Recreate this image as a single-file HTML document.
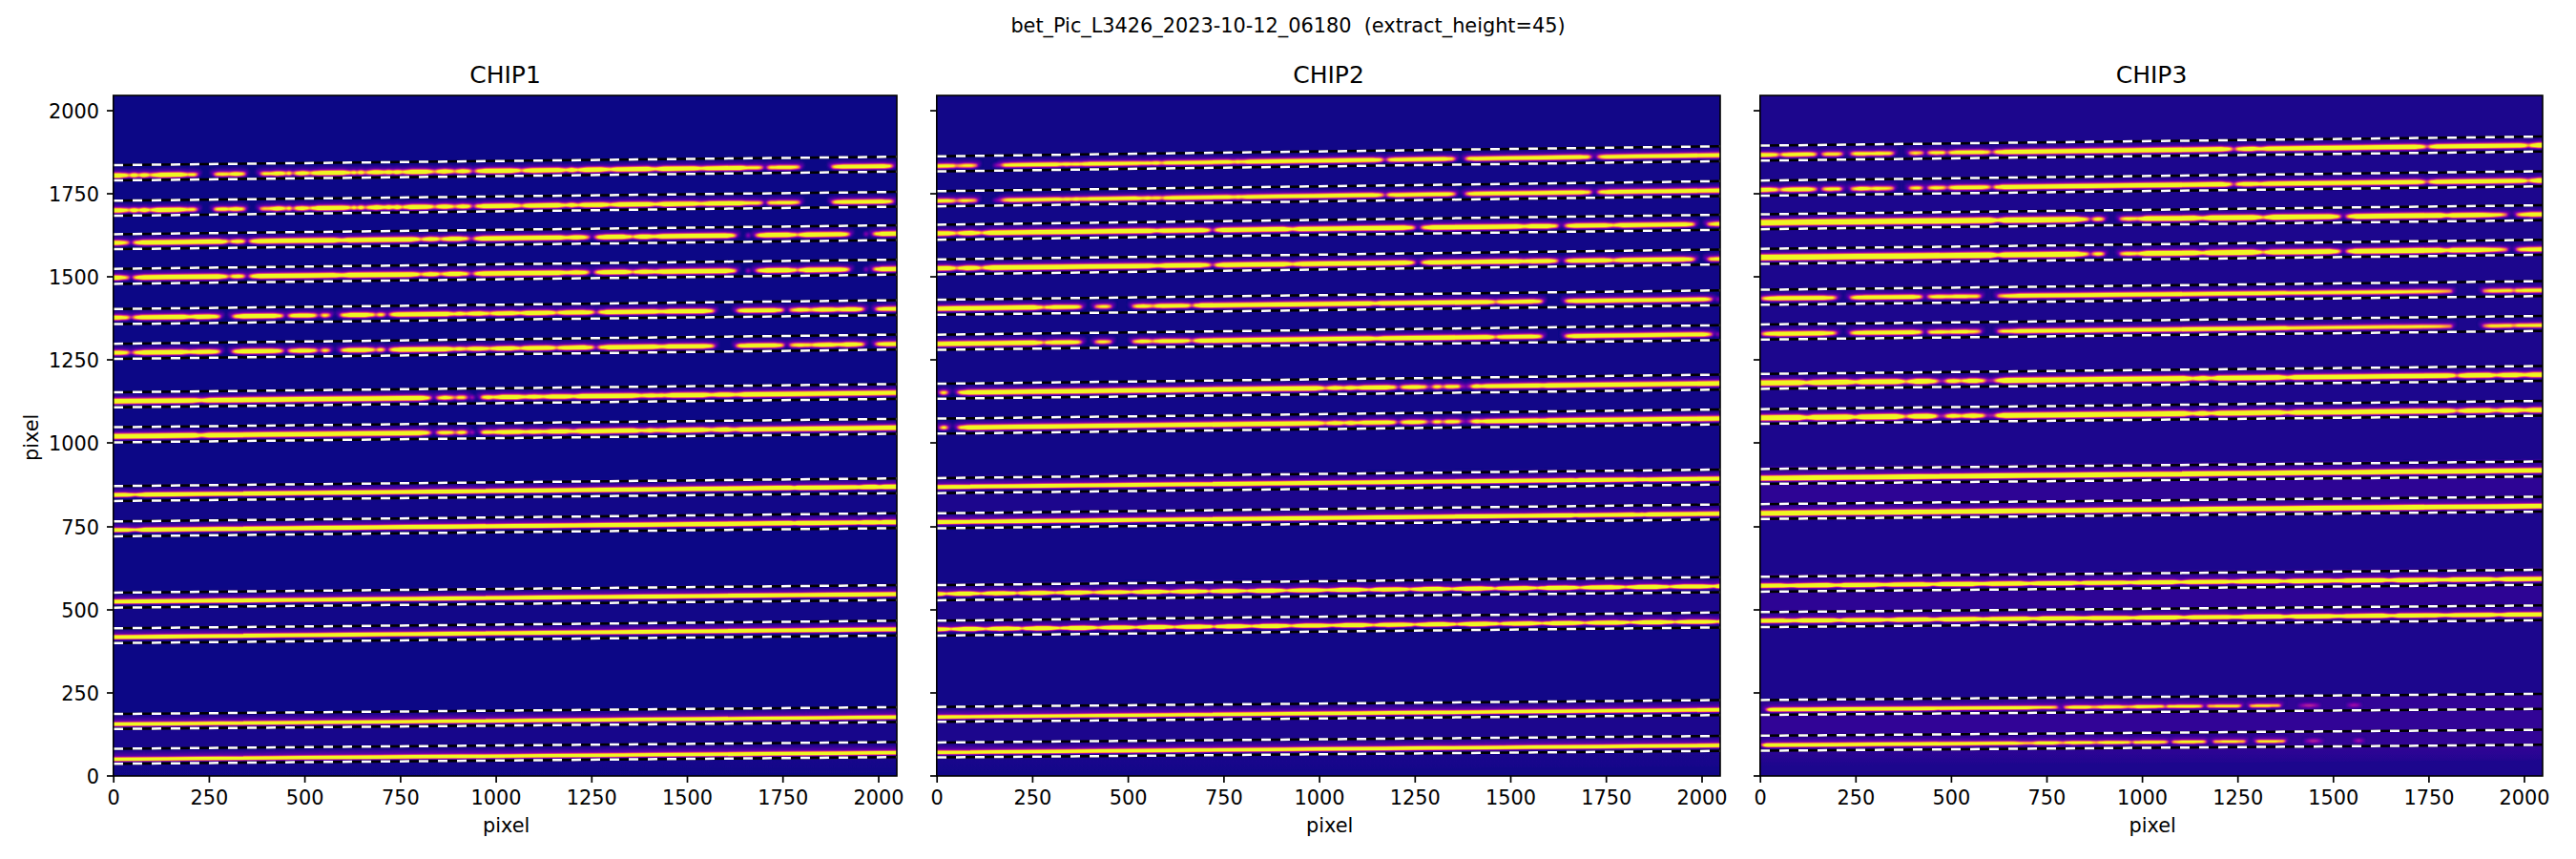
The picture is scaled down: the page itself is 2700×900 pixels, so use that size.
<!DOCTYPE html><html><head><meta charset="utf-8"><title>trace plot</title><style>html,body{margin:0;padding:0;background:#fff}svg{display:block}</style></head><body><svg width="2700" height="900" viewBox="0 0 2700 900" font-family="'DejaVu Sans','Liberation Sans',sans-serif" fill="#000">
<defs>
<filter id="pl" filterUnits="userSpaceOnUse" x="0" y="60" width="2700" height="800" color-interpolation-filters="sRGB"><feComponentTransfer><feFuncR type="table" tableValues="0.0504 0.1324 0.1934 0.2480 0.2999 0.3502 0.3994 0.4477 0.4949 0.5406 0.5844 0.6260 0.6651 0.7018 0.7360 0.7681 0.7982 0.8266 0.8533 0.8784 0.9018 0.9233 0.9426 0.9594 0.9734 0.9842 0.9914 0.9945 0.9930 0.9865 0.9744 0.9568 0.9400 0.9400 0.9400 0.9400 0.9400 0.9400 0.9400 0.9400 0.9400 0.9400 0.9400 0.9400 0.9400 0.9400 0.9400 0.9400 0.9400 0.9400 0.9400 0.9400 0.9400 0.9400 0.9400 0.9400 0.9400 0.9400 0.9400 0.9400 0.9400 0.9400 0.9400 0.9400 0.9400"/><feFuncG type="table" tableValues="0.0298 0.0223 0.0184 0.0144 0.0096 0.0044 0.0009 0.0021 0.0120 0.0350 0.0686 0.1033 0.1386 0.1740 0.2094 0.2448 0.2802 0.3157 0.3516 0.3879 0.4251 0.4633 0.5026 0.5434 0.5858 0.6297 0.6754 0.7227 0.7717 0.8224 0.8746 0.9282 0.9752 0.9752 0.9752 0.9752 0.9752 0.9752 0.9752 0.9752 0.9752 0.9752 0.9752 0.9752 0.9752 0.9752 0.9752 0.9752 0.9752 0.9752 0.9752 0.9752 0.9752 0.9752 0.9752 0.9752 0.9752 0.9752 0.9752 0.9752 0.9752 0.9752 0.9752 0.9752 0.9752"/><feFuncB type="table" tableValues="0.5280 0.5633 0.5903 0.6129 0.6316 0.6463 0.6561 0.6602 0.6579 0.6486 0.6328 0.6113 0.5856 0.5573 0.5279 0.4985 0.4695 0.4413 0.4137 0.3866 0.3597 0.3328 0.3058 0.2787 0.2515 0.2246 0.1985 0.1744 0.1548 0.1436 0.1441 0.1524 0.1313 0.1313 0.1313 0.1313 0.1313 0.1313 0.1313 0.1313 0.1313 0.1313 0.1313 0.1313 0.1313 0.1313 0.1313 0.1313 0.1313 0.1313 0.1313 0.1313 0.1313 0.1313 0.1313 0.1313 0.1313 0.1313 0.1313 0.1313 0.1313 0.1313 0.1313 0.1313 0.1313"/></feComponentTransfer></filter>
<clipPath id="c0"><rect x="118.8" y="100.0" width="821.2" height="713.0"/></clipPath>
<clipPath id="c1"><rect x="981.8" y="100.0" width="821.2" height="713.0"/></clipPath>
<clipPath id="c2"><rect x="1844.8" y="100.0" width="820.2" height="713.0"/></clipPath>
<filter id="blA" filterUnits="userSpaceOnUse" x="0" y="60" width="2700" height="800" color-interpolation-filters="sRGB"><feGaussianBlur stdDeviation="1.0 1.4"/></filter>
<filter id="blB" filterUnits="userSpaceOnUse" x="0" y="60" width="2700" height="800" color-interpolation-filters="sRGB"><feGaussianBlur stdDeviation="1.0 1.3"/></filter>
<filter id="blC" filterUnits="userSpaceOnUse" x="0" y="60" width="2700" height="800" color-interpolation-filters="sRGB"><feGaussianBlur stdDeviation="1.0 1.0"/></filter>
<linearGradient id="fd0" x1="0" y1="0" x2="0" y2="1"><stop offset="0" stop-color="#020202"/><stop offset="1" stop-color="#000"/></linearGradient>
<linearGradient id="fd1" x1="0" y1="0" x2="0" y2="1"><stop offset="0" stop-color="#030303"/><stop offset="1" stop-color="#010101"/></linearGradient>
<linearGradient id="fd2" x1="0" y1="0" x2="0" y2="1"><stop offset="0" stop-color="#080808"/><stop offset="1" stop-color="#030303"/></linearGradient>
</defs>
<rect width="2700" height="900" fill="#fff"/>
<g clip-path="url(#c0)"><g filter="url(#pl)">
<rect x="99.0" y="80.0" width="861.0" height="753.0" fill="#000"/>
<path d="M114.0 506.3L945.0 498.2L945.0 555.3L114.0 563.9Z" fill="#010101"/>
<path d="M114.0 618.0L945.0 610.0L945.0 667.9L114.0 675.8Z" fill="#010101"/>
<path d="M114.0 749.1L945.0 741.9L945.0 795.2L114.0 802.2Z" fill="#020202"/>
<path d="M114.0 802.2L945.0 795.2L945.0 809.2L114.0 816.2Z" fill="url(#fd0)"/>
<g filter="url(#blA)"><defs><path id="b0A" d="M107 182.5L125.3 182.3L127.3 182.4L130.3 182.6L133.3 182.7L135.3 183.1L138.3 183.7L135.3 184.3L133.3 184.7L130.3 185L127.3 185.2L125.3 185.4L107 185.6ZM133.1 183.7L136.1 183.1L137 182.7L138.4 182.5L139.7 182.3L140.6 182.2L141.5 182.3L142.8 182.5L144.2 182.6L145.1 183L148.1 183.5L145.1 184.2L144.2 184.6L142.8 184.8L141.5 185L140.6 185.1L139.7 185L138.4 184.8L137 184.7L136.1 184.3ZM142.6 183.6L145.6 183L146.7 182.6L148.4 182.4L150.1 182.2L151.2 182.1L152.3 182.2L154 182.3L155.7 182.5L156.8 182.8L159.8 183.4L156.8 184.1L155.7 184.4L154 184.6L152.3 184.8L151.2 184.9L150.1 184.9L148.4 184.7L146.7 184.5L145.6 184.2ZM154.5 183.5L157.5 182.8L159.5 182.4L162.5 182.2L165.5 181.9L167.5 181.8L187.2 181.5L189.2 181.6L192.2 181.8L195.2 182L197.2 182.3L200.2 182.9L197.2 183.6L195.2 184L192.2 184.2L189.2 184.5L187.2 184.6L167.5 184.9L165.5 184.8L162.5 184.6L159.5 184.4L157.5 184.1ZM193.2 183L196.2 182.3L197.2 182.2L198.6 182L200 181.9L201 181.9L201.9 181.9L203.3 181.9L204.8 182.1L205.7 182.2L208.7 182.8L205.7 183.5L204.8 183.7L203.3 183.9L201.9 183.9L201 183.9L200 183.9L198.6 183.9L197.2 183.8L196.2 183.6ZM222.7 182.6L225.7 182L227.2 181.7L229.4 181.5L231.6 181.4L233.1 181.4L234.5 181.4L236.7 181.4L238.9 181.5L240.4 181.8L243.4 182.4L240.4 183L238.9 183.4L236.7 183.5L234.5 183.6L233.1 183.7L231.6 183.6L229.4 183.6L227.2 183.5L225.7 183.2ZM236.9 182.5L239.9 181.8L241.4 181.4L243.7 181.3L246 181.1L247.5 181L249 181.1L251.3 181.2L253.6 181.3L255.1 181.6L258.1 182.2L255.1 182.9L253.6 183.2L251.3 183.4L249 183.6L247.5 183.7L246 183.6L243.7 183.5L241.4 183.4L239.9 183.1ZM270.8 182.1L273.8 181.4L274.9 181.2L276.5 181L278.1 181L279.1 181L280.2 181L281.8 181L283.4 181.1L284.4 181.3L287.4 181.9L284.4 182.5L283.4 182.7L281.8 182.9L280.2 182.9L279.1 183L278.1 183L276.5 183L274.9 182.8L273.8 182.6ZM279.8 182L282.8 181.3L284.5 180.9L287 180.7L289.5 180.5L291.2 180.4L292.9 180.5L295.4 180.6L297.9 180.7L299.6 181.1L302.6 181.7L299.6 182.3L297.9 182.7L295.4 182.9L292.9 183.1L291.2 183.3L289.5 183.2L287 183L284.5 182.9L282.8 182.5ZM297.4 181.7L300.4 181.1L300.9 180.8L301.6 180.7L302.3 180.6L302.8 180.5L303.2 180.6L303.9 180.6L304.6 180.7L305.1 181L308.1 181.6L305.1 182.3L304.6 182.6L303.9 182.7L303.2 182.8L302.8 182.8L302.3 182.8L301.6 182.7L300.9 182.6L300.4 182.3ZM305.9 181.6L308.9 181L310.4 180.6L312.8 180.4L315.2 180.2L316.8 180.1L318.3 180.1L320.7 180.3L323.1 180.4L324.7 180.8L327.7 181.4L324.7 182L323.1 182.4L320.7 182.6L318.3 182.8L316.8 182.9L315.2 182.9L312.8 182.7L310.4 182.6L308.9 182.2ZM322.2 181.4L325.2 180.8L327.2 180.4L330.2 180.1L333.2 179.9L335.2 179.7L358 179.4L360 179.5L363 179.7L366 179.9L368 180.3L371 180.8L368 181.5L366 181.9L363 182.1L360 182.4L358 182.6L335.2 182.8L333.2 182.7L330.2 182.5L327.2 182.4L325.2 182ZM365.3 180.9L368.3 180.3L368.9 179.9L369.7 179.8L370.4 179.7L371 179.7L371.5 179.7L372.3 179.8L373 179.9L373.6 180.2L376.6 180.8L373.6 181.4L373 181.8L372.3 181.9L371.5 182L371 182L370.4 182L369.7 181.9L368.9 181.8L368.3 181.5ZM371.9 180.8L374.9 180.2L375.6 179.8L376.6 179.7L377.6 179.6L378.3 179.5L379 179.6L380 179.7L381 179.8L381.7 180.1L384.7 180.7L381.7 181.3L381 181.7L380 181.8L379 181.9L378.3 182L377.6 181.9L376.6 181.8L375.6 181.8L374.9 181.4ZM380.8 180.7L383.8 180.1L385.8 179.7L388.8 179.4L391.8 179.1L393.8 179L394.2 179L396.2 179.1L399.2 179.3L402.2 179.5L404.2 179.8L407.2 180.4L404.2 181.1L402.2 181.5L399.2 181.7L396.2 182L394.2 182.1L393.8 182.1L391.8 182L388.8 181.8L385.8 181.7L383.8 181.3ZM399.6 180.5L402.6 179.8L403.6 179.5L405 179.3L406.5 179.1L407.5 179L408.4 179L409.9 179.2L411.4 179.4L412.4 179.7L415.4 180.3L412.4 181L411.4 181.3L409.9 181.5L408.4 181.7L407.5 181.8L406.5 181.8L405 181.6L403.6 181.4L402.6 181.1ZM408 180.4L411 179.7L412.1 179.4L413.7 179.2L415.2 179L416.3 178.9L417.3 178.9L418.9 179.1L420.4 179.3L421.5 179.6L424.5 180.2L421.5 180.9L420.4 181.2L418.9 181.4L417.3 181.6L416.3 181.7L415.2 181.7L413.7 181.5L412.1 181.3L411 181ZM418.5 180.3L421.5 179.6L423.5 179.2L426.5 179L429.5 178.7L431.5 178.5L445 178.4L447 178.5L450 178.7L453 178.9L455 179.2L458 179.8L455 180.4L453 180.8L450 181.1L447 181.4L445 181.5L431.5 181.7L429.5 181.6L426.5 181.4L423.5 181.2L421.5 180.9ZM453.4 179.8L456.4 179.2L458.3 178.8L461.3 178.6L464.3 178.3L466.3 178.1L468.3 178.2L471.3 178.4L474.2 178.6L476.2 179L479.2 179.5L476.2 180.2L474.2 180.6L471.3 180.8L468.3 181.1L466.3 181.3L464.3 181.2L461.3 180.9L458.3 180.8L456.4 180.4ZM474.1 179.6L477.1 178.9L478.7 178.6L481.1 178.4L483.6 178.1L485.2 178L486.8 178.1L489.3 178.3L491.7 178.4L493.3 178.7L496.3 179.3L493.3 180L491.7 180.4L489.3 180.6L486.8 180.8L485.2 180.9L483.6 180.8L481.1 180.7L478.7 180.5L477.1 180.2ZM495.7 179.3L498.7 178.7L500.7 178.3L503.7 178L506.7 177.8L508.7 177.6L536.3 177.3L538.3 177.4L541.3 177.6L544.3 177.7L546.3 178.1L549.3 178.7L546.3 179.3L544.3 179.7L541.3 180L538.3 180.3L536.3 180.4L508.7 180.7L506.7 180.6L503.7 180.4L500.7 180.3L498.7 179.9ZM544.1 178.7L547.1 178.1L549.1 177.7L552.1 177.5L555.1 177.2L557.1 177L583.9 176.7L585.9 176.8L588.9 177L591.9 177.2L593.9 177.5L596.9 178.1L593.9 178.8L591.9 179.2L588.9 179.4L585.9 179.7L583.9 179.8L557.1 180.2L555.1 180.1L552.1 179.9L549.1 179.7L547.1 179.3ZM589.6 178.2L592.6 177.5L593.9 177.2L595.9 177L597.9 176.7L599.3 176.6L600.6 176.7L602.6 176.9L604.6 177L605.9 177.4L608.9 178L605.9 178.6L604.6 179L602.6 179.2L600.6 179.4L599.3 179.5L597.9 179.4L595.9 179.3L593.9 179.1L592.6 178.8ZM602 178L605 177.4L607 177L610 176.7L613 176.5L615 176.3L630.3 176.1L632.3 176.2L635.3 176.4L638.3 176.6L640.3 177L643.3 177.5L640.3 178.2L638.3 178.6L635.3 178.8L632.3 179.1L630.3 179.3L615 179.5L613 179.4L610 179.2L607 179L605 178.6ZM635.9 177.6L638.9 177L640.9 176.6L643.9 176.3L646.9 176L648.9 175.9L677.8 175.5L679.8 175.6L682.8 175.9L685.8 176L687.8 176.4L690.8 177L687.8 177.6L685.8 178L682.8 178.3L679.8 178.6L677.8 178.7L648.9 179.1L646.9 179L643.9 178.7L640.9 178.6L638.9 178.2ZM683.1 177.1L686.1 176.4L688.1 176L691.1 175.8L694.1 175.5L696.1 175.3L725.7 175L727.7 175.1L730.7 175.3L733.7 175.5L735.7 175.8L738.7 176.4L735.7 177L733.7 177.4L730.7 177.7L727.7 178L725.7 178.1L696.1 178.5L694.1 178.4L691.1 178.2L688.1 178L686.1 177.6ZM730.7 176.5L733.7 175.8L735.7 175.4L738.7 175.2L741.7 175L743.7 174.9L775.9 174.5L777.9 174.6L780.9 174.7L783.9 174.9L785.9 175.2L788.9 175.8L785.9 176.4L783.9 176.8L780.9 177L777.9 177.3L775.9 177.4L743.7 177.8L741.7 177.7L738.7 177.5L735.7 177.4L733.7 177.1ZM778 175.9L781 175.3L782.7 175L785.3 174.8L787.8 174.8L789.5 174.7L791.2 174.7L793.8 174.7L796.4 174.8L798.1 175L801.1 175.6L798.1 176.3L796.4 176.6L793.8 176.7L791.2 176.8L789.5 176.8L787.8 176.8L785.3 176.8L782.7 176.7L781 176.5ZM802.4 175.6L805.4 175L807.4 174.6L810.4 174.5L813.4 174.4L815.4 174.3L827.2 174.2L829.2 174.2L832.2 174.2L835.2 174.3L837.2 174.6L840.2 175.2L837.2 175.8L835.2 176.1L832.2 176.3L829.2 176.4L827.2 176.4L815.4 176.6L813.4 176.6L810.4 176.5L807.4 176.5L805.4 176.2ZM870.1 174.8L873.1 174.1L875.1 173.8L878.1 173.6L881.1 173.4L883.1 173.3L925 172.8L927 172.8L930 173L933 173.1L935 173.4L938 174L935 174.6L933 175L930 175.2L927 175.4L925 175.5L883.1 176L881.1 175.9L878.1 175.8L875.1 175.7L873.1 175.4ZM107 219.1L125.3 218.9L127.3 219L130.3 219.2L133.3 219.3L135.3 219.7L138.3 220.3L135.3 220.9L133.3 221.3L130.3 221.6L127.3 221.8L125.3 222L107 222.2ZM133.1 220.3L136.1 219.7L137 219.3L138.4 219.1L139.7 218.9L140.6 218.8L141.5 218.9L142.8 219.1L144.2 219.2L145.1 219.6L148.1 220.2L145.1 220.8L144.2 221.2L142.8 221.4L141.5 221.6L140.6 221.7L139.7 221.6L138.4 221.4L137 221.3L136.1 220.9ZM142.6 220.2L145.6 219.6L146.7 219.2L148.4 219L150.1 218.8L151.2 218.7L152.3 218.8L154 219L155.7 219.1L156.8 219.4L159.8 220L156.8 220.7L155.7 221.1L154 221.2L152.3 221.5L151.2 221.6L150.1 221.5L148.4 221.3L146.7 221.2L145.6 220.8ZM154.5 220.1L157.5 219.4L159.5 219L162.5 218.8L165.5 218.5L167.5 218.4L187.2 218.2L189.2 218.3L192.2 218.5L195.2 218.6L197.2 219L200.2 219.6L197.2 220.2L195.2 220.6L192.2 220.8L189.2 221.1L187.2 221.3L167.5 221.5L165.5 221.4L162.5 221.2L159.5 221L157.5 220.7ZM193.2 219.6L196.2 219L197.2 218.8L198.6 218.6L200 218.6L201 218.5L201.9 218.5L203.3 218.6L204.8 218.7L205.7 218.9L208.7 219.5L205.7 220.1L204.8 220.3L203.3 220.5L201.9 220.5L201 220.6L200 220.6L198.6 220.6L197.2 220.4L196.2 220.2ZM222.7 219.3L225.7 218.6L227.2 218.3L229.4 218.2L231.6 218.1L233.1 218L234.5 218.1L236.7 218.1L238.9 218.2L240.4 218.5L243.4 219.1L240.4 219.7L238.9 220L236.7 220.2L234.5 220.3L233.1 220.3L231.6 220.3L229.4 220.3L227.2 220.2L225.7 219.9ZM236.9 219.1L239.9 218.5L241.4 218.1L243.7 218L246 217.8L247.5 217.7L249 217.7L251.3 217.9L253.6 218L255.1 218.3L258.1 218.9L255.1 219.5L253.6 219.9L251.3 220.1L249 220.2L247.5 220.3L246 220.3L243.7 220.2L241.4 220.1L239.9 219.7ZM270.8 218.7L273.8 218.1L274.9 217.9L276.5 217.7L278.1 217.7L279.1 217.7L280.2 217.7L281.8 217.7L283.4 217.8L284.4 218L287.4 218.6L284.4 219.2L283.4 219.4L281.8 219.6L280.2 219.6L279.1 219.6L278.1 219.6L276.5 219.6L274.9 219.5L273.8 219.3ZM279.8 218.6L282.8 218L284.5 217.6L287 217.4L289.5 217.2L291.2 217.1L292.9 217.1L295.4 217.3L297.9 217.4L299.6 217.8L302.6 218.4L299.6 219L297.9 219.4L295.4 219.6L292.9 219.8L291.2 219.9L289.5 219.9L287 219.7L284.5 219.6L282.8 219.2ZM297.4 218.4L300.4 217.8L300.9 217.5L301.6 217.4L302.3 217.3L302.8 217.2L303.2 217.3L303.9 217.3L304.6 217.4L305.1 217.7L308.1 218.3L305.1 219L304.6 219.3L303.9 219.4L303.2 219.5L302.8 219.5L302.3 219.5L301.6 219.4L300.9 219.3L300.4 219ZM305.9 218.3L308.9 217.7L310.4 217.3L312.8 217.1L315.2 216.9L316.8 216.8L318.3 216.9L320.7 217L323.1 217.2L324.7 217.5L327.7 218.1L324.7 218.7L323.1 219.1L320.7 219.3L318.3 219.5L316.8 219.7L315.2 219.6L312.8 219.4L310.4 219.3L308.9 218.9ZM322.2 218.1L325.2 217.5L327.2 217.1L330.2 216.9L333.2 216.6L335.2 216.4L358 216.2L360 216.3L363 216.5L366 216.6L368 217L371 217.6L368 218.2L366 218.6L363 218.9L360 219.2L358 219.3L335.2 219.6L333.2 219.5L330.2 219.3L327.2 219.1L325.2 218.7ZM365.3 217.6L368.3 217L368.9 216.7L369.7 216.6L370.4 216.5L371 216.4L371.5 216.5L372.3 216.5L373 216.6L373.6 216.9L376.6 217.5L373.6 218.2L373 218.5L372.3 218.6L371.5 218.7L371 218.7L370.4 218.7L369.7 218.6L368.9 218.5L368.3 218.2ZM371.9 217.6L374.9 216.9L375.6 216.6L376.6 216.5L377.6 216.3L378.3 216.3L379 216.3L380 216.4L381 216.5L381.7 216.8L384.7 217.4L381.7 218.1L381 218.4L380 218.5L379 218.7L378.3 218.7L377.6 218.7L376.6 218.6L375.6 218.5L374.9 218.2ZM380.8 217.5L383.8 216.8L385.8 216.4L388.8 216.2L391.8 215.9L393.8 215.8L394.2 215.8L396.2 215.8L399.2 216.1L402.2 216.2L404.2 216.6L407.2 217.2L404.2 217.8L402.2 218.2L399.2 218.5L396.2 218.7L394.2 218.9L393.8 218.9L391.8 218.8L388.8 218.6L385.8 218.4L383.8 218.1ZM399.6 217.3L402.6 216.6L403.6 216.2L405 216L406.5 215.8L407.5 215.7L408.4 215.8L409.9 216L411.4 216.1L412.4 216.5L415.4 217.1L412.4 217.7L411.4 218.1L409.9 218.3L408.4 218.5L407.5 218.6L406.5 218.5L405 218.3L403.6 218.2L402.6 217.8ZM408 217.2L411 216.5L412.1 216.1L413.7 215.9L415.2 215.7L416.3 215.6L417.3 215.7L418.9 215.9L420.4 216L421.5 216.4L424.5 217L421.5 217.6L420.4 218L418.9 218.2L417.3 218.4L416.3 218.5L415.2 218.4L413.7 218.2L412.1 218.1L411 217.7ZM418.5 217L421.5 216.4L423.5 216L426.5 215.7L429.5 215.5L431.5 215.3L445 215.2L447 215.3L450 215.5L453 215.6L455 216L458 216.6L455 217.2L453 217.6L450 217.9L447 218.2L445 218.3L431.5 218.5L429.5 218.4L426.5 218.1L423.5 218L421.5 217.6ZM453.4 216.6L456.4 216L458.3 215.6L461.3 215.3L464.3 215.1L466.3 214.9L468.3 215L471.3 215.2L474.2 215.4L476.2 215.7L479.2 216.3L476.2 217L474.2 217.4L471.3 217.6L468.3 217.9L466.3 218.1L464.3 218L461.3 217.7L458.3 217.6L456.4 217.2ZM474.1 216.4L477.1 215.7L478.7 215.4L481.1 215.2L483.6 214.9L485.2 214.8L486.8 214.9L489.3 215.1L491.7 215.2L493.3 215.5L496.3 216.1L493.3 216.8L491.7 217.2L489.3 217.4L486.8 217.6L485.2 217.7L483.6 217.6L481.1 217.5L478.7 217.3L477.1 217ZM495.7 216.1L498.7 215.5L500.7 215.1L503.7 214.9L506.7 214.6L508.7 214.4L536.3 214.1L538.3 214.2L541.3 214.4L544.3 214.6L546.3 214.9L549.3 215.5L546.3 216.2L544.3 216.6L541.3 216.8L538.3 217.1L536.3 217.2L508.7 217.6L506.7 217.5L503.7 217.2L500.7 217.1L498.7 216.7ZM544.1 215.6L547.1 214.9L549.1 214.5L552.1 214.3L555.1 214L557.1 213.9L583.9 213.5L585.9 213.6L588.9 213.9L591.9 214L593.9 214.4L596.9 215L593.9 215.6L591.9 216L588.9 216.3L585.9 216.5L583.9 216.7L557.1 217L555.1 216.9L552.1 216.7L549.1 216.5L547.1 216.2ZM589.6 215.1L592.6 214.4L593.9 214L595.9 213.8L597.9 213.6L599.3 213.5L600.6 213.6L602.6 213.8L604.6 213.9L605.9 214.2L608.9 214.8L605.9 215.5L604.6 215.9L602.6 216.1L600.6 216.3L599.3 216.4L597.9 216.3L595.9 216.1L593.9 216L592.6 215.6ZM602 214.9L605 214.3L607 213.9L610 213.6L613 213.3L615 213.2L630.3 213L632.3 213.1L635.3 213.3L638.3 213.5L640.3 213.8L643.3 214.4L640.3 215.1L638.3 215.5L635.3 215.7L632.3 216L630.3 216.2L615 216.3L613 216.2L610 216L607 215.8L605 215.5ZM635.9 214.5L638.9 213.9L640.9 213.5L643.9 213.2L646.9 212.9L648.9 212.8L677.8 212.5L679.8 212.6L682.8 212.8L685.8 212.9L687.8 213.3L690.8 213.9L687.8 214.5L685.8 214.9L682.8 215.2L679.8 215.5L677.8 215.6L648.9 215.9L646.9 215.8L643.9 215.6L640.9 215.5L638.9 215.1ZM683.1 214L686.1 213.3L688.1 212.9L691.1 212.7L694.1 212.4L696.1 212.2L725.7 211.9L727.7 212L730.7 212.2L733.7 212.4L735.7 212.7L738.7 213.3L735.7 214L733.7 214.4L730.7 214.6L727.7 214.9L725.7 215.1L696.1 215.4L694.1 215.3L691.1 215.1L688.1 214.9L686.1 214.6ZM730.7 213.4L733.7 212.8L735.7 212.4L738.7 212.2L741.7 211.9L743.7 211.8L775.9 211.4L777.9 211.5L780.9 211.7L783.9 211.8L785.9 212.2L788.9 212.7L785.9 213.4L783.9 213.8L780.9 214L777.9 214.2L775.9 214.4L743.7 214.7L741.7 214.7L738.7 214.5L735.7 214.4L733.7 214ZM778 212.9L781 212.2L782.7 212L785.3 211.8L787.8 211.7L789.5 211.7L791.2 211.7L793.8 211.7L796.4 211.8L798.1 212L801.1 212.6L798.1 213.3L796.4 213.5L793.8 213.7L791.2 213.8L789.5 213.8L787.8 213.8L785.3 213.8L782.7 213.7L781 213.5ZM802.4 212.6L805.4 211.9L807.4 211.6L810.4 211.5L813.4 211.4L815.4 211.3L827.2 211.2L829.2 211.2L832.2 211.2L835.2 211.3L837.2 211.6L840.2 212.2L837.2 212.8L835.2 213.1L832.2 213.3L829.2 213.4L827.2 213.4L815.4 213.6L813.4 213.6L810.4 213.5L807.4 213.4L805.4 213.2ZM870.1 211.8L873.1 211.2L875.1 210.8L878.1 210.6L881.1 210.4L883.1 210.3L925 209.8L927 209.9L930 210L933 210.1L935 210.4L938 211L935 211.7L933 212.1L930 212.2L927 212.4L925 212.5L883.1 213L881.1 213L878.1 212.8L875.1 212.7L873.1 212.4ZM107 253.1L124 252.9L126 253L129 253.2L132 253.4L134 253.7L137 254.3L134 254.9L132 255.3L129 255.6L126 255.8L124 255.9L107 256.1ZM138 254.3L141 253.6L143 253.2L146 253L149 252.6L151 252.5L228.8 251.6L230.8 251.7L233.8 251.9L236.8 252.1L238.8 252.5L241.8 253L238.8 253.7L236.8 254.1L233.8 254.4L230.8 254.7L228.8 254.8L151 255.8L149 255.6L146 255.4L143 255.2L141 254.9ZM239 253.1L242 252.4L243.4 252.1L245.5 251.9L247.6 251.8L249 251.7L250.4 251.7L252.4 251.8L254.5 251.9L255.9 252.3L258.9 252.8L255.9 253.5L254.5 253.9L252.4 254L250.4 254.2L249 254.2L247.6 254.2L245.5 254.1L243.4 254L242 253.7ZM259.4 252.8L262.4 252.2L264.4 251.8L267.4 251.5L270.4 251.2L272.4 251.1L350.2 250.1L352.2 250.2L355.2 250.5L358.2 250.7L360.2 251L363.2 251.6L360.2 252.3L358.2 252.7L355.2 252.9L352.2 253.2L350.2 253.4L272.4 254.3L270.4 254.2L267.4 254L264.4 253.8L262.4 253.4ZM353.1 251.7L356.1 251.1L358.1 250.7L361.1 250.4L364.1 250.1L366.1 249.9L430.9 249.2L432.9 249.3L435.9 249.5L438.9 249.7L440.9 250.1L443.9 250.7L440.9 251.3L438.9 251.7L435.9 252L432.9 252.3L430.9 252.5L366.1 253.2L364.1 253.1L361.1 252.9L358.1 252.7L356.1 252.3ZM438.7 250.7L441.7 250.1L443.6 249.7L446.6 249.5L449.5 249.2L451.5 249.1L453.4 249.2L456.4 249.3L459.3 249.5L461.2 249.8L464.2 250.4L461.2 251.1L459.3 251.5L456.4 251.7L453.4 251.9L451.5 252.1L449.5 252L446.6 251.8L443.6 251.7L441.7 251.3ZM459.1 250.5L462.1 249.8L464.1 249.4L467.1 249.2L470.1 249L472.1 248.8L480.6 248.7L482.6 248.8L485.6 249L488.6 249.1L490.6 249.5L493.6 250.1L490.6 250.7L488.6 251.1L485.6 251.3L482.6 251.6L480.6 251.7L472.1 251.8L470.1 251.7L467.1 251.6L464.1 251.4L462.1 251.1ZM494.1 250.1L497.1 249.4L499.1 249L502.1 248.7L505.1 248.4L507.1 248.3L585.2 247.4L587.2 247.5L590.2 247.7L593.2 247.9L595.2 248.3L598.2 248.8L595.2 249.5L593.2 249.9L590.2 250.2L587.2 250.5L585.2 250.6L507.1 251.6L505.1 251.4L502.1 251.2L499.1 251L497.1 250.7ZM588.9 248.9L591.9 248.3L593.9 247.9L596.9 247.7L599.9 247.4L601.9 247.3L606.4 247.2L608.4 247.3L611.4 247.5L614.4 247.7L616.4 248L619.4 248.6L616.4 249.2L614.4 249.6L611.4 249.9L608.4 250.1L606.4 250.2L601.9 250.3L599.9 250.2L596.9 250L593.9 249.9L591.9 249.5ZM621.5 248.6L624.5 247.9L626.5 247.5L629.5 247.3L632.5 247L634.5 246.8L652.8 246.6L654.8 246.7L657.8 246.9L660.8 247.1L662.8 247.5L665.8 248L662.8 248.7L660.8 249.1L657.8 249.3L654.8 249.6L652.8 249.8L634.5 250L632.5 249.9L629.5 249.7L626.5 249.5L624.5 249.1ZM660.6 248.1L663.6 247.4L665.6 247.1L668.6 246.8L671.6 246.6L673.6 246.4L678.1 246.4L680.1 246.5L683.1 246.7L686.1 246.8L688.1 247.2L691.1 247.7L688.1 248.4L686.1 248.8L683.1 249L680.1 249.3L678.1 249.4L673.6 249.4L671.6 249.4L668.6 249.2L665.6 249L663.6 248.7ZM681.8 247.9L684.8 247.2L686.8 246.8L689.8 246.5L692.8 246.2L694.8 246.1L760.4 245.3L762.4 245.4L765.4 245.6L768.4 245.8L770.4 246.2L773.4 246.8L770.4 247.4L768.4 247.8L765.4 248.1L762.4 248.4L760.4 248.6L694.8 249.3L692.8 249.2L689.8 249L686.8 248.8L684.8 248.4ZM790.2 246.6L793.2 245.9L795.2 245.5L798.2 245.3L801.2 245L803.2 244.8L825.6 244.6L827.6 244.7L830.6 244.9L833.6 245.1L835.6 245.4L838.6 246L835.6 246.7L833.6 247.1L830.6 247.3L827.6 247.6L825.6 247.7L803.2 248L801.2 247.9L798.2 247.7L795.2 247.5L793.2 247.2ZM833.4 246.1L836.4 245.4L838.4 245L841.4 244.8L844.4 244.5L846.4 244.3L879.4 243.9L881.4 244L884.4 244.3L887.4 244.4L889.4 244.8L892.4 245.4L889.4 246L887.4 246.4L884.4 246.7L881.4 246.9L879.4 247.1L846.4 247.5L844.4 247.4L841.4 247.2L838.4 247L836.4 246.6ZM913.2 245.1L916.2 244.5L918.2 244.1L921.2 243.9L924.2 243.6L926.2 243.5L952 243.2L952 246.2L926.2 246.5L924.2 246.4L921.2 246.2L918.2 246L916.2 245.7ZM107 289.6L124 289.4L126 289.5L129 289.7L132 289.9L134 290.2L137 290.8L134 291.5L132 291.8L129 292.1L126 292.3L124 292.4L107 292.6ZM138 290.8L141 290.1L143 289.7L146 289.5L149 289.2L151 289L228.8 288.1L230.8 288.3L233.8 288.5L236.8 288.7L238.8 289L241.8 289.6L238.8 290.3L236.8 290.7L233.8 290.9L230.8 291.3L228.8 291.4L151 292.3L149 292.2L146 291.9L143 291.7L141 291.4ZM239 289.7L242 289L243.4 288.6L245.5 288.5L247.6 288.4L249 288.3L250.4 288.3L252.4 288.4L254.5 288.5L255.9 288.9L258.9 289.4L255.9 290.1L254.5 290.5L252.4 290.6L250.4 290.7L249 290.8L247.6 290.8L245.5 290.7L243.4 290.6L242 290.2ZM259.4 289.4L262.4 288.8L264.4 288.4L267.4 288.1L270.4 287.8L272.4 287.7L350.2 286.8L352.2 286.9L355.2 287.1L358.2 287.3L360.2 287.7L363.2 288.3L360.2 288.9L358.2 289.3L355.2 289.6L352.2 289.9L350.2 290.1L272.4 290.9L270.4 290.8L267.4 290.6L264.4 290.4L262.4 290ZM353.1 288.4L356.1 287.7L358.1 287.3L361.1 287.1L364.1 286.8L366.1 286.6L430.9 285.9L432.9 286L435.9 286.2L438.9 286.4L440.9 286.8L443.9 287.4L440.9 288L438.9 288.4L435.9 288.7L432.9 289L430.9 289.2L366.1 289.9L364.1 289.8L361.1 289.5L358.1 289.3L356.1 289ZM438.7 287.4L441.7 286.8L443.6 286.4L446.6 286.2L449.5 285.9L451.5 285.8L453.4 285.9L456.4 286.1L459.3 286.2L461.2 286.6L464.2 287.2L461.2 287.8L459.3 288.2L456.4 288.4L453.4 288.7L451.5 288.8L449.5 288.7L446.6 288.5L443.6 288.4L441.7 288ZM459.1 287.2L462.1 286.6L464.1 286.2L467.1 286L470.1 285.7L472.1 285.6L480.6 285.5L482.6 285.6L485.6 285.7L488.6 285.9L490.6 286.2L493.6 286.8L490.6 287.5L488.6 287.9L485.6 288.1L482.6 288.3L480.6 288.5L472.1 288.6L470.1 288.5L467.1 288.3L464.1 288.1L462.1 287.8ZM494.1 286.8L497.1 286.2L499.1 285.8L502.1 285.5L505.1 285.2L507.1 285L585.2 284.2L587.2 284.3L590.2 284.5L593.2 284.7L595.2 285.1L598.2 285.7L595.2 286.3L593.2 286.7L590.2 287L587.2 287.3L585.2 287.4L507.1 288.3L505.1 288.2L502.1 288L499.1 287.8L497.1 287.4ZM588.9 285.8L591.9 285.1L593.9 284.7L596.9 284.5L599.9 284.2L601.9 284.1L606.4 284.1L608.4 284.2L611.4 284.3L614.4 284.5L616.4 284.8L619.4 285.4L616.4 286.1L614.4 286.5L611.4 286.7L608.4 286.9L606.4 287.1L601.9 287.1L599.9 287L596.9 286.8L593.9 286.7L591.9 286.3ZM621.5 285.4L624.5 284.7L626.5 284.3L629.5 284.1L632.5 283.8L634.5 283.7L652.8 283.5L654.8 283.6L657.8 283.8L660.8 284L662.8 284.3L665.8 284.9L662.8 285.6L660.8 286L657.8 286.2L654.8 286.5L652.8 286.6L634.5 286.8L632.5 286.7L629.5 286.5L626.5 286.3L624.5 286ZM660.6 285L663.6 284.3L665.6 283.9L668.6 283.7L671.6 283.4L673.6 283.3L678.1 283.3L680.1 283.4L683.1 283.5L686.1 283.7L688.1 284L691.1 284.6L688.1 285.3L686.1 285.7L683.1 285.9L680.1 286.1L678.1 286.3L673.6 286.3L671.6 286.2L668.6 286L665.6 285.9L663.6 285.6ZM681.8 284.7L684.8 284.1L686.8 283.7L689.8 283.4L692.8 283.1L694.8 282.9L760.4 282.2L762.4 282.3L765.4 282.6L768.4 282.8L770.4 283.1L773.4 283.7L770.4 284.4L768.4 284.8L765.4 285L762.4 285.3L760.4 285.5L694.8 286.2L692.8 286.1L689.8 285.9L686.8 285.7L684.8 285.3ZM790.2 283.5L793.2 282.9L795.2 282.5L798.2 282.2L801.2 282L803.2 281.8L825.6 281.6L827.6 281.7L830.6 281.9L833.6 282L835.6 282.4L838.6 283L835.6 283.6L833.6 284L830.6 284.3L827.6 284.5L825.6 284.7L803.2 284.9L801.2 284.8L798.2 284.6L795.2 284.5L793.2 284.1ZM833.4 283L836.4 282.4L838.4 282L841.4 281.8L844.4 281.5L846.4 281.3L879.4 281L881.4 281.1L884.4 281.3L887.4 281.4L889.4 281.8L892.4 282.4L889.4 283L887.4 283.4L884.4 283.7L881.4 283.9L879.4 284.1L846.4 284.5L844.4 284.4L841.4 284.1L838.4 284L836.4 283.6ZM913.2 282.1L916.2 281.5L918.2 281.1L921.2 280.9L924.2 280.6L926.2 280.5L952 280.2L952 283.2L926.2 283.5L924.2 283.4L921.2 283.2L918.2 283.1L916.2 282.7ZM107 331.7L125 331.5L127 331.5L130 331.7L133 331.8L135 332.1L138 332.7L135 333.3L133 333.7L130 333.9L127 334.1L125 334.2L107 334.4ZM137.2 332.7L140.2 332L142.2 331.6L145.2 331.4L148.2 331.1L150.2 331L190.5 330.5L192.5 330.6L195.5 330.8L198.5 331L200.5 331.4L203.5 331.9L200.5 332.6L198.5 333L195.5 333.2L192.5 333.5L190.5 333.7L150.2 334.1L148.2 334L145.2 333.8L142.2 333.6L140.2 333.3ZM194.2 332L197.2 331.4L199.2 331L202.2 330.8L205.2 330.6L207.2 330.4L219.8 330.3L221.8 330.4L224.8 330.5L227.8 330.7L229.8 331L232.8 331.6L229.8 332.3L227.8 332.7L224.8 332.9L221.8 333.1L219.8 333.2L207.2 333.4L205.2 333.3L202.2 333.1L199.2 333L197.2 332.6ZM241.5 331.5L244.5 330.9L246.5 330.5L249.5 330.2L252.5 330L254.5 329.8L285.8 329.5L287.8 329.6L290.8 329.8L293.8 329.9L295.8 330.3L298.8 330.9L295.8 331.5L293.8 331.9L290.8 332.1L287.8 332.4L285.8 332.5L254.5 332.9L252.5 332.8L249.5 332.6L246.5 332.4L244.5 332.1ZM300.2 330.8L303.2 330.2L305.2 329.8L308.2 329.6L311.2 329.4L313.2 329.3L321.7 329.2L323.7 329.3L326.7 329.4L329.7 329.5L331.7 329.9L334.7 330.5L331.7 331.1L329.7 331.5L326.7 331.7L323.7 331.9L321.7 332L313.2 332.1L311.2 332L308.2 331.9L305.2 331.8L303.2 331.4ZM334.4 330.5L337.4 329.8L338.1 329.6L339.2 329.4L340.3 329.4L341.1 329.4L341.8 329.4L342.9 329.4L344 329.6L344.7 329.7L347.7 330.3L344.7 331L344 331.1L342.9 331.3L341.8 331.4L341.1 331.4L340.3 331.4L339.2 331.4L338.1 331.2L337.4 331ZM354.8 330.2L357.8 329.6L359.8 329.2L362.8 329L365.8 328.7L367.8 328.6L382.8 328.4L384.8 328.5L387.8 328.7L390.8 328.8L392.8 329.2L395.8 329.8L392.8 330.4L390.8 330.8L387.8 331L384.8 331.3L382.8 331.4L367.8 331.5L365.8 331.5L362.8 331.3L359.8 331.2L357.8 330.8ZM392.2 329.8L395.2 329.2L396 329L397.1 328.8L398.2 328.7L398.9 328.7L399.6 328.7L400.7 328.7L401.8 328.9L402.6 329.1L405.6 329.7L402.6 330.3L401.8 330.5L400.7 330.7L399.6 330.7L398.9 330.7L398.2 330.7L397.1 330.7L396 330.6L395.2 330.4ZM406.1 329.6L409.1 329L411.1 328.6L414.1 328.3L417.1 328.1L419.1 327.9L466.7 327.4L468.7 327.5L471.7 327.7L474.7 327.9L476.7 328.2L479.7 328.8L476.7 329.5L474.7 329.9L471.7 330.1L468.7 330.4L466.7 330.6L419.1 331.1L417.1 331L414.1 330.8L411.1 330.6L409.1 330.2ZM472.1 328.9L475.1 328.2L476.5 327.9L478.6 327.8L480.6 327.6L482 327.5L483.4 327.6L485.5 327.7L487.6 327.8L488.9 328.1L491.9 328.7L488.9 329.3L487.6 329.7L485.5 329.8L483.4 330L482 330L480.6 330L478.6 329.9L476.5 329.8L475.1 329.5ZM485.1 328.8L488.1 328.1L490.1 327.7L493.1 327.5L496.1 327.3L498.1 327.2L503.4 327.1L505.4 327.2L508.4 327.4L511.4 327.5L513.4 327.8L516.4 328.4L513.4 329.1L511.4 329.4L508.4 329.6L505.4 329.8L503.4 330L498.1 330L496.1 329.9L493.1 329.8L490.1 329.7L488.1 329.3ZM510.4 328.5L513.4 327.8L515.4 327.4L518.4 327.2L521.4 327L523.4 326.9L535.5 326.8L537.5 326.8L540.5 327L543.5 327.1L545.5 327.4L548.5 328L545.5 328.7L543.5 329.1L540.5 329.3L537.5 329.5L535.5 329.6L523.4 329.7L521.4 329.7L518.4 329.5L515.4 329.4L513.4 329.1ZM541.7 328.1L544.7 327.5L546.7 327.1L549.7 326.8L552.7 326.6L554.7 326.4L573 326.2L575 326.3L578 326.5L581 326.7L583 327L586 327.6L583 328.3L581 328.7L578 328.9L575 329.1L573 329.3L554.7 329.5L552.7 329.4L549.7 329.2L546.7 329L544.7 328.7ZM580.8 327.7L583.8 327L585.8 326.6L588.8 326.4L591.8 326.2L593.8 326.1L612.1 325.8L614.1 325.9L617.1 326.1L620.1 326.2L622.1 326.6L625.1 327.2L622.1 327.8L620.1 328.2L617.1 328.4L614.1 328.7L612.1 328.8L593.8 329L591.8 328.9L588.8 328.7L585.8 328.6L583.8 328.3ZM624.8 327.2L627.8 326.5L629.8 326.1L632.8 325.9L635.8 325.6L637.8 325.4L684.6 324.9L686.6 325L689.6 325.2L692.6 325.4L694.6 325.8L697.6 326.3L694.6 327L692.6 327.4L689.6 327.6L686.6 327.9L684.6 328.1L637.8 328.6L635.8 328.5L632.8 328.3L629.8 328.1L627.8 327.8ZM688.3 326.5L691.3 325.8L693.3 325.4L696.3 325.2L699.3 324.9L701.3 324.8L737.6 324.4L739.6 324.5L742.6 324.7L745.6 324.8L747.6 325.2L750.6 325.7L747.6 326.4L745.6 326.8L742.6 327L739.6 327.3L737.6 327.4L701.3 327.8L699.3 327.7L696.3 327.5L693.3 327.4L691.3 327ZM769.8 325.5L772.8 324.9L774.8 324.5L777.8 324.3L780.8 324.1L782.8 324L810.1 323.7L812.1 323.7L815.1 323.9L818.1 324L820.1 324.3L823.1 324.9L820.1 325.6L818.1 326L815.1 326.1L812.1 326.4L810.1 326.5L782.8 326.8L780.8 326.7L777.8 326.6L774.8 326.5L772.8 326.1ZM826.1 324.9L829.1 324.2L831.1 323.9L834.1 323.8L837.1 323.6L839.1 323.6L840.7 323.6L842.7 323.6L845.7 323.6L848.7 323.7L850.7 324L853.7 324.6L850.7 325.2L848.7 325.6L845.7 325.7L842.7 325.8L840.7 325.9L839.1 325.9L837.1 325.9L834.1 325.8L831.1 325.8L829.1 325.5ZM847.4 324.6L850.4 324L852.4 323.6L855.4 323.4L858.4 323.2L860.4 323.1L870.4 323L872.4 323.1L875.4 323.2L878.4 323.3L880.4 323.7L883.4 324.2L880.4 324.9L878.4 325.3L875.4 325.5L872.4 325.7L870.4 325.8L860.4 325.9L858.4 325.8L855.4 325.7L852.4 325.6L850.4 325.2ZM874.1 324.3L877.1 323.7L879.1 323.3L882.1 323.1L885.1 323L887.1 322.8L894.8 322.8L896.8 322.8L899.8 322.9L902.8 323L904.8 323.4L907.8 324L904.8 324.6L902.8 325L899.8 325.2L896.8 325.4L894.8 325.5L887.1 325.6L885.1 325.5L882.1 325.4L879.1 325.3L877.1 324.9ZM915.7 323.9L918.7 323.2L920.7 322.8L923.7 322.7L926.7 322.5L928.7 322.4L952 322.1L952 324.8L928.7 325.1L926.7 325L923.7 324.9L920.7 324.8L918.7 324.5ZM107 368.5L125 368.3L127 368.3L130 368.5L133 368.6L135 368.9L138 369.5L135 370.1L133 370.5L130 370.7L127 370.9L125 371L107 371.2ZM137.2 369.5L140.2 368.8L142.2 368.4L145.2 368.2L148.2 367.9L150.2 367.8L190.5 367.3L192.5 367.4L195.5 367.6L198.5 367.8L200.5 368.2L203.5 368.7L200.5 369.4L198.5 369.8L195.5 370L192.5 370.3L190.5 370.5L150.2 370.9L148.2 370.8L145.2 370.6L142.2 370.4L140.2 370.1ZM194.2 368.8L197.2 368.2L199.2 367.8L202.2 367.6L205.2 367.4L207.2 367.2L219.8 367.1L221.8 367.2L224.8 367.3L227.8 367.5L229.8 367.8L232.8 368.4L229.8 369.1L227.8 369.5L224.8 369.7L221.8 369.9L219.8 370L207.2 370.2L205.2 370.1L202.2 369.9L199.2 369.8L197.2 369.4ZM241.5 368.3L244.5 367.7L246.5 367.3L249.5 367L252.5 366.8L254.5 366.6L285.8 366.3L287.8 366.4L290.8 366.6L293.8 366.7L295.8 367.1L298.8 367.7L295.8 368.3L293.8 368.7L290.8 368.9L287.8 369.2L285.8 369.3L254.5 369.7L252.5 369.6L249.5 369.4L246.5 369.2L244.5 368.9ZM300.2 367.6L303.2 367L305.2 366.6L308.2 366.4L311.2 366.2L313.2 366.1L321.7 366L323.7 366.1L326.7 366.2L329.7 366.3L331.7 366.7L334.7 367.3L331.7 367.9L329.7 368.3L326.7 368.5L323.7 368.7L321.7 368.8L313.2 368.9L311.2 368.8L308.2 368.7L305.2 368.6L303.2 368.2ZM334.4 367.3L337.4 366.6L338.1 366.4L339.2 366.2L340.3 366.2L341.1 366.2L341.8 366.2L342.9 366.2L344 366.4L344.7 366.5L347.7 367.1L344.7 367.8L344 367.9L342.9 368.1L341.8 368.2L341.1 368.2L340.3 368.2L339.2 368.2L338.1 368L337.4 367.8ZM354.8 367L357.8 366.4L359.8 366L362.8 365.8L365.8 365.5L367.8 365.4L382.8 365.2L384.8 365.3L387.8 365.5L390.8 365.6L392.8 366L395.8 366.6L392.8 367.2L390.8 367.6L387.8 367.8L384.8 368.1L382.8 368.2L367.8 368.3L365.8 368.3L362.8 368.1L359.8 368L357.8 367.6ZM392.2 366.6L395.2 366L396 365.8L397.1 365.6L398.2 365.5L398.9 365.5L399.6 365.5L400.7 365.5L401.8 365.7L402.6 365.9L405.6 366.5L402.6 367.1L401.8 367.3L400.7 367.5L399.6 367.5L398.9 367.5L398.2 367.5L397.1 367.5L396 367.4L395.2 367.2ZM406.1 366.4L409.1 365.8L411.1 365.4L414.1 365.1L417.1 364.9L419.1 364.7L466.7 364.2L468.7 364.3L471.7 364.5L474.7 364.7L476.7 365L479.7 365.6L476.7 366.3L474.7 366.7L471.7 366.9L468.7 367.2L466.7 367.4L419.1 367.9L417.1 367.8L414.1 367.6L411.1 367.4L409.1 367ZM472.1 365.7L475.1 365L476.5 364.7L478.6 364.6L480.6 364.4L482 364.3L483.4 364.4L485.5 364.5L487.6 364.6L488.9 364.9L491.9 365.5L488.9 366.1L487.6 366.5L485.5 366.6L483.4 366.8L482 366.8L480.6 366.8L478.6 366.7L476.5 366.6L475.1 366.3ZM485.1 365.6L488.1 364.9L490.1 364.5L493.1 364.3L496.1 364.1L498.1 364L503.4 363.9L505.4 364L508.4 364.2L511.4 364.3L513.4 364.6L516.4 365.2L513.4 365.9L511.4 366.2L508.4 366.4L505.4 366.6L503.4 366.8L498.1 366.8L496.1 366.7L493.1 366.6L490.1 366.5L488.1 366.1ZM510.4 365.3L513.4 364.6L515.4 364.2L518.4 364L521.4 363.8L523.4 363.7L535.5 363.6L537.5 363.6L540.5 363.8L543.5 363.9L545.5 364.2L548.5 364.8L545.5 365.5L543.5 365.9L540.5 366.1L537.5 366.3L535.5 366.4L523.4 366.5L521.4 366.5L518.4 366.3L515.4 366.2L513.4 365.9ZM541.7 364.9L544.7 364.3L546.7 363.9L549.7 363.6L552.7 363.4L554.7 363.2L573 363L575 363.1L578 363.3L581 363.5L583 363.8L586 364.4L583 365.1L581 365.5L578 365.7L575 365.9L573 366.1L554.7 366.3L552.7 366.2L549.7 366L546.7 365.8L544.7 365.5ZM580.8 364.5L583.8 363.8L585.8 363.4L588.8 363.2L591.8 363L593.8 362.9L612.1 362.6L614.1 362.7L617.1 362.9L620.1 363L622.1 363.4L625.1 364L622.1 364.6L620.1 365L617.1 365.2L614.1 365.5L612.1 365.6L593.8 365.8L591.8 365.7L588.8 365.5L585.8 365.4L583.8 365.1ZM624.8 364L627.8 363.3L629.8 362.9L632.8 362.7L635.8 362.4L637.8 362.2L684.6 361.7L686.6 361.8L689.6 362L692.6 362.2L694.6 362.6L697.6 363.1L694.6 363.8L692.6 364.2L689.6 364.4L686.6 364.7L684.6 364.9L637.8 365.4L635.8 365.3L632.8 365.1L629.8 364.9L627.8 364.6ZM688.3 363.3L691.3 362.6L693.3 362.2L696.3 362L699.3 361.7L701.3 361.6L737.6 361.2L739.6 361.3L742.6 361.5L745.6 361.6L747.6 362L750.6 362.5L747.6 363.2L745.6 363.6L742.6 363.8L739.6 364.1L737.6 364.2L701.3 364.6L699.3 364.5L696.3 364.3L693.3 364.2L691.3 363.8ZM769.8 362.3L772.8 361.7L774.8 361.3L777.8 361.1L780.8 360.9L782.8 360.8L810.1 360.5L812.1 360.5L815.1 360.7L818.1 360.8L820.1 361.1L823.1 361.7L820.1 362.4L818.1 362.8L815.1 362.9L812.1 363.2L810.1 363.3L782.8 363.6L780.8 363.5L777.8 363.4L774.8 363.3L772.8 362.9ZM826.1 361.7L829.1 361L831.1 360.7L834.1 360.6L837.1 360.4L839.1 360.4L840.7 360.4L842.7 360.4L845.7 360.4L848.7 360.5L850.7 360.8L853.7 361.4L850.7 362L848.7 362.4L845.7 362.5L842.7 362.6L840.7 362.7L839.1 362.7L837.1 362.7L834.1 362.6L831.1 362.6L829.1 362.3ZM847.4 361.4L850.4 360.8L852.4 360.4L855.4 360.2L858.4 360L860.4 359.9L870.4 359.8L872.4 359.9L875.4 360L878.4 360.1L880.4 360.5L883.4 361L880.4 361.7L878.4 362.1L875.4 362.3L872.4 362.5L870.4 362.6L860.4 362.7L858.4 362.6L855.4 362.5L852.4 362.4L850.4 362ZM874.1 361.1L877.1 360.5L879.1 360.1L882.1 359.9L885.1 359.8L887.1 359.6L894.8 359.6L896.8 359.6L899.8 359.7L902.8 359.8L904.8 360.2L907.8 360.8L904.8 361.4L902.8 361.8L899.8 362L896.8 362.2L894.8 362.3L887.1 362.4L885.1 362.3L882.1 362.2L879.1 362.1L877.1 361.7ZM915.7 360.7L918.7 360L920.7 359.6L923.7 359.5L926.7 359.3L928.7 359.2L952 358.9L952 361.6L928.7 361.9L926.7 361.8L923.7 361.7L920.7 361.6L918.7 361.3ZM107 418.9L202.7 417.9L204.7 418L207.7 418.3L210.7 418.5L212.7 418.9L215.7 419.5L212.7 420.1L210.7 420.5L207.7 420.8L204.7 421.1L202.7 421.3L107 422.4ZM206.4 419.6L209.4 418.9L211.4 418.5L214.4 418.2L217.4 417.9L219.4 417.7L440.6 415.4L442.6 415.5L445.6 415.7L448.6 415.9L450.6 416.3L453.6 416.9L450.6 417.5L448.6 417.9L445.6 418.2L442.6 418.5L440.6 418.7L219.4 421.1L217.4 421L214.4 420.7L211.4 420.5L209.4 420.1ZM455.8 416.8L458.8 416.2L460.4 415.9L462.9 415.7L465.3 415.6L466.9 415.6L468.6 415.6L471 415.7L473.5 415.7L475.1 416L478.1 416.6L475.1 417.3L473.5 417.6L471 417.7L468.6 417.8L466.9 417.9L465.3 417.9L462.9 417.8L460.4 417.7L458.8 417.4ZM475.4 416.6L478.4 416L479.4 415.8L480.9 415.6L482.5 415.5L483.5 415.5L484.5 415.5L486.1 415.5L487.6 415.7L488.6 415.9L491.6 416.5L488.6 417.1L487.6 417.3L486.1 417.5L484.5 417.6L483.5 417.6L482.5 417.6L480.9 417.6L479.4 417.4L478.4 417.2ZM502.2 416.3L505.2 415.7L506.5 415.3L508.5 415.2L510.5 415.1L511.8 415.1L513.1 415.1L515 415.2L517 415.2L518.3 415.6L521.3 416.1L518.3 416.8L517 417.1L515 417.2L513.1 417.4L511.8 417.4L510.5 417.4L508.5 417.3L506.5 417.3L505.2 416.9ZM513.7 416.2L516.7 415.6L518.7 415.2L521.7 415L524.7 414.7L526.7 414.6L542 414.4L544 414.5L547 414.7L550 414.8L552 415.2L555 415.8L552 416.4L550 416.8L547 417L544 417.3L542 417.4L526.7 417.6L524.7 417.5L521.7 417.3L518.7 417.2L516.7 416.8ZM546.6 415.9L549.6 415.2L551.6 414.8L554.6 414.6L557.6 414.4L559.6 414.3L560.7 414.3L562.7 414.4L565.7 414.5L568.7 414.6L570.7 415L573.7 415.6L570.7 416.2L568.7 416.6L565.7 416.8L562.7 417L560.7 417.1L559.6 417.2L557.6 417.1L554.6 416.9L551.6 416.8L549.6 416.5ZM565.3 415.7L568.3 415L570.3 414.6L573.3 414.4L576.3 414.2L578.3 414L592.5 413.9L594.5 414L597.5 414.1L600.5 414.3L602.5 414.6L605.5 415.2L602.5 415.9L600.5 416.3L597.5 416.5L594.5 416.7L592.5 416.9L578.3 417L576.3 416.9L573.3 416.7L570.3 416.6L568.3 416.2ZM597.1 415.3L600.1 414.7L602.1 414.3L605.1 414L608.1 413.7L610.1 413.6L663.4 413L665.4 413.1L668.4 413.3L671.4 413.5L673.4 413.9L676.4 414.5L673.4 415.1L671.4 415.5L668.4 415.8L665.4 416.1L663.4 416.2L610.1 416.8L608.1 416.7L605.1 416.4L602.1 416.3L600.1 415.9ZM668 414.5L671 413.9L673 413.5L676 413.3L679 413.2L681 413L682.2 413L684.2 413.1L687.2 413.2L690.2 413.3L692.2 413.7L695.2 414.3L692.2 414.9L690.2 415.3L687.2 415.5L684.2 415.7L682.2 415.8L681 415.8L679 415.7L676 415.6L673 415.5L671 415.1ZM685.9 414.4L688.9 413.7L689.8 413.3L691.1 413.2L692.5 413.1L693.4 413L694.3 413.1L695.6 413.2L697 413.3L697.9 413.6L700.9 414.2L697.9 414.8L697 415.2L695.6 415.3L694.3 415.5L693.4 415.5L692.5 415.5L691.1 415.4L689.8 415.3L688.9 414.9ZM691.6 414.3L694.6 413.6L696.6 413.2L699.6 413L702.6 412.7L704.6 412.6L736.8 412.2L738.8 412.3L741.8 412.5L744.8 412.7L746.8 413.1L749.8 413.7L746.8 414.3L744.8 414.7L741.8 415L738.8 415.2L736.8 415.4L704.6 415.8L702.6 415.6L699.6 415.4L696.6 415.2L694.6 414.9ZM741.3 413.8L744.3 413.1L746.3 412.7L749.3 412.5L752.3 412.2L754.3 412.1L762 412L764 412.1L767 412.3L770 412.5L772 412.8L775 413.4L772 414L770 414.4L767 414.7L764 414.9L762 415.1L754.3 415.1L752.3 415L749.3 414.8L746.3 414.7L744.3 414.3ZM766.6 413.5L769.6 412.8L771.6 412.4L774.6 412.2L777.6 411.9L779.6 411.8L952 409.9L952 413L779.6 414.9L777.6 414.8L774.6 414.6L771.6 414.4L769.6 414.1ZM107 455.5L202.7 454.5L204.7 454.6L207.7 454.9L210.7 455.1L212.7 455.5L215.7 456.1L212.7 456.7L210.7 457.1L207.7 457.4L204.7 457.7L202.7 457.9L107 459ZM206.4 456.2L209.4 455.5L211.4 455.1L214.4 454.8L217.4 454.5L219.4 454.3L440.6 452L442.6 452.1L445.6 452.3L448.6 452.5L450.6 452.9L453.6 453.5L450.6 454.1L448.6 454.5L445.6 454.8L442.6 455.1L440.6 455.3L219.4 457.7L217.4 457.6L214.4 457.3L211.4 457.1L209.4 456.7ZM455.8 453.4L458.8 452.8L460.4 452.5L462.9 452.3L465.3 452.2L466.9 452.2L468.6 452.2L471 452.3L473.5 452.3L475.1 452.6L478.1 453.2L475.1 453.9L473.5 454.2L471 454.3L468.6 454.4L466.9 454.5L465.3 454.5L462.9 454.4L460.4 454.3L458.8 454ZM475.4 453.2L478.4 452.6L479.4 452.4L480.9 452.2L482.5 452.1L483.5 452.1L484.5 452.1L486.1 452.1L487.6 452.3L488.6 452.5L491.6 453.1L488.6 453.7L487.6 453.9L486.1 454.1L484.5 454.2L483.5 454.2L482.5 454.2L480.9 454.2L479.4 454L478.4 453.8ZM502.2 452.9L505.2 452.3L506.5 451.9L508.5 451.8L510.5 451.7L511.8 451.7L513.1 451.7L515 451.8L517 451.8L518.3 452.2L521.3 452.7L518.3 453.4L517 453.7L515 453.8L513.1 454L511.8 454L510.5 454L508.5 453.9L506.5 453.9L505.2 453.5ZM513.7 452.8L516.7 452.2L518.7 451.8L521.7 451.6L524.7 451.3L526.7 451.2L542 451L544 451.1L547 451.3L550 451.4L552 451.8L555 452.4L552 453L550 453.4L547 453.6L544 453.9L542 454L526.7 454.2L524.7 454.1L521.7 453.9L518.7 453.8L516.7 453.4ZM546.6 452.5L549.6 451.8L551.6 451.4L554.6 451.2L557.6 451L559.6 450.9L560.7 450.9L562.7 451L565.7 451.1L568.7 451.2L570.7 451.6L573.7 452.2L570.7 452.8L568.7 453.2L565.7 453.4L562.7 453.6L560.7 453.7L559.6 453.8L557.6 453.7L554.6 453.5L551.6 453.4L549.6 453.1ZM565.3 452.3L568.3 451.6L570.3 451.2L573.3 451L576.3 450.8L578.3 450.6L592.5 450.5L594.5 450.6L597.5 450.7L600.5 450.9L602.5 451.2L605.5 451.8L602.5 452.5L600.5 452.9L597.5 453.1L594.5 453.3L592.5 453.5L578.3 453.6L576.3 453.5L573.3 453.3L570.3 453.2L568.3 452.8ZM597.1 451.9L600.1 451.3L602.1 450.9L605.1 450.6L608.1 450.3L610.1 450.2L663.4 449.6L665.4 449.7L668.4 449.9L671.4 450.1L673.4 450.5L676.4 451.1L673.4 451.7L671.4 452.1L668.4 452.4L665.4 452.7L663.4 452.8L610.1 453.4L608.1 453.3L605.1 453L602.1 452.9L600.1 452.5ZM668 451.1L671 450.5L673 450.1L676 449.9L679 449.8L681 449.6L682.2 449.6L684.2 449.7L687.2 449.8L690.2 449.9L692.2 450.3L695.2 450.9L692.2 451.5L690.2 451.9L687.2 452.1L684.2 452.3L682.2 452.4L681 452.4L679 452.3L676 452.2L673 452.1L671 451.7ZM685.9 451L688.9 450.3L689.8 449.9L691.1 449.8L692.5 449.7L693.4 449.6L694.3 449.7L695.6 449.8L697 449.9L697.9 450.2L700.9 450.8L697.9 451.4L697 451.8L695.6 451.9L694.3 452.1L693.4 452.1L692.5 452.1L691.1 452L689.8 451.9L688.9 451.5ZM691.6 450.9L694.6 450.2L696.6 449.8L699.6 449.6L702.6 449.3L704.6 449.2L736.8 448.8L738.8 448.9L741.8 449.1L744.8 449.3L746.8 449.7L749.8 450.3L746.8 450.9L744.8 451.3L741.8 451.6L738.8 451.8L736.8 452L704.6 452.4L702.6 452.2L699.6 452L696.6 451.8L694.6 451.5ZM741.3 450.4L744.3 449.7L746.3 449.3L749.3 449.1L752.3 448.8L754.3 448.7L762 448.6L764 448.7L767 448.9L770 449.1L772 449.4L775 450L772 450.6L770 451L767 451.3L764 451.5L762 451.7L754.3 451.7L752.3 451.6L749.3 451.4L746.3 451.3L744.3 450.9ZM766.6 450.1L769.6 449.4L771.6 449L774.6 448.8L777.6 448.5L779.6 448.4L952 446.5L952 449.6L779.6 451.5L777.6 451.4L774.6 451.2L771.6 451L769.6 450.7Z"/></defs>
<use href="#b0A" fill="none" stroke="#090909" stroke-width="6.2" stroke-linejoin="round" transform="translate(0,-2.1)"/>
<use href="#b0A" fill="none" stroke="#131313" stroke-width="4.4" stroke-linejoin="round" transform="translate(0,-1.2)"/>
<path d="M253.6 182.3L254.1 181.9L254.8 181.5L255.6 181.2L256.1 181.1L256.5 181.2L257.3 181.5L258 181.9L258.5 182.2L258 182.6L257.3 183L256.5 183.2L256.1 183.4L255.6 183.3L254.8 183L254.1 182.6ZM253.6 218.9L254.1 218.6L254.8 218.2L255.6 217.9L256.1 217.8L256.5 217.9L257.3 218.2L258 218.6L258.5 218.9L258 219.2L257.3 219.6L256.5 219.9L256.1 220L255.6 219.9L254.8 219.7L254.1 219.3ZM492.2 250.1L492.5 249.8L492.9 249.4L493.3 249.1L493.5 249L493.8 249.1L494.2 249.3L494.6 249.7L494.8 250.1L494.6 250.4L494.2 250.8L493.8 251.1L493.5 251.2L493.3 251.1L492.9 250.8L492.5 250.4ZM782.3 246.7L782.7 246.4L783.3 246.1L783.8 245.8L784.2 245.7L784.6 245.8L785.2 246L785.8 246.4L786.2 246.6L785.8 246.9L785.2 247.2L784.6 247.4L784.2 247.5L783.8 247.5L783.3 247.2L782.7 246.9ZM906.1 245.2L906.5 244.9L907 244.6L907.4 244.4L907.8 244.3L908.1 244.4L908.6 244.6L909.1 244.9L909.4 245.2L909.1 245.4L908.6 245.8L908.1 246L907.8 246.1L907.4 246L907 245.8L906.5 245.5ZM492.2 286.8L492.5 286.5L492.9 286.1L493.3 285.8L493.5 285.7L493.8 285.8L494.2 286.1L494.6 286.5L494.8 286.8L494.6 287.2L494.2 287.6L493.8 287.8L493.5 288L493.3 287.8L492.9 287.6L492.5 287.2ZM782.3 283.6L782.7 283.3L783.3 283L783.8 282.8L784.2 282.7L784.6 282.8L785.2 283L785.8 283.3L786.2 283.6L785.8 283.8L785.2 284.2L784.6 284.4L784.2 284.5L783.8 284.4L783.3 284.2L782.7 283.9ZM906.1 282.2L906.5 282L907 281.6L907.4 281.4L907.8 281.3L908.1 281.4L908.6 281.6L909.1 281.9L909.4 282.2L909.1 282.5L908.6 282.8L908.1 283L907.8 283.1L907.4 283L907 282.8L906.5 282.5ZM492.2 416.5L492.7 416.1L493.5 415.7L494.3 415.4L494.8 415.3L495.3 415.4L496.1 415.7L496.9 416.1L497.4 416.4L496.9 416.7L496.1 417.1L495.3 417.4L494.8 417.6L494.3 417.4L493.5 417.2L492.7 416.8ZM492.2 453.1L492.7 452.7L493.5 452.3L494.3 452L494.8 451.9L495.3 452L496.1 452.3L496.9 452.7L497.4 453L496.9 453.3L496.1 453.7L495.3 454L494.8 454.2L494.3 454L493.5 453.8L492.7 453.4Z" fill="#4a4a4a" stroke="#161616" stroke-width="2.4" stroke-linejoin="round" paint-order="stroke"/>
<use href="#b0A" fill="#fff"/></g>
<g filter="url(#blB)"><defs><path id="b0B" d="M107 517.4L131.5 517.1L133.5 517.2L136.5 517.4L139.5 517.5L141.5 517.7L144.5 518.3L141.5 519L139.5 519.3L136.5 519.5L133.5 519.7L131.5 519.8L107 520.1ZM138.8 518.4L141.8 517.7L143.8 517.4L146.8 517.2L149.8 516.9L151.8 516.8L828 509.6L830 509.7L833 509.9L836 510.2L838 510.4L841 511L838 511.7L836 512L833 512.3L830 512.6L828 512.8L151.8 519.7L149.8 519.6L146.8 519.4L143.8 519.3L141.8 519ZM825 511.2L828 510.6L830 510.2L833 509.9L836 509.6L838 509.5L895 508.9L897 509L900 509.2L903 509.5L905 509.7L908 510.3L905 511L903 511.3L900 511.6L897 511.9L895 512.1L838 512.7L836 512.6L833 512.3L830 512.1L828 511.8ZM892 510.5L895 509.9L897 509.5L900 509.2L903 508.9L905 508.8L917 508.6L919 508.7L922 509L925 509.2L927 509.5L930 510.1L927 510.8L925 511.1L922 511.4L919 511.7L917 511.9L905 512L903 511.9L900 511.6L897 511.4L895 511.1ZM914 510.3L917 509.6L919 509.3L922 509L925 508.7L927 508.5L952 508.3L952 511.5L927 511.8L925 511.6L922 511.4L919 511.2L917 510.9ZM107 554.2L131.5 553.9L133.5 554L136.5 554.2L139.5 554.3L141.5 554.6L144.5 555.1L141.5 555.8L139.5 556.1L136.5 556.3L133.5 556.5L131.5 556.6L107 556.9ZM138.8 555.2L141.8 554.5L143.8 554.2L146.8 554L149.8 553.7L151.8 553.6L828 546.6L830 546.7L833 547L836 547.2L838 547.5L841 548.1L838 548.7L836 549L833 549.3L830 549.6L828 549.8L151.8 556.5L149.8 556.4L146.8 556.2L143.8 556.1L141.8 555.8ZM825 548.2L828 547.6L830 547.2L833 547L836 546.6L838 546.5L895 545.9L897 546L900 546.3L903 546.5L905 546.8L908 547.4L905 548L903 548.4L900 548.6L897 549L895 549.1L838 549.7L836 549.6L833 549.3L830 549.1L828 548.8ZM892 547.5L895 546.9L897 546.6L900 546.3L903 546L905 545.8L917 545.7L919 545.8L922 546.1L925 546.3L927 546.6L930 547.2L927 547.8L925 548.1L922 548.4L919 548.7L917 548.9L905 549L903 548.9L900 548.6L897 548.4L895 548.1ZM914 547.3L917 546.7L919 546.3L922 546.1L925 545.7L927 545.6L952 545.3L952 548.6L927 548.8L925 548.7L922 548.4L919 548.2L917 547.9ZM107 629L952 621L952 623.9L107 631.8ZM107 666.3L952 657.8L952 660.7L107 669Z"/></defs>
<use href="#b0B" fill="none" stroke="#0a0a0a" stroke-width="6.6" stroke-linejoin="round" transform="translate(0,-2.2)"/>
<use href="#b0B" fill="none" stroke="#151515" stroke-width="4.4" stroke-linejoin="round" transform="translate(0,-1.2)"/>
<use href="#b0B" fill="#fff"/></g>
<g filter="url(#blC)"><defs><path id="b0C" d="M107 757.9L952 750.1L952 752.5L107 760.1ZM107 794.5L952 787.4L952 789.8L107 796.7Z"/></defs>
<use href="#b0C" fill="none" stroke="#070707" stroke-width="8.4" stroke-linejoin="round" transform="translate(0,-3.2)"/>
<use href="#b0C" fill="none" stroke="#101010" stroke-width="5.4" stroke-linejoin="round" transform="translate(0,-1.9)"/>
<use href="#b0C" fill="none" stroke="#1a1a1a" stroke-width="3.0" stroke-linejoin="round" transform="translate(0,-1.0)"/>
<use href="#b0C" fill="#fff"/></g>
</g></g>
<path d="M119 173.05L940 164.20" stroke="#000" stroke-width="2.5" fill="none"/>
<path d="M119 173.05L940 164.20" stroke="#fff" stroke-width="2.5" stroke-dasharray="10 10" fill="none"/>
<path d="M119 189.10L940 179.80" stroke="#000" stroke-width="2.5" fill="none"/>
<path d="M119 189.10L940 179.80" stroke="#fff" stroke-width="2.5" stroke-dasharray="10 10" fill="none"/>
<path d="M119 210.35L940 201.05" stroke="#000" stroke-width="2.5" fill="none"/>
<path d="M119 210.35L940 201.05" stroke="#fff" stroke-width="2.5" stroke-dasharray="10 10" fill="none"/>
<path d="M119 226.10L940 216.55" stroke="#000" stroke-width="2.5" fill="none"/>
<path d="M119 226.10L940 216.55" stroke="#fff" stroke-width="2.5" stroke-dasharray="10 10" fill="none"/>
<path d="M119 245.40L940 236.00" stroke="#000" stroke-width="2.5" fill="none"/>
<path d="M119 245.40L940 236.00" stroke="#fff" stroke-width="2.5" stroke-dasharray="10 10" fill="none"/>
<path d="M119 261.10L940 251.50" stroke="#000" stroke-width="2.5" fill="none"/>
<path d="M119 261.10L940 251.50" stroke="#fff" stroke-width="2.5" stroke-dasharray="10 10" fill="none"/>
<path d="M119 281.65L940 272.07" stroke="#000" stroke-width="2.5" fill="none"/>
<path d="M119 281.65L940 272.07" stroke="#fff" stroke-width="2.5" stroke-dasharray="10 10" fill="none"/>
<path d="M119 297.40L940 287.70" stroke="#000" stroke-width="2.5" fill="none"/>
<path d="M119 297.40L940 287.70" stroke="#fff" stroke-width="2.5" stroke-dasharray="10 10" fill="none"/>
<path d="M119 323.80L940 314.50" stroke="#000" stroke-width="2.5" fill="none"/>
<path d="M119 323.80L940 314.50" stroke="#fff" stroke-width="2.5" stroke-dasharray="10 10" fill="none"/>
<path d="M119 339.60L940 330.05" stroke="#000" stroke-width="2.5" fill="none"/>
<path d="M119 339.60L940 330.05" stroke="#fff" stroke-width="2.5" stroke-dasharray="10 10" fill="none"/>
<path d="M119 360.20L940 350.60" stroke="#000" stroke-width="2.5" fill="none"/>
<path d="M119 360.20L940 350.60" stroke="#fff" stroke-width="2.5" stroke-dasharray="10 10" fill="none"/>
<path d="M119 376.00L940 366.20" stroke="#000" stroke-width="2.5" fill="none"/>
<path d="M119 376.00L940 366.20" stroke="#fff" stroke-width="2.5" stroke-dasharray="10 10" fill="none"/>
<path d="M119 411.00L940 402.40" stroke="#000" stroke-width="2.5" fill="none"/>
<path d="M119 411.00L940 402.40" stroke="#fff" stroke-width="2.5" stroke-dasharray="10 10" fill="none"/>
<path d="M119 426.80L940 417.90" stroke="#000" stroke-width="2.5" fill="none"/>
<path d="M119 426.80L940 417.90" stroke="#fff" stroke-width="2.5" stroke-dasharray="10 10" fill="none"/>
<path d="M119 447.60L940 438.90" stroke="#000" stroke-width="2.5" fill="none"/>
<path d="M119 447.60L940 438.90" stroke="#fff" stroke-width="2.5" stroke-dasharray="10 10" fill="none"/>
<path d="M119 463.50L940 454.50" stroke="#000" stroke-width="2.5" fill="none"/>
<path d="M119 463.50L940 454.50" stroke="#fff" stroke-width="2.5" stroke-dasharray="10 10" fill="none"/>
<path d="M119 509.30L940 501.20" stroke="#000" stroke-width="2.5" fill="none"/>
<path d="M119 509.30L940 501.20" stroke="#fff" stroke-width="2.5" stroke-dasharray="10 10" fill="none"/>
<path d="M119 524.90L940 516.70" stroke="#000" stroke-width="2.5" fill="none"/>
<path d="M119 524.90L940 516.70" stroke="#fff" stroke-width="2.5" stroke-dasharray="10 10" fill="none"/>
<path d="M119 546.30L940 537.70" stroke="#000" stroke-width="2.5" fill="none"/>
<path d="M119 546.30L940 537.70" stroke="#fff" stroke-width="2.5" stroke-dasharray="10 10" fill="none"/>
<path d="M119 561.90L940 553.30" stroke="#000" stroke-width="2.5" fill="none"/>
<path d="M119 561.90L940 553.30" stroke="#fff" stroke-width="2.5" stroke-dasharray="10 10" fill="none"/>
<path d="M119 620.95L940 613.05" stroke="#000" stroke-width="2.5" fill="none"/>
<path d="M119 620.95L940 613.05" stroke="#fff" stroke-width="2.5" stroke-dasharray="10 10" fill="none"/>
<path d="M119 636.70L940 628.70" stroke="#000" stroke-width="2.5" fill="none"/>
<path d="M119 636.70L940 628.70" stroke="#fff" stroke-width="2.5" stroke-dasharray="10 10" fill="none"/>
<path d="M119 658.30L940 650.35" stroke="#000" stroke-width="2.5" fill="none"/>
<path d="M119 658.30L940 650.35" stroke="#fff" stroke-width="2.5" stroke-dasharray="10 10" fill="none"/>
<path d="M119 673.80L940 665.85" stroke="#000" stroke-width="2.5" fill="none"/>
<path d="M119 673.80L940 665.85" stroke="#fff" stroke-width="2.5" stroke-dasharray="10 10" fill="none"/>
<path d="M119 748.10L940 740.90" stroke="#000" stroke-width="2.5" fill="none"/>
<path d="M119 748.10L940 740.90" stroke="#fff" stroke-width="2.5" stroke-dasharray="10 10" fill="none"/>
<path d="M119 763.80L940 756.60" stroke="#000" stroke-width="2.5" fill="none"/>
<path d="M119 763.80L940 756.60" stroke="#fff" stroke-width="2.5" stroke-dasharray="10 10" fill="none"/>
<path d="M119 784.50L940 777.50" stroke="#000" stroke-width="2.5" fill="none"/>
<path d="M119 784.50L940 777.50" stroke="#fff" stroke-width="2.5" stroke-dasharray="10 10" fill="none"/>
<path d="M119 800.25L940 793.20" stroke="#000" stroke-width="2.5" fill="none"/>
<path d="M119 800.25L940 793.20" stroke="#fff" stroke-width="2.5" stroke-dasharray="10 10" fill="none"/>
<rect x="118.8" y="100.0" width="821.2" height="713.0" fill="none" stroke="#000" stroke-width="1.6"/>
<path d="M119.2 813.0v7" stroke="#000" stroke-width="1.7"/>
<text x="119.2" y="843" font-size="20.83" text-anchor="middle">0</text>
<path d="M219.4 813.0v7" stroke="#000" stroke-width="1.7"/>
<text x="219.4" y="843" font-size="20.83" text-anchor="middle">250</text>
<path d="M319.6 813.0v7" stroke="#000" stroke-width="1.7"/>
<text x="319.6" y="843" font-size="20.83" text-anchor="middle">500</text>
<path d="M419.9 813.0v7" stroke="#000" stroke-width="1.7"/>
<text x="419.9" y="843" font-size="20.83" text-anchor="middle">750</text>
<path d="M520.1 813.0v7" stroke="#000" stroke-width="1.7"/>
<text x="520.1" y="843" font-size="20.83" text-anchor="middle">1000</text>
<path d="M620.3 813.0v7" stroke="#000" stroke-width="1.7"/>
<text x="620.3" y="843" font-size="20.83" text-anchor="middle">1250</text>
<path d="M720.5 813.0v7" stroke="#000" stroke-width="1.7"/>
<text x="720.5" y="843" font-size="20.83" text-anchor="middle">1500</text>
<path d="M820.7 813.0v7" stroke="#000" stroke-width="1.7"/>
<text x="820.7" y="843" font-size="20.83" text-anchor="middle">1750</text>
<path d="M921.0 813.0v7" stroke="#000" stroke-width="1.7"/>
<text x="921.0" y="843" font-size="20.83" text-anchor="middle">2000</text>
<path d="M118.8 813h-6.8" stroke="#000" stroke-width="1.7"/>
<text x="104.1" y="820.9" font-size="20.83" text-anchor="end">0</text>
<path d="M118.8 726h-6.8" stroke="#000" stroke-width="1.7"/>
<text x="104.1" y="733.9" font-size="20.83" text-anchor="end">250</text>
<path d="M118.8 639h-6.8" stroke="#000" stroke-width="1.7"/>
<text x="104.1" y="646.9" font-size="20.83" text-anchor="end">500</text>
<path d="M118.8 552h-6.8" stroke="#000" stroke-width="1.7"/>
<text x="104.1" y="559.9" font-size="20.83" text-anchor="end">750</text>
<path d="M118.8 464h-6.8" stroke="#000" stroke-width="1.7"/>
<text x="104.1" y="471.9" font-size="20.83" text-anchor="end">1000</text>
<path d="M118.8 377h-6.8" stroke="#000" stroke-width="1.7"/>
<text x="104.1" y="384.9" font-size="20.83" text-anchor="end">1250</text>
<path d="M118.8 290h-6.8" stroke="#000" stroke-width="1.7"/>
<text x="104.1" y="297.9" font-size="20.83" text-anchor="end">1500</text>
<path d="M118.8 203h-6.8" stroke="#000" stroke-width="1.7"/>
<text x="104.1" y="210.9" font-size="20.83" text-anchor="end">1750</text>
<path d="M118.8 116h-6.8" stroke="#000" stroke-width="1.7"/>
<text x="104.1" y="123.9" font-size="20.83" text-anchor="end">2000</text>
<text x="529.5" y="87" font-size="25" text-anchor="middle">CHIP1</text>
<text x="530.6" y="871.8" font-size="20.83" text-anchor="middle">pixel</text>
<g clip-path="url(#c1)"><g filter="url(#pl)">
<rect x="962.0" y="80.0" width="861.0" height="753.0" fill="#010101"/>
<path d="M977.0 497.9L1808.0 489.0L1808.0 546.2L977.0 555.5Z" fill="#030303"/>
<path d="M977.0 610.1L1808.0 601.7L1808.0 659.4L977.0 667.9Z" fill="#030303"/>
<path d="M977.0 741.6L1808.0 734.5L1808.0 788.8L977.0 795.6Z" fill="#030303"/>
<path d="M977.0 795.6L1808.0 788.8L1808.0 802.8L977.0 809.6Z" fill="url(#fd1)"/>
<g filter="url(#blA)"><defs><path id="b1A" d="M970 173L991.6 172.7L993.6 172.7L996.6 172.8L999.6 172.8L1001.6 173.1L1004.6 173.7L1001.6 174.3L999.6 174.7L996.6 174.8L993.6 175L991.6 175L970 175.3ZM1001 173.7L1004 173.1L1005.9 172.9L1008.7 172.7L1011.5 172.6L1013.4 172.6L1015.2 172.6L1018.1 172.6L1020.9 172.7L1022.7 172.8L1025.7 173.4L1022.7 174.1L1020.9 174.2L1018.1 174.4L1015.2 174.5L1013.4 174.5L1011.5 174.6L1008.7 174.6L1005.9 174.4L1004 174.3ZM1048.3 173.1L1051.3 172.4L1053.3 172.1L1056.3 171.9L1059.3 171.8L1061.3 171.7L1105.6 171.1L1107.6 171.1L1110.6 171.2L1113.6 171.2L1115.6 171.5L1118.6 172.1L1115.6 172.8L1113.6 173.1L1110.6 173.3L1107.6 173.4L1105.6 173.5L1061.3 174.1L1059.3 174.1L1056.3 174L1053.3 174L1051.3 173.7ZM1110.2 172.2L1113.2 171.6L1114.3 171.3L1115.8 171.1L1117.4 171.1L1118.5 171L1119.5 171L1121.1 171.1L1122.7 171.2L1123.8 171.4L1126.8 172L1123.8 172.7L1122.7 172.9L1121.1 173.1L1119.5 173.1L1118.5 173.2L1117.4 173.2L1115.8 173.1L1114.3 173L1113.2 172.8ZM1119.5 172.1L1122.5 171.4L1123.6 171.2L1125.3 171L1126.9 170.9L1128 170.9L1129.1 170.9L1130.8 170.9L1132.5 171L1133.6 171.3L1136.6 171.9L1133.6 172.5L1132.5 172.8L1130.8 172.9L1129.1 173L1128 173.1L1126.9 173L1125.3 173L1123.6 172.9L1122.5 172.7ZM1128.9 172L1131.9 171.3L1133.9 171L1136.9 170.8L1139.9 170.7L1141.9 170.6L1190.4 169.9L1192.4 170L1195.4 170L1198.4 170.1L1200.4 170.3L1203.4 170.9L1200.4 171.6L1198.4 171.9L1195.4 172.1L1192.4 172.2L1190.4 172.3L1141.9 172.9L1139.9 172.9L1136.9 172.9L1133.9 172.8L1131.9 172.5ZM1194.9 171L1197.9 170.4L1198.9 170.1L1200.4 170L1201.9 169.9L1202.8 169.8L1203.8 169.9L1205.3 169.9L1206.7 170L1207.7 170.2L1210.7 170.8L1207.7 171.5L1206.7 171.8L1205.3 171.9L1203.8 172L1202.8 172L1201.9 172L1200.4 172L1198.9 171.9L1197.9 171.6ZM1203.6 170.9L1206.6 170.3L1207.7 170L1209.3 169.8L1210.9 169.8L1212 169.7L1213.1 169.7L1214.8 169.8L1216.4 169.9L1217.5 170.1L1220.5 170.7L1217.5 171.4L1216.4 171.6L1214.8 171.8L1213.1 171.9L1212 171.9L1210.9 171.9L1209.3 171.9L1207.7 171.8L1206.6 171.5ZM1215.3 170.8L1218.3 170.1L1220.3 169.7L1223.3 169.6L1226.3 169.5L1228.3 169.4L1285.7 168.6L1287.7 168.6L1290.7 168.7L1293.7 168.7L1295.7 169L1298.7 169.6L1295.7 170.3L1293.7 170.6L1290.7 170.8L1287.7 170.9L1285.7 171L1228.3 171.8L1226.3 171.8L1223.3 171.7L1220.3 171.7L1218.3 171.3ZM1291.1 169.7L1294.1 169L1294.8 168.8L1295.8 168.6L1296.9 168.6L1297.6 168.5L1298.3 168.5L1299.3 168.6L1300.4 168.7L1301.1 168.9L1304.1 169.5L1301.1 170.2L1300.4 170.5L1299.3 170.6L1298.3 170.7L1297.6 170.7L1296.9 170.7L1295.8 170.6L1294.8 170.5L1294.1 170.3ZM1296.8 169.6L1299.8 169L1301.8 168.6L1304.8 168.4L1307.8 168.2L1309.8 168.1L1439.2 166.3L1441.2 166.4L1444.2 166.5L1447.2 166.6L1449.2 166.9L1452.2 167.5L1449.2 168.1L1447.2 168.5L1444.2 168.7L1441.2 168.9L1439.2 169L1309.8 170.7L1307.8 170.7L1304.8 170.6L1301.8 170.5L1299.8 170.2ZM1451.9 167.5L1454.9 166.8L1456.9 166.4L1459.9 166.3L1462.9 166.1L1464.9 166L1514.2 165.3L1516.2 165.4L1519.2 165.5L1522.2 165.5L1524.2 165.9L1527.2 166.4L1524.2 167.1L1522.2 167.5L1519.2 167.6L1516.2 167.8L1514.2 167.9L1464.9 168.6L1462.9 168.5L1459.9 168.4L1456.9 168.4L1454.9 168.1ZM1534.2 166.3L1537.2 165.7L1539.2 165.3L1542.2 165.1L1545.2 165L1547.2 164.9L1656.8 163.3L1658.8 163.4L1661.8 163.5L1664.8 163.5L1666.8 163.9L1669.8 164.4L1666.8 165.1L1664.8 165.5L1661.8 165.7L1658.8 165.8L1656.8 166L1547.2 167.4L1545.2 167.4L1542.2 167.3L1539.2 167.2L1537.2 166.9ZM1672.8 164.4L1675.8 163.7L1677.8 163.4L1680.8 163.2L1683.8 163L1685.8 162.9L1815 161.1L1815 163.8L1685.8 165.6L1683.8 165.5L1680.8 165.4L1677.8 165.3L1675.8 165ZM970 209.6L991.6 209.3L993.6 209.3L996.6 209.4L999.6 209.4L1001.6 209.7L1004.6 210.3L1001.6 211L999.6 211.3L996.6 211.4L993.6 211.6L991.6 211.6L970 211.9ZM1001 210.3L1004 209.7L1005.9 209.5L1008.7 209.3L1011.5 209.2L1013.4 209.2L1015.2 209.2L1018.1 209.2L1020.9 209.3L1022.7 209.4L1025.7 210L1022.7 210.7L1020.9 210.8L1018.1 211L1015.2 211.1L1013.4 211.2L1011.5 211.2L1008.7 211.2L1005.9 211L1004 210.9ZM1048.3 209.7L1051.3 209.1L1053.3 208.7L1056.3 208.6L1059.3 208.4L1061.3 208.4L1105.6 207.8L1107.6 207.8L1110.6 207.8L1113.6 207.9L1115.6 208.2L1118.6 208.8L1115.6 209.4L1113.6 209.8L1110.6 209.9L1107.6 210L1105.6 210.1L1061.3 210.7L1059.3 210.7L1056.3 210.6L1053.3 210.6L1051.3 210.3ZM1110.2 208.9L1113.2 208.2L1114.3 208L1115.8 207.8L1117.4 207.7L1118.5 207.7L1119.5 207.7L1121.1 207.7L1122.7 207.8L1123.8 208.1L1126.8 208.7L1123.8 209.3L1122.7 209.6L1121.1 209.7L1119.5 209.8L1118.5 209.9L1117.4 209.8L1115.8 209.8L1114.3 209.7L1113.2 209.5ZM1119.5 208.8L1122.5 208.1L1123.6 207.8L1125.3 207.7L1126.9 207.6L1128 207.6L1129.1 207.6L1130.8 207.6L1132.5 207.7L1133.6 207.9L1136.6 208.5L1133.6 209.2L1132.5 209.5L1130.8 209.6L1129.1 209.7L1128 209.7L1126.9 209.7L1125.3 209.7L1123.6 209.6L1122.5 209.3ZM1128.9 208.6L1131.9 208L1133.9 207.6L1136.9 207.5L1139.9 207.4L1141.9 207.3L1190.4 206.6L1192.4 206.7L1195.4 206.7L1198.4 206.8L1200.4 207.1L1203.4 207.6L1200.4 208.3L1198.4 208.6L1195.4 208.8L1192.4 208.9L1190.4 209L1141.9 209.6L1139.9 209.6L1136.9 209.6L1133.9 209.5L1131.9 209.2ZM1194.9 207.7L1197.9 207.1L1198.9 206.8L1200.4 206.7L1201.9 206.6L1202.8 206.5L1203.8 206.6L1205.3 206.6L1206.7 206.7L1207.7 207L1210.7 207.5L1207.7 208.2L1206.7 208.5L1205.3 208.6L1203.8 208.7L1202.8 208.7L1201.9 208.7L1200.4 208.7L1198.9 208.6L1197.9 208.3ZM1203.6 207.6L1206.6 207L1207.7 206.7L1209.3 206.5L1210.9 206.5L1212 206.4L1213.1 206.4L1214.8 206.5L1216.4 206.6L1217.5 206.8L1220.5 207.4L1217.5 208.1L1216.4 208.3L1214.8 208.5L1213.1 208.6L1212 208.6L1210.9 208.6L1209.3 208.6L1207.7 208.5L1206.6 208.2ZM1215.3 207.5L1218.3 206.8L1220.3 206.4L1223.3 206.3L1226.3 206.2L1228.3 206.1L1285.7 205.3L1287.7 205.3L1290.7 205.4L1293.7 205.5L1295.7 205.8L1298.7 206.4L1295.7 207L1293.7 207.4L1290.7 207.5L1287.7 207.7L1285.7 207.8L1228.3 208.5L1226.3 208.5L1223.3 208.4L1220.3 208.4L1218.3 208.1ZM1291.1 206.5L1294.1 205.8L1294.8 205.5L1295.8 205.4L1296.9 205.3L1297.6 205.3L1298.3 205.3L1299.3 205.3L1300.4 205.5L1301.1 205.7L1304.1 206.3L1301.1 206.9L1300.4 207.2L1299.3 207.4L1298.3 207.4L1297.6 207.5L1296.9 207.4L1295.8 207.4L1294.8 207.3L1294.1 207ZM1296.8 206.4L1299.8 205.7L1301.8 205.3L1304.8 205.2L1307.8 205L1309.8 204.9L1439.2 203.1L1441.2 203.2L1444.2 203.3L1447.2 203.4L1449.2 203.7L1452.2 204.3L1449.2 205L1447.2 205.3L1444.2 205.5L1441.2 205.7L1439.2 205.8L1309.8 207.5L1307.8 207.5L1304.8 207.4L1301.8 207.3L1299.8 207ZM1451.9 204.3L1454.9 203.6L1456.9 203.3L1459.9 203.1L1462.9 203L1464.9 202.9L1514.2 202.2L1516.2 202.2L1519.2 202.3L1522.2 202.4L1524.2 202.7L1527.2 203.3L1524.2 204L1522.2 204.3L1519.2 204.5L1516.2 204.7L1514.2 204.8L1464.9 205.4L1462.9 205.4L1459.9 205.3L1456.9 205.2L1454.9 204.9ZM1534.2 203.2L1537.2 202.5L1539.2 202.2L1542.2 202L1545.2 201.8L1547.2 201.7L1656.8 200.2L1658.8 200.3L1661.8 200.4L1664.8 200.5L1666.8 200.8L1669.8 201.4L1666.8 202L1664.8 202.4L1661.8 202.6L1658.8 202.8L1656.8 202.9L1547.2 204.3L1545.2 204.3L1542.2 204.2L1539.2 204.1L1537.2 203.8ZM1672.8 201.3L1675.8 200.7L1677.8 200.3L1680.8 200.1L1683.8 199.9L1685.8 199.8L1815 198.1L1815 200.8L1685.8 202.5L1683.8 202.5L1680.8 202.3L1677.8 202.3L1675.8 201.9ZM970 243.2L992.4 242.9L994.4 243L997.4 243.2L1000.4 243.4L1002.4 243.7L1005.4 244.3L1002.4 245L1000.4 245.4L997.4 245.6L994.4 245.9L992.4 246L970 246.3ZM1000.2 244.4L1003.2 243.7L1005.2 243.3L1008.2 243.1L1011.2 242.8L1013.2 242.7L1018.4 242.6L1020.4 242.7L1023.4 242.9L1026.4 243.1L1028.4 243.4L1031.4 244L1028.4 244.7L1026.4 245.1L1023.4 245.3L1020.4 245.6L1018.4 245.7L1013.2 245.8L1011.2 245.7L1008.2 245.5L1005.2 245.3L1003.2 245ZM1026.3 244.1L1029.3 243.4L1031.3 243L1034.3 242.7L1037.3 242.4L1039.3 242.2L1204.2 240.2L1206.2 240.4L1209.2 240.6L1212.2 240.8L1214.2 241.2L1217.2 241.8L1214.2 242.4L1212.2 242.8L1209.2 243.1L1206.2 243.4L1204.2 243.6L1039.3 245.6L1037.3 245.5L1034.3 245.2L1031.3 245L1029.3 244.7ZM1208 241.9L1211 241.2L1213 240.8L1216 240.6L1219 240.3L1221 240.2L1258 239.7L1260 239.8L1263 240L1266 240.2L1268 240.5L1271 241.1L1268 241.8L1266 242.2L1263 242.4L1260 242.7L1258 242.8L1221 243.3L1219 243.2L1216 243L1213 242.8L1211 242.5ZM1270.7 241.1L1273.7 240.5L1275.7 240.1L1278.7 239.8L1281.7 239.5L1283.7 239.4L1345.2 238.6L1347.2 238.7L1350.2 238.9L1353.2 239.1L1355.2 239.5L1358.2 240.1L1355.2 240.7L1353.2 241.1L1350.2 241.4L1347.2 241.7L1345.2 241.8L1283.7 242.6L1281.7 242.5L1278.7 242.2L1275.7 242.1L1273.7 241.7ZM1351.4 240.1L1354.4 239.5L1356.4 239.1L1359.4 238.8L1362.4 238.5L1364.4 238.4L1471.8 237.1L1473.8 237.2L1476.8 237.4L1479.8 237.6L1481.8 238L1484.8 238.5L1481.8 239.2L1479.8 239.6L1476.8 239.8L1473.8 240.1L1471.8 240.3L1364.4 241.6L1362.4 241.5L1359.4 241.3L1356.4 241.1L1354.4 240.7ZM1487.8 238.5L1490.8 237.8L1492.8 237.4L1495.8 237.2L1498.8 236.9L1500.8 236.7L1589.2 235.7L1591.2 235.8L1594.2 236L1597.2 236.2L1599.2 236.5L1602.2 237.1L1599.2 237.8L1597.2 238.2L1594.2 238.4L1591.2 238.7L1589.2 238.9L1500.8 240L1498.8 239.8L1495.8 239.6L1492.8 239.4L1490.8 239.1ZM1592.1 237.2L1595.1 236.6L1597.1 236.2L1600.1 236L1603.1 235.7L1605.1 235.6L1621.8 235.4L1623.8 235.5L1626.8 235.7L1629.8 235.8L1631.8 236.1L1634.8 236.7L1631.8 237.4L1629.8 237.8L1626.8 238L1623.8 238.2L1621.8 238.4L1605.1 238.6L1603.1 238.5L1600.1 238.3L1597.1 238.2L1595.1 237.8ZM1638.5 236.7L1641.5 236L1643.5 235.6L1646.5 235.4L1649.5 235.2L1651.5 235.1L1681.2 234.7L1683.2 234.8L1686.2 235L1689.2 235.1L1691.2 235.4L1694.2 236L1691.2 236.7L1689.2 237.1L1686.2 237.3L1683.2 237.5L1681.2 237.6L1651.5 238L1649.5 237.9L1646.5 237.7L1643.5 237.6L1641.5 237.3ZM1687.9 236.1L1690.9 235.4L1692.9 235L1695.9 234.8L1698.9 234.6L1700.9 234.5L1765.2 233.7L1767.2 233.8L1770.2 233.9L1773.2 234.1L1775.2 234.4L1778.2 235L1775.2 235.7L1773.2 236L1770.2 236.3L1767.2 236.5L1765.2 236.6L1700.9 237.4L1698.9 237.3L1695.9 237.1L1692.9 237L1690.9 236.7ZM1787.7 234.9L1790.7 234.2L1792.7 233.9L1795.7 233.7L1798.7 233.6L1800.7 233.5L1815 233.4L1815 235.8L1800.7 235.9L1798.7 235.9L1795.7 235.8L1792.7 235.8L1790.7 235.5ZM970 279.8L992.4 279.5L994.4 279.6L997.4 279.8L1000.4 280L1002.4 280.3L1005.4 280.9L1002.4 281.6L1000.4 282L997.4 282.2L994.4 282.5L992.4 282.6L970 282.9ZM1000.2 281L1003.2 280.3L1005.2 279.9L1008.2 279.7L1011.2 279.4L1013.2 279.3L1018.4 279.2L1020.4 279.3L1023.4 279.5L1026.4 279.7L1028.4 280L1031.4 280.6L1028.4 281.3L1026.4 281.7L1023.4 281.9L1020.4 282.2L1018.4 282.3L1013.2 282.4L1011.2 282.3L1008.2 282.1L1005.2 281.9L1003.2 281.6ZM1026.3 280.7L1029.3 280L1031.3 279.6L1034.3 279.3L1037.3 279L1039.3 278.8L1204.2 276.9L1206.2 277L1209.2 277.2L1212.2 277.4L1214.2 277.8L1217.2 278.4L1214.2 279L1212.2 279.4L1209.2 279.7L1206.2 280L1204.2 280.2L1039.3 282.2L1037.3 282.1L1034.3 281.8L1031.3 281.6L1029.3 281.3ZM1208 278.5L1211 277.8L1213 277.4L1216 277.2L1219 276.9L1221 276.8L1258 276.3L1260 276.4L1263 276.6L1266 276.8L1268 277.1L1271 277.7L1268 278.4L1266 278.8L1263 279L1260 279.3L1258 279.4L1221 279.9L1219 279.8L1216 279.6L1213 279.4L1211 279.1ZM1270.7 277.7L1273.7 277.1L1275.7 276.7L1278.7 276.4L1281.7 276.1L1283.7 276L1345.2 275.2L1347.2 275.3L1350.2 275.6L1353.2 275.7L1355.2 276.1L1358.2 276.7L1355.2 277.3L1353.2 277.7L1350.2 278L1347.2 278.3L1345.2 278.5L1283.7 279.2L1281.7 279.1L1278.7 278.9L1275.7 278.7L1273.7 278.3ZM1351.4 276.8L1354.4 276.1L1356.4 275.7L1359.4 275.5L1362.4 275.2L1364.4 275L1471.8 273.7L1473.8 273.8L1476.8 274L1479.8 274.2L1481.8 274.6L1484.8 275.2L1481.8 275.8L1479.8 276.2L1476.8 276.5L1473.8 276.8L1471.8 276.9L1364.4 278.2L1362.4 278.1L1359.4 277.9L1356.4 277.7L1354.4 277.4ZM1487.8 275.1L1490.8 274.5L1492.8 274.1L1495.8 273.8L1498.8 273.5L1500.8 273.4L1589.2 272.3L1591.2 272.4L1594.2 272.6L1597.2 272.8L1599.2 273.2L1602.2 273.8L1599.2 274.4L1597.2 274.8L1594.2 275.1L1591.2 275.4L1589.2 275.5L1500.8 276.6L1498.8 276.5L1495.8 276.2L1492.8 276.1L1490.8 275.7ZM1592.1 273.9L1595.1 273.2L1597.1 272.8L1600.1 272.6L1603.1 272.4L1605.1 272.3L1621.8 272.1L1623.8 272.1L1626.8 272.3L1629.8 272.4L1631.8 272.8L1634.8 273.4L1631.8 274L1629.8 274.4L1626.8 274.6L1623.8 274.9L1621.8 275L1605.1 275.2L1603.1 275.1L1600.1 274.9L1597.1 274.8L1595.1 274.5ZM1638.5 273.3L1641.5 272.7L1643.5 272.3L1646.5 272.1L1649.5 271.8L1651.5 271.7L1681.2 271.3L1683.2 271.4L1686.2 271.6L1689.2 271.7L1691.2 272.1L1694.2 272.7L1691.2 273.3L1689.2 273.7L1686.2 273.9L1683.2 274.2L1681.2 274.3L1651.5 274.6L1649.5 274.6L1646.5 274.4L1643.5 274.3L1641.5 273.9ZM1687.9 272.7L1690.9 272.1L1692.9 271.7L1695.9 271.5L1698.9 271.2L1700.9 271.1L1765.2 270.3L1767.2 270.4L1770.2 270.6L1773.2 270.7L1775.2 271.1L1778.2 271.6L1775.2 272.3L1773.2 272.7L1770.2 272.9L1767.2 273.1L1765.2 273.3L1700.9 274L1698.9 274L1695.9 273.8L1692.9 273.7L1690.9 273.3ZM1787.7 271.5L1790.7 270.9L1792.7 270.5L1795.7 270.4L1798.7 270.3L1800.7 270.2L1815 270L1815 272.4L1800.7 272.6L1798.7 272.5L1795.7 272.5L1792.7 272.4L1790.7 272.1ZM970 322L1083.6 320.6L1085.6 320.7L1088.6 320.9L1091.6 321.1L1093.6 321.4L1096.6 322L1093.6 322.7L1091.6 323.1L1088.6 323.3L1085.6 323.6L1083.6 323.7L970 325.1ZM1091.5 322.1L1094.5 321.4L1096.5 321L1099.5 320.9L1102.5 320.7L1104.5 320.6L1122.7 320.4L1124.7 320.4L1127.7 320.5L1130.7 320.6L1132.7 321L1135.7 321.5L1132.7 322.2L1130.7 322.6L1127.7 322.7L1124.7 322.9L1122.7 323L1104.5 323.2L1102.5 323.2L1099.5 323.1L1096.5 323L1094.5 322.7ZM1146 321.4L1149 320.8L1150.5 320.6L1152.7 320.4L1154.9 320.3L1156.4 320.3L1157.8 320.3L1160 320.3L1162.2 320.5L1163.7 320.6L1166.7 321.2L1163.7 321.8L1162.2 322L1160 322.2L1157.8 322.3L1156.4 322.3L1154.9 322.3L1152.7 322.3L1150.5 322.1L1149 322ZM1185.2 321L1188.2 320.3L1190.2 320L1193.2 319.8L1196.2 319.7L1198.2 319.6L1200.2 319.7L1203.2 319.7L1206.2 319.8L1208.2 320.1L1211.2 320.6L1208.2 321.3L1206.2 321.6L1203.2 321.8L1200.2 321.9L1198.2 321.9L1196.2 321.9L1193.2 321.9L1190.2 321.8L1188.2 321.5ZM1205.2 320.7L1208.2 320.1L1210.2 319.7L1213.2 319.5L1216.2 319.3L1218.2 319.2L1237.6 319L1239.6 319L1242.6 319.2L1245.6 319.2L1247.6 319.6L1250.6 320.2L1247.6 320.8L1245.6 321.2L1242.6 321.4L1239.6 321.5L1237.6 321.6L1218.2 321.9L1216.2 321.8L1213.2 321.7L1210.2 321.6L1208.2 321.3ZM1247.9 320.2L1250.9 319.5L1252.9 319.1L1255.9 318.9L1258.9 318.6L1260.9 318.5L1433.5 316.4L1435.5 316.5L1438.5 316.7L1441.5 316.9L1443.5 317.2L1446.5 317.8L1443.5 318.5L1441.5 318.9L1438.5 319.1L1435.5 319.4L1433.5 319.5L1260.9 321.6L1258.9 321.5L1255.9 321.3L1252.9 321.1L1250.9 320.8ZM1437.3 317.9L1440.3 317.3L1442.3 316.9L1445.3 316.6L1448.3 316.3L1450.3 316.2L1557.1 314.9L1559.1 315L1562.1 315.2L1565.1 315.4L1567.1 315.7L1570.1 316.3L1567.1 317L1565.1 317.4L1562.1 317.6L1559.1 317.9L1557.1 318L1450.3 319.3L1448.3 319.2L1445.3 319L1442.3 318.8L1440.3 318.5ZM1565.4 316.4L1568.4 315.7L1570.4 315.3L1573.4 315.2L1576.4 315L1578.4 314.9L1605.5 314.6L1607.5 314.6L1610.5 314.7L1613.5 314.8L1615.5 315.1L1618.5 315.7L1615.5 316.4L1613.5 316.8L1610.5 316.9L1607.5 317.1L1605.5 317.2L1578.4 317.5L1576.4 317.5L1573.4 317.4L1570.4 317.3L1568.4 316.9ZM1638.5 315.5L1641.5 314.8L1643.5 314.4L1646.5 314.3L1649.5 314.1L1651.5 313.9L1783.1 312.4L1785.1 312.4L1788.1 312.6L1791.1 312.7L1793.1 313L1796.1 313.6L1793.1 314.2L1791.1 314.6L1788.1 314.8L1785.1 315L1783.1 315.1L1651.5 316.7L1649.5 316.6L1646.5 316.5L1643.5 316.4L1641.5 316.1ZM970 359L1083.6 357.6L1085.6 357.7L1088.6 357.9L1091.6 358L1093.6 358.4L1096.6 359L1093.6 359.6L1091.6 360L1088.6 360.3L1085.6 360.5L1083.6 360.7L970 362.1ZM1091.5 359L1094.5 358.4L1096.5 358L1099.5 357.8L1102.5 357.7L1104.5 357.6L1122.7 357.3L1124.7 357.4L1127.7 357.5L1130.7 357.6L1132.7 357.9L1135.7 358.5L1132.7 359.1L1130.7 359.5L1127.7 359.7L1124.7 359.9L1122.7 360L1104.5 360.2L1102.5 360.2L1099.5 360L1096.5 360L1094.5 359.6ZM1146 358.4L1149 357.7L1150.5 357.5L1152.7 357.3L1154.9 357.3L1156.4 357.2L1157.8 357.2L1160 357.2L1162.2 357.4L1163.7 357.5L1166.7 358.1L1163.7 358.8L1162.2 358.9L1160 359.1L1157.8 359.2L1156.4 359.2L1154.9 359.2L1152.7 359.2L1150.5 359.1L1149 358.9ZM1185.2 357.9L1188.2 357.2L1190.2 356.9L1193.2 356.7L1196.2 356.6L1198.2 356.6L1200.2 356.6L1203.2 356.6L1206.2 356.7L1208.2 357L1211.2 357.6L1208.2 358.2L1206.2 358.5L1203.2 358.7L1200.2 358.8L1198.2 358.9L1196.2 358.9L1193.2 358.8L1190.2 358.7L1188.2 358.5ZM1205.2 357.6L1208.2 357L1210.2 356.6L1213.2 356.4L1216.2 356.2L1218.2 356.1L1237.6 355.9L1239.6 355.9L1242.6 356.1L1245.6 356.1L1247.6 356.5L1250.6 357.1L1247.6 357.7L1245.6 358.1L1242.6 358.3L1239.6 358.4L1237.6 358.5L1218.2 358.8L1216.2 358.7L1213.2 358.6L1210.2 358.5L1208.2 358.2ZM1247.9 357.1L1250.9 356.4L1252.9 356L1255.9 355.8L1258.9 355.5L1260.9 355.4L1433.5 353.2L1435.5 353.3L1438.5 353.5L1441.5 353.7L1443.5 354L1446.5 354.6L1443.5 355.3L1441.5 355.7L1438.5 355.9L1435.5 356.2L1433.5 356.3L1260.9 358.5L1258.9 358.4L1255.9 358.2L1252.9 358L1250.9 357.7ZM1437.3 354.7L1440.3 354.1L1442.3 353.7L1445.3 353.5L1448.3 353.2L1450.3 353L1557.1 351.7L1559.1 351.8L1562.1 352L1565.1 352.2L1567.1 352.5L1570.1 353.1L1567.1 353.8L1565.1 354.2L1562.1 354.4L1559.1 354.7L1557.1 354.8L1450.3 356.1L1448.3 356L1445.3 355.8L1442.3 355.7L1440.3 355.3ZM1565.4 353.2L1568.4 352.5L1570.4 352.1L1573.4 352L1576.4 351.8L1578.4 351.7L1605.5 351.3L1607.5 351.4L1610.5 351.5L1613.5 351.6L1615.5 351.9L1618.5 352.5L1615.5 353.2L1613.5 353.5L1610.5 353.7L1607.5 353.9L1605.5 354L1578.4 354.3L1576.4 354.3L1573.4 354.2L1570.4 354.1L1568.4 353.7ZM1638.5 352.2L1641.5 351.6L1643.5 351.2L1646.5 351L1649.5 350.8L1651.5 350.7L1783.1 349.1L1785.1 349.1L1788.1 349.3L1791.1 349.4L1793.1 349.7L1796.1 350.3L1793.1 350.9L1791.1 351.3L1788.1 351.5L1785.1 351.7L1783.1 351.8L1651.5 353.5L1649.5 353.4L1646.5 353.3L1643.5 353.2L1641.5 352.8ZM983.1 411.5L986.1 410.8L986.7 410.7L987.6 410.5L988.5 410.4L989.1 410.4L989.7 410.4L990.6 410.4L991.5 410.6L992.1 410.8L995.1 411.3L992.1 412L991.5 412.2L990.6 412.4L989.7 412.4L989.1 412.4L988.5 412.4L987.6 412.4L986.7 412.2L986.1 412.1ZM1001.8 411.3L1004.8 410.6L1006.8 410.2L1009.8 410L1012.8 409.7L1014.8 409.6L1378.9 405.2L1380.9 405.3L1383.9 405.5L1386.9 405.7L1388.9 406L1391.9 406.6L1388.9 407.3L1386.9 407.7L1383.9 407.9L1380.9 408.2L1378.9 408.4L1014.8 412.7L1012.8 412.6L1009.8 412.4L1006.8 412.2L1004.8 411.8ZM1386.3 406.7L1389.3 406L1391.3 405.7L1394.3 405.5L1397.3 405.2L1399.3 405.1L1401.3 405.2L1404.3 405.3L1407.3 405.5L1409.3 405.8L1412.3 406.4L1409.3 407L1407.3 407.4L1404.3 407.6L1401.3 407.9L1399.3 408L1397.3 407.9L1394.3 407.8L1391.3 407.6L1389.3 407.3ZM1405 406.5L1408 405.8L1409.6 405.4L1411.9 405.3L1414.3 405.1L1415.8 405L1417.4 405L1419.7 405.2L1422.1 405.3L1423.6 405.6L1426.6 406.2L1423.6 406.9L1422.1 407.3L1419.7 407.4L1417.4 407.6L1415.8 407.7L1414.3 407.7L1411.9 407.5L1409.6 407.4L1408 407.1ZM1419 406.3L1422 405.7L1424 405.3L1427 405.1L1430 404.8L1432 404.7L1453.1 404.5L1455.1 404.5L1458.1 404.7L1461.1 404.8L1463.1 405.2L1466.1 405.8L1463.1 406.4L1461.1 406.8L1458.1 407L1455.1 407.2L1453.1 407.4L1432 407.6L1430 407.5L1427 407.4L1424 407.2L1422 406.9ZM1465.8 405.8L1468.8 405.1L1470.8 404.7L1473.8 404.6L1476.8 404.4L1478.8 404.3L1484.9 404.2L1486.9 404.2L1489.9 404.4L1492.9 404.5L1494.9 404.8L1497.9 405.4L1494.9 406L1492.9 406.4L1489.9 406.6L1486.9 406.8L1484.9 406.9L1478.8 406.9L1476.8 406.9L1473.8 406.8L1470.8 406.7L1468.8 406.3ZM1499.2 405.4L1502.2 404.7L1503 404.4L1504.3 404.3L1505.6 404.2L1506.4 404.2L1507.3 404.2L1508.5 404.2L1509.8 404.3L1510.7 404.6L1513.7 405.2L1510.7 405.8L1509.8 406.1L1508.5 406.3L1507.3 406.3L1506.4 406.4L1505.6 406.3L1504.3 406.3L1503 406.2L1502.2 405.9ZM1510.6 405.2L1513.6 404.6L1515.3 404.2L1517.8 404.1L1520.2 404L1521.9 403.9L1523.6 403.9L1526.1 404L1528.6 404.1L1530.2 404.4L1533.2 405L1530.2 405.6L1528.6 405.9L1526.1 406.1L1523.6 406.2L1521.9 406.2L1520.2 406.2L1517.8 406.2L1515.3 406.1L1513.6 405.8ZM1539.1 404.9L1542.1 404.2L1543.3 403.9L1545.2 403.7L1547 403.6L1548.2 403.5L1549.5 403.6L1551.3 403.7L1553.1 403.7L1554.3 404.1L1557.3 404.7L1554.3 405.3L1553.1 405.7L1551.3 405.8L1549.5 405.9L1548.2 406L1547 406L1545.2 405.9L1543.3 405.8L1542.1 405.5ZM1548.1 404.8L1551.1 404.1L1553.1 403.7L1556.1 403.5L1559.1 403.3L1561.1 403.2L1611.2 402.6L1613.2 402.6L1616.2 402.8L1619.2 402.9L1621.2 403.3L1624.2 403.9L1621.2 404.5L1619.2 404.9L1616.2 405.1L1613.2 405.4L1611.2 405.5L1561.1 406.1L1559.1 406L1556.1 405.8L1553.1 405.7L1551.1 405.4ZM1610 404L1613 403.4L1615 403L1618 402.7L1621 402.5L1623 402.3L1815 400L1815 403.2L1623 405.5L1621 405.4L1618 405.2L1615 405L1613 404.6ZM983.1 448.2L986.1 447.5L986.7 447.4L987.6 447.2L988.5 447.1L989.1 447.1L989.7 447.1L990.6 447.1L991.5 447.3L992.1 447.5L995.1 448L992.1 448.7L991.5 448.9L990.6 449.1L989.7 449.1L989.1 449.1L988.5 449.1L987.6 449.1L986.7 448.9L986.1 448.8ZM1001.8 448L1004.8 447.3L1006.8 446.9L1009.8 446.7L1012.8 446.4L1014.8 446.3L1378.9 441.9L1380.9 442L1383.9 442.3L1386.9 442.4L1388.9 442.8L1391.9 443.4L1388.9 444L1386.9 444.4L1383.9 444.6L1380.9 444.9L1378.9 445.1L1014.8 449.4L1012.8 449.3L1009.8 449.1L1006.8 448.9L1004.8 448.6ZM1386.3 443.4L1389.3 442.8L1391.3 442.4L1394.3 442.2L1397.3 441.9L1399.3 441.8L1401.3 441.9L1404.3 442.1L1407.3 442.2L1409.3 442.5L1412.3 443.1L1409.3 443.8L1407.3 444.2L1404.3 444.4L1401.3 444.6L1399.3 444.7L1397.3 444.6L1394.3 444.5L1391.3 444.4L1389.3 444ZM1405 443.2L1408 442.5L1409.6 442.2L1411.9 442L1414.3 441.8L1415.8 441.7L1417.4 441.8L1419.7 441.9L1422.1 442L1423.6 442.4L1426.6 442.9L1423.6 443.6L1422.1 444L1419.7 444.2L1417.4 444.4L1415.8 444.5L1414.3 444.4L1411.9 444.2L1409.6 444.1L1408 443.8ZM1419 443L1422 442.4L1424 442L1427 441.8L1430 441.6L1432 441.4L1453.1 441.2L1455.1 441.3L1458.1 441.4L1461.1 441.6L1463.1 441.9L1466.1 442.5L1463.1 443.1L1461.1 443.5L1458.1 443.7L1455.1 444L1453.1 444.1L1432 444.3L1430 444.3L1427 444.1L1424 444L1422 443.6ZM1465.8 442.5L1468.8 441.8L1470.8 441.4L1473.8 441.3L1476.8 441.1L1478.8 441L1484.9 440.9L1486.9 441L1489.9 441.1L1492.9 441.2L1494.9 441.5L1497.9 442.1L1494.9 442.8L1492.9 443.1L1489.9 443.3L1486.9 443.5L1484.9 443.6L1478.8 443.7L1476.8 443.6L1473.8 443.5L1470.8 443.4L1468.8 443.1ZM1499.2 442.1L1502.2 441.4L1503 441.2L1504.3 441L1505.6 441L1506.4 440.9L1507.3 440.9L1508.5 441L1509.8 441.1L1510.7 441.3L1513.7 441.9L1510.7 442.6L1509.8 442.8L1508.5 443L1507.3 443.1L1506.4 443.1L1505.6 443.1L1504.3 443L1503 442.9L1502.2 442.7ZM1510.6 442L1513.6 441.3L1515.3 441L1517.8 440.8L1520.2 440.7L1521.9 440.7L1523.6 440.7L1526.1 440.7L1528.6 440.8L1530.2 441.1L1533.2 441.7L1530.2 442.3L1528.6 442.7L1526.1 442.8L1523.6 442.9L1521.9 443L1520.2 443L1517.8 442.9L1515.3 442.8L1513.6 442.5ZM1539.1 441.6L1542.1 441L1543.3 440.6L1545.2 440.5L1547 440.3L1548.2 440.3L1549.5 440.3L1551.3 440.4L1553.1 440.5L1554.3 440.8L1557.3 441.4L1554.3 442.1L1553.1 442.4L1551.3 442.5L1549.5 442.7L1548.2 442.8L1547 442.7L1545.2 442.6L1543.3 442.5L1542.1 442.2ZM1548.1 441.5L1551.1 440.9L1553.1 440.5L1556.1 440.3L1559.1 440L1561.1 439.9L1611.2 439.3L1613.2 439.4L1616.2 439.6L1619.2 439.7L1621.2 440L1624.2 440.6L1621.2 441.3L1619.2 441.7L1616.2 441.9L1613.2 442.1L1611.2 442.2L1561.1 442.8L1559.1 442.7L1556.1 442.6L1553.1 442.4L1551.1 442.1ZM1610 440.8L1613 440.1L1615 439.7L1618 439.5L1621 439.2L1623 439L1815 436.8L1815 440L1623 442.2L1621 442.1L1618 441.9L1615 441.7L1613 441.4Z"/></defs>
<use href="#b1A" fill="none" stroke="#090909" stroke-width="6.2" stroke-linejoin="round" transform="translate(0,-2.1)"/>
<use href="#b1A" fill="none" stroke="#131313" stroke-width="4.4" stroke-linejoin="round" transform="translate(0,-1.2)"/>
<path d="M1041.5 173.2L1042.7 172.9L1044.5 172.5L1046.4 172.3L1047.6 172.2L1048.8 172.3L1050.7 172.5L1052.5 172.8L1053.7 173L1052.5 173.3L1050.7 173.6L1048.8 173.9L1047.6 174L1046.4 173.9L1044.5 173.7L1042.7 173.4ZM1041.5 209.8L1042.7 209.5L1044.5 209.2L1046.4 208.9L1047.6 208.8L1048.8 208.9L1050.7 209.1L1052.5 209.4L1053.7 209.6L1052.5 209.9L1050.7 210.3L1048.8 210.5L1047.6 210.6L1046.4 210.5L1044.5 210.3L1042.7 210.1ZM1798.8 313.6L1799.1 313.3L1799.6 313L1800.1 312.7L1800.4 312.6L1800.8 312.7L1801.2 312.9L1801.7 313.2L1802.1 313.5L1801.7 313.8L1801.2 314.1L1800.8 314.3L1800.4 314.4L1800.1 314.3L1799.6 314.1L1799.1 313.8ZM1798.8 350.3L1799.1 350L1799.6 349.7L1800.1 349.4L1800.4 349.3L1800.8 349.4L1801.2 349.6L1801.7 349.9L1802.1 350.2L1801.7 350.5L1801.2 350.8L1800.8 351L1800.4 351.1L1800.1 351L1799.6 350.8L1799.1 350.5ZM1496.5 405.4L1496.9 405L1497.5 404.6L1498.1 404.4L1498.5 404.2L1498.9 404.3L1499.5 404.6L1500.2 405L1500.6 405.3L1500.2 405.7L1499.5 406.1L1498.9 406.4L1498.5 406.5L1498.1 406.4L1497.5 406.1L1496.9 405.7ZM1532.3 405L1532.7 404.7L1533.3 404.3L1533.8 404.1L1534.2 404L1534.6 404L1535.2 404.3L1535.7 404.6L1536.1 404.9L1535.7 405.2L1535.2 405.6L1534.6 405.8L1534.2 405.9L1533.8 405.8L1533.3 405.6L1532.7 405.3ZM1536.4 404.9L1536.8 404.6L1537.4 404.3L1538 404L1538.5 403.9L1538.9 404L1539.5 404.2L1540.1 404.6L1540.5 404.9L1540.1 405.2L1539.5 405.5L1538.9 405.8L1538.5 405.9L1538 405.8L1537.4 405.5L1536.8 405.2ZM1496.5 442.1L1496.9 441.8L1497.5 441.4L1498.1 441.1L1498.5 441L1498.9 441.1L1499.5 441.4L1500.2 441.7L1500.6 442.1L1500.2 442.4L1499.5 442.8L1498.9 443.1L1498.5 443.2L1498.1 443.1L1497.5 442.8L1496.9 442.5ZM1532.3 441.7L1532.7 441.4L1533.3 441L1533.8 440.8L1534.2 440.7L1534.6 440.8L1535.2 441L1535.7 441.4L1536.1 441.7L1535.7 442L1535.2 442.3L1534.6 442.6L1534.2 442.7L1533.8 442.6L1533.3 442.3L1532.7 442ZM1536.4 441.6L1536.8 441.3L1537.4 441L1538 440.7L1538.5 440.6L1538.9 440.7L1539.5 441L1540.1 441.3L1540.5 441.6L1540.1 441.9L1539.5 442.3L1538.9 442.5L1538.5 442.6L1538 442.5L1537.4 442.3L1536.8 441.9Z" fill="#4a4a4a" stroke="#161616" stroke-width="2.4" stroke-linejoin="round" paint-order="stroke"/>
<use href="#b1A" fill="#fff"/></g>
<g filter="url(#blB)"><defs><path id="b1B" d="M970 509L1646.5 501.7L1648.5 501.8L1651.5 502L1654.5 502.2L1656.5 502.5L1659.5 503L1656.5 503.7L1654.5 504L1651.5 504.2L1648.5 504.5L1646.5 504.6L970 511.8ZM1643.5 503.2L1646.5 502.6L1648.5 502.2L1651.5 502L1654.5 501.8L1656.5 501.6L1712 501L1714 501.1L1717 501.3L1720 501.5L1722 501.7L1725 502.3L1722 503L1720 503.3L1717 503.5L1714 503.8L1712 503.9L1656.5 504.5L1654.5 504.4L1651.5 504.2L1648.5 504.1L1646.5 503.8ZM1709 502.5L1712 501.9L1713.8 501.5L1716.5 501.4L1719.2 501.2L1721 501L1722.8 501.1L1725.5 501.3L1728.2 501.4L1730 501.7L1733 502.3L1730 502.9L1728.2 503.2L1725.5 503.4L1722.8 503.6L1721 503.7L1719.2 503.6L1716.5 503.5L1713.8 503.4L1712 503.1ZM1716 502.4L1719 501.8L1721 501.5L1724 501.2L1727 501L1729 500.9L1815 499.9L1815 502.8L1729 503.7L1727 503.6L1724 503.5L1721 503.3L1719 503ZM970 545.7L1646.5 538.5L1648.5 538.6L1651.5 538.8L1654.5 538.9L1656.5 539.2L1659.5 539.8L1656.5 540.4L1654.5 540.8L1651.5 541L1648.5 541.2L1646.5 541.4L970 548.5ZM1643.5 539.9L1646.5 539.3L1648.5 539L1651.5 538.8L1654.5 538.5L1656.5 538.4L1712 537.8L1714 537.9L1717 538.1L1720 538.2L1722 538.5L1725 539.1L1722 539.7L1720 540.1L1717 540.3L1714 540.5L1712 540.7L1656.5 541.3L1654.5 541.2L1651.5 541L1648.5 540.8L1646.5 540.5ZM1709 539.3L1712 538.6L1713.8 538.3L1716.5 538.1L1719.2 537.9L1721 537.8L1722.8 537.9L1725.5 538L1728.2 538.1L1730 538.4L1733 539L1730 539.6L1728.2 540L1725.5 540.1L1722.8 540.3L1721 540.5L1719.2 540.4L1716.5 540.2L1713.8 540.1L1712 539.8ZM1716 539.2L1719 538.5L1721 538.2L1724 538L1727 537.7L1729 537.6L1815 536.7L1815 539.6L1729 540.5L1727 540.4L1724 540.2L1721 540L1719 539.8ZM970 620.9L982 620.8L983.8 620.9L986.5 621.1L989.3 621.3L991.1 621.6L994.1 622.2L991.1 622.8L989.3 623.2L986.5 623.4L983.8 623.7L982 623.8L970 624ZM989.1 622.2L992.1 621.6L994.9 621.2L999.1 621L1003.3 620.7L1006.1 620.5L1013.7 620.5L1016.5 620.6L1020.7 620.8L1024.9 620.9L1027.7 621.2L1030.7 621.8L1027.7 622.5L1024.9 622.8L1020.7 623.1L1016.5 623.4L1013.7 623.5L1006.1 623.6L1003.3 623.5L999.1 623.3L994.9 623.1L992.1 622.8ZM1025.7 621.9L1028.7 621.2L1031.5 620.9L1035.7 620.6L1039.9 620.3L1042.7 620.2L1052 620.1L1054.8 620.2L1059 620.4L1063.2 620.6L1066 620.9L1069 621.4L1066 622.1L1063.2 622.4L1059 622.7L1054.8 623L1052 623.1L1042.7 623.2L1039.9 623.1L1035.7 622.9L1031.5 622.7L1028.7 622.5ZM1064 621.5L1067 620.8L1069.8 620.5L1074 620.2L1078.2 619.9L1081 619.8L1091.8 619.7L1094.6 619.8L1098.8 620L1103 620.2L1105.8 620.5L1108.8 621L1105.8 621.7L1103 622L1098.8 622.3L1094.6 622.6L1091.8 622.7L1081 622.9L1078.2 622.8L1074 622.5L1069.8 622.4L1067 622.1ZM1103.8 621.1L1106.8 620.4L1109.6 620.1L1113.8 619.9L1118 619.6L1120.8 619.4L1131.7 619.3L1134.5 619.4L1138.7 619.6L1142.9 619.8L1145.7 620.1L1148.7 620.7L1145.7 621.3L1142.9 621.6L1138.7 621.9L1134.5 622.2L1131.7 622.4L1120.8 622.5L1118 622.4L1113.8 622.1L1109.6 622L1106.8 621.7ZM1143.7 620.7L1146.7 620.1L1149.5 619.7L1153.7 619.5L1157.9 619.2L1160.7 619L1171.5 618.9L1174.3 619L1178.5 619.2L1182.7 619.4L1185.5 619.7L1188.5 620.3L1185.5 620.9L1182.7 621.3L1178.5 621.5L1174.3 621.8L1171.5 622L1160.7 622.1L1157.9 622L1153.7 621.7L1149.5 621.6L1146.7 621.3ZM1183.5 620.3L1186.5 619.7L1189.3 619.3L1193.5 619.1L1197.7 618.8L1200.5 618.6L1211.4 618.5L1214.2 618.6L1218.4 618.8L1222.6 619L1225.4 619.3L1228.4 619.9L1225.4 620.5L1222.6 620.9L1218.4 621.1L1214.2 621.4L1211.4 621.6L1200.5 621.7L1197.7 621.6L1193.5 621.4L1189.3 621.2L1186.5 620.9ZM1223.4 619.9L1226.4 619.3L1229.2 618.9L1233.4 618.7L1237.6 618.4L1240.4 618.2L1252.8 618.1L1255.6 618.2L1259.8 618.4L1264 618.6L1266.8 618.9L1269.8 619.5L1266.8 620.1L1264 620.4L1259.8 620.7L1255.6 621L1252.8 621.2L1240.4 621.3L1237.6 621.2L1233.4 621L1229.2 620.8L1226.4 620.5ZM1264.8 619.5L1267.8 618.9L1270.6 618.5L1274.8 618.3L1279 618L1281.8 617.8L1292.7 617.7L1295.5 617.8L1299.7 618L1303.9 618.2L1306.7 618.5L1309.7 619.1L1306.7 619.7L1303.9 620.1L1299.7 620.3L1295.5 620.6L1292.7 620.8L1281.8 620.9L1279 620.8L1274.8 620.6L1270.6 620.4L1267.8 620.1ZM1304.7 619.1L1307.7 618.5L1310.5 618.1L1314.7 617.9L1318.9 617.6L1321.7 617.4L1334.1 617.3L1336.9 617.4L1341.1 617.6L1345.3 617.8L1348.1 618.1L1351.1 618.7L1348.1 619.3L1345.3 619.6L1341.1 619.9L1336.9 620.2L1334.1 620.4L1321.7 620.5L1318.9 620.4L1314.7 620.2L1310.5 620L1307.7 619.7ZM1346.1 618.7L1349.1 618.1L1351.9 617.7L1356.1 617.5L1360.3 617.2L1363.1 617L1377.1 616.9L1379.9 617L1384.1 617.2L1388.3 617.4L1391.1 617.6L1394.1 618.2L1391.1 618.9L1388.3 619.2L1384.1 619.5L1379.9 619.8L1377.1 619.9L1363.1 620.1L1360.3 620L1356.1 619.8L1351.9 619.6L1349.1 619.3ZM1389.1 618.3L1392.1 617.6L1394.9 617.3L1399.1 617L1403.3 616.7L1406.1 616.6L1420.2 616.4L1423 616.5L1427.2 616.8L1431.4 616.9L1434.2 617.2L1437.2 617.8L1434.2 618.5L1431.4 618.8L1427.2 619.1L1423 619.4L1420.2 619.5L1406.1 619.6L1403.3 619.5L1399.1 619.3L1394.9 619.2L1392.1 618.9ZM1432.2 617.9L1435.2 617.2L1438 616.9L1442.2 616.6L1446.4 616.3L1449.2 616.2L1463.2 616L1466 616.1L1470.2 616.3L1474.4 616.5L1477.2 616.8L1480.2 617.4L1477.2 618L1474.4 618.4L1470.2 618.6L1466 618.9L1463.2 619.1L1449.2 619.2L1446.4 619.1L1442.2 618.9L1438 618.7L1435.2 618.4ZM1475.2 617.4L1478.2 616.8L1481 616.4L1485.2 616.2L1489.4 615.9L1492.2 615.7L1507.8 615.6L1510.6 615.7L1514.8 615.9L1519 616.1L1521.8 616.4L1524.8 616.9L1521.8 617.6L1519 617.9L1514.8 618.2L1510.6 618.5L1507.8 618.6L1492.2 618.8L1489.4 618.7L1485.2 618.5L1481 618.3L1478.2 618ZM1519.8 617L1522.8 616.3L1525.6 616L1529.8 615.8L1534 615.4L1536.8 615.3L1552.5 615.1L1555.3 615.2L1559.5 615.5L1563.7 615.6L1566.5 615.9L1569.5 616.5L1566.5 617.2L1563.7 617.5L1559.5 617.7L1555.3 618L1552.5 618.2L1536.8 618.4L1534 618.3L1529.8 618L1525.6 617.9L1522.8 617.6ZM1564.5 616.6L1567.5 615.9L1570.3 615.6L1574.5 615.3L1578.7 615L1581.5 614.9L1597.1 614.7L1599.9 614.8L1604.1 615L1608.3 615.2L1611.1 615.5L1614.1 616.1L1611.1 616.7L1608.3 617.1L1604.1 617.3L1599.9 617.6L1597.1 617.8L1581.5 617.9L1578.7 617.8L1574.5 617.6L1570.3 617.4L1567.5 617.1ZM1609.1 616.1L1612.1 615.5L1614.9 615.1L1619.1 614.9L1623.3 614.6L1626.1 614.4L1641.7 614.3L1644.5 614.4L1648.7 614.6L1652.9 614.8L1655.7 615L1658.7 615.6L1655.7 616.3L1652.9 616.6L1648.7 616.9L1644.5 617.2L1641.7 617.3L1626.1 617.5L1623.3 617.4L1619.1 617.2L1614.9 617L1612.1 616.7ZM1653.7 615.7L1656.7 615L1659.5 614.7L1663.7 614.4L1667.9 614.1L1670.7 614L1689.5 613.8L1692.3 613.9L1696.5 614.1L1700.7 614.3L1703.5 614.6L1706.5 615.2L1703.5 615.8L1700.7 616.1L1696.5 616.4L1692.3 616.7L1689.5 616.9L1670.7 617L1667.9 616.9L1663.7 616.7L1659.5 616.5L1656.7 616.3ZM1701.5 615.2L1704.5 614.6L1707.3 614.2L1711.5 614L1715.7 613.7L1718.5 613.5L1735.7 613.3L1738.5 613.4L1742.7 613.7L1746.9 613.8L1749.7 614.1L1752.7 614.7L1749.7 615.3L1746.9 615.7L1742.7 615.9L1738.5 616.2L1735.7 616.4L1718.5 616.6L1715.7 616.5L1711.5 616.2L1707.3 616.1L1704.5 615.8ZM1747.7 614.7L1750.7 614.1L1753.5 613.8L1757.7 613.5L1761.9 613.2L1764.7 613L1782 612.9L1784.8 613L1789 613.2L1793.2 613.4L1796 613.6L1799 614.2L1796 614.9L1793.2 615.2L1789 615.5L1784.8 615.8L1782 615.9L1764.7 616.1L1761.9 616L1757.7 615.8L1753.5 615.6L1750.7 615.3ZM1794 614.3L1797 613.6L1798.2 613.3L1800 613.1L1801.8 612.8L1803 612.7L1815 612.5L1815 615.6L1803 615.7L1801.8 615.6L1800 615.4L1798.2 615.2L1797 614.9ZM970 657.9L982.1 657.8L984.9 657.9L989.1 658.1L993.3 658.3L996.1 658.6L999.1 659.2L996.1 659.8L993.3 660.2L989.1 660.4L984.9 660.7L982.1 660.9L970 661ZM994.1 659.2L997.1 658.6L999.9 658.2L1004.1 658L1008.3 657.7L1011.1 657.5L1018.7 657.5L1021.5 657.6L1025.7 657.8L1029.9 657.9L1032.7 658.2L1035.7 658.8L1032.7 659.5L1029.9 659.8L1025.7 660.1L1021.5 660.4L1018.7 660.5L1011.1 660.6L1008.3 660.5L1004.1 660.3L999.9 660.1L997.1 659.8ZM1030.7 658.9L1033.7 658.2L1036.5 657.9L1040.7 657.6L1044.9 657.3L1047.7 657.2L1057 657.1L1059.8 657.2L1064 657.4L1068.2 657.6L1071 657.9L1074 658.4L1071 659.1L1068.2 659.4L1064 659.7L1059.8 660L1057 660.1L1047.7 660.2L1044.9 660.1L1040.7 659.9L1036.5 659.7L1033.7 659.5ZM1069 658.5L1072 657.8L1074.8 657.5L1079 657.2L1083.2 656.9L1086 656.8L1096.8 656.7L1099.6 656.8L1103.8 657L1108 657.2L1110.8 657.5L1113.8 658L1110.8 658.7L1108 659L1103.8 659.3L1099.6 659.6L1096.8 659.7L1086 659.9L1083.2 659.8L1079 659.5L1074.8 659.4L1072 659.1ZM1108.8 658.1L1111.8 657.4L1114.6 657.1L1118.8 656.9L1123 656.6L1125.8 656.4L1136.7 656.3L1139.5 656.4L1143.7 656.6L1147.9 656.8L1150.7 657.1L1153.7 657.7L1150.7 658.3L1147.9 658.6L1143.7 658.9L1139.5 659.2L1136.7 659.4L1125.8 659.5L1123 659.4L1118.8 659.1L1114.6 659L1111.8 658.7ZM1148.7 657.7L1151.7 657.1L1154.5 656.7L1158.7 656.5L1162.9 656.2L1165.7 656L1176.5 655.9L1179.3 656L1183.5 656.2L1187.7 656.4L1190.5 656.7L1193.5 657.3L1190.5 657.9L1187.7 658.3L1183.5 658.5L1179.3 658.8L1176.5 659L1165.7 659.1L1162.9 659L1158.7 658.8L1154.5 658.6L1151.7 658.3ZM1188.5 657.3L1191.5 656.7L1194.3 656.3L1198.5 656.1L1202.7 655.8L1205.5 655.6L1216.4 655.5L1219.2 655.6L1223.4 655.8L1227.6 656L1230.4 656.3L1233.4 656.9L1230.4 657.5L1227.6 657.9L1223.4 658.1L1219.2 658.4L1216.4 658.6L1205.5 658.7L1202.7 658.6L1198.5 658.4L1194.3 658.2L1191.5 657.9ZM1228.4 656.9L1231.4 656.3L1234.2 655.9L1238.4 655.7L1242.6 655.4L1245.4 655.2L1257.8 655.1L1260.6 655.2L1264.8 655.4L1269 655.6L1271.8 655.9L1274.8 656.5L1271.8 657.1L1269 657.4L1264.8 657.7L1260.6 658L1257.8 658.2L1245.4 658.3L1242.6 658.2L1238.4 658L1234.2 657.8L1231.4 657.5ZM1269.8 656.5L1272.8 655.9L1275.6 655.5L1279.8 655.3L1284 655L1286.8 654.8L1297.7 654.7L1300.5 654.8L1304.7 655L1308.9 655.2L1311.7 655.5L1314.7 656.1L1311.7 656.7L1308.9 657.1L1304.7 657.3L1300.5 657.6L1297.7 657.8L1286.8 657.9L1284 657.8L1279.8 657.6L1275.6 657.4L1272.8 657.1ZM1309.7 656.1L1312.7 655.5L1315.5 655.1L1319.7 654.9L1323.9 654.6L1326.7 654.4L1339.1 654.3L1341.9 654.4L1346.1 654.6L1350.3 654.8L1353.1 655.1L1356.1 655.7L1353.1 656.3L1350.3 656.6L1346.1 656.9L1341.9 657.2L1339.1 657.4L1326.7 657.5L1323.9 657.4L1319.7 657.2L1315.5 657L1312.7 656.7ZM1351.1 655.7L1354.1 655.1L1356.9 654.7L1361.1 654.5L1365.3 654.2L1368.1 654L1382.1 653.9L1384.9 654L1389.1 654.2L1393.3 654.4L1396.1 654.6L1399.1 655.2L1396.1 655.9L1393.3 656.2L1389.1 656.5L1384.9 656.8L1382.1 656.9L1368.1 657.1L1365.3 657L1361.1 656.8L1356.9 656.6L1354.1 656.3ZM1394.1 655.3L1397.1 654.6L1399.9 654.3L1404.1 654L1408.3 653.7L1411.1 653.6L1425.2 653.4L1428 653.5L1432.2 653.8L1436.4 653.9L1439.2 654.2L1442.2 654.8L1439.2 655.5L1436.4 655.8L1432.2 656.1L1428 656.4L1425.2 656.5L1411.1 656.6L1408.3 656.5L1404.1 656.3L1399.9 656.2L1397.1 655.9ZM1437.2 654.9L1440.2 654.2L1443 653.9L1447.2 653.6L1451.4 653.3L1454.2 653.2L1468.2 653L1471 653.1L1475.2 653.3L1479.4 653.5L1482.2 653.8L1485.2 654.4L1482.2 655L1479.4 655.4L1475.2 655.6L1471 655.9L1468.2 656.1L1454.2 656.2L1451.4 656.1L1447.2 655.9L1443 655.7L1440.2 655.4ZM1480.2 654.4L1483.2 653.8L1486 653.4L1490.2 653.2L1494.4 652.9L1497.2 652.7L1512.8 652.6L1515.6 652.7L1519.8 652.9L1524 653.1L1526.8 653.4L1529.8 653.9L1526.8 654.6L1524 654.9L1519.8 655.2L1515.6 655.5L1512.8 655.6L1497.2 655.8L1494.4 655.7L1490.2 655.5L1486 655.3L1483.2 655ZM1524.8 654L1527.8 653.3L1530.6 653L1534.8 652.8L1539 652.4L1541.8 652.3L1557.5 652.1L1560.3 652.2L1564.5 652.5L1568.7 652.6L1571.5 652.9L1574.5 653.5L1571.5 654.2L1568.7 654.5L1564.5 654.7L1560.3 655.1L1557.5 655.2L1541.8 655.4L1539 655.3L1534.8 655L1530.6 654.9L1527.8 654.6ZM1569.5 653.6L1572.5 652.9L1575.3 652.6L1579.5 652.3L1583.7 652L1586.5 651.9L1602.1 651.7L1604.9 651.8L1609.1 652L1613.3 652.2L1616.1 652.5L1619.1 653.1L1616.1 653.7L1613.3 654.1L1609.1 654.3L1604.9 654.6L1602.1 654.8L1586.5 654.9L1583.7 654.8L1579.5 654.6L1575.3 654.4L1572.5 654.1ZM1614.1 653.1L1617.1 652.5L1619.9 652.1L1624.1 651.9L1628.3 651.6L1631.1 651.4L1646.7 651.3L1649.5 651.4L1653.7 651.6L1657.9 651.8L1660.7 652L1663.7 652.6L1660.7 653.3L1657.9 653.6L1653.7 653.9L1649.5 654.2L1646.7 654.3L1631.1 654.5L1628.3 654.4L1624.1 654.2L1619.9 654L1617.1 653.7ZM1658.7 652.7L1661.7 652L1664.5 651.7L1668.7 651.4L1672.9 651.1L1675.7 651L1694.5 650.8L1697.3 650.9L1701.5 651.1L1705.7 651.3L1708.5 651.6L1711.5 652.2L1708.5 652.8L1705.7 653.1L1701.5 653.4L1697.3 653.7L1694.5 653.9L1675.7 654L1672.9 653.9L1668.7 653.7L1664.5 653.5L1661.7 653.3ZM1706.5 652.2L1709.5 651.6L1712.3 651.2L1716.5 651L1720.7 650.7L1723.5 650.5L1740.7 650.3L1743.5 650.4L1747.7 650.7L1751.9 650.8L1754.7 651.1L1757.7 651.7L1754.7 652.3L1751.9 652.7L1747.7 652.9L1743.5 653.2L1740.7 653.4L1723.5 653.6L1720.7 653.5L1716.5 653.2L1712.3 653.1L1709.5 652.8ZM1752.7 651.7L1755.7 651.1L1758.5 650.8L1762.7 650.5L1766.9 650.2L1769.7 650L1787 649.9L1789.8 650L1794 650.2L1798.2 650.4L1801 650.7L1804 651.2L1801 651.9L1798.2 652.2L1794 652.5L1789.8 652.8L1787 652.9L1769.7 653.1L1766.9 653L1762.7 652.8L1758.5 652.6L1755.7 652.3ZM1799 651.3L1802 650.6L1802.2 650.3L1802.5 650.1L1802.8 649.8L1803 649.7L1815 649.6L1815 652.7L1803 652.8L1802.8 652.7L1802.5 652.4L1802.2 652.2L1802 651.9Z"/></defs>
<use href="#b1B" fill="none" stroke="#0a0a0a" stroke-width="6.6" stroke-linejoin="round" transform="translate(0,-2.2)"/>
<use href="#b1B" fill="none" stroke="#151515" stroke-width="4.4" stroke-linejoin="round" transform="translate(0,-1.2)"/>
<use href="#b1B" fill="#fff"/></g>
<g filter="url(#blC)"><defs><path id="b1C" d="M970 750.3L1815 742.4L1815 744.8L970 752.5ZM970 787.4L1815 779.7L1815 782.1L970 789.6Z"/></defs>
<use href="#b1C" fill="none" stroke="#070707" stroke-width="8.4" stroke-linejoin="round" transform="translate(0,-3.2)"/>
<use href="#b1C" fill="none" stroke="#101010" stroke-width="5.4" stroke-linejoin="round" transform="translate(0,-1.9)"/>
<use href="#b1C" fill="none" stroke="#1a1a1a" stroke-width="3.0" stroke-linejoin="round" transform="translate(0,-1.0)"/>
<use href="#b1C" fill="#fff"/></g>
</g></g>
<path d="M982 163.80L1803 153.25" stroke="#000" stroke-width="2.5" fill="none"/>
<path d="M982 163.80L1803 153.25" stroke="#fff" stroke-width="2.5" stroke-dasharray="10 10" fill="none"/>
<path d="M982 179.60L1803 168.90" stroke="#000" stroke-width="2.5" fill="none"/>
<path d="M982 179.60L1803 168.90" stroke="#fff" stroke-width="2.5" stroke-dasharray="10 10" fill="none"/>
<path d="M982 200.30L1803 189.85" stroke="#000" stroke-width="2.5" fill="none"/>
<path d="M982 200.30L1803 189.85" stroke="#fff" stroke-width="2.5" stroke-dasharray="10 10" fill="none"/>
<path d="M982 216.20L1803 205.50" stroke="#000" stroke-width="2.5" fill="none"/>
<path d="M982 216.20L1803 205.50" stroke="#fff" stroke-width="2.5" stroke-dasharray="10 10" fill="none"/>
<path d="M982 235.50L1803 225.05" stroke="#000" stroke-width="2.5" fill="none"/>
<path d="M982 235.50L1803 225.05" stroke="#fff" stroke-width="2.5" stroke-dasharray="10 10" fill="none"/>
<path d="M982 251.20L1803 240.75" stroke="#000" stroke-width="2.5" fill="none"/>
<path d="M982 251.20L1803 240.75" stroke="#fff" stroke-width="2.5" stroke-dasharray="10 10" fill="none"/>
<path d="M982 271.85L1803 261.40" stroke="#000" stroke-width="2.5" fill="none"/>
<path d="M982 271.85L1803 261.40" stroke="#fff" stroke-width="2.5" stroke-dasharray="10 10" fill="none"/>
<path d="M982 287.50L1803 277.10" stroke="#000" stroke-width="2.5" fill="none"/>
<path d="M982 287.50L1803 277.10" stroke="#fff" stroke-width="2.5" stroke-dasharray="10 10" fill="none"/>
<path d="M982 314.05L1803 304.20" stroke="#000" stroke-width="2.5" fill="none"/>
<path d="M982 314.05L1803 304.20" stroke="#fff" stroke-width="2.5" stroke-dasharray="10 10" fill="none"/>
<path d="M982 329.80L1803 319.80" stroke="#000" stroke-width="2.5" fill="none"/>
<path d="M982 329.80L1803 319.80" stroke="#fff" stroke-width="2.5" stroke-dasharray="10 10" fill="none"/>
<path d="M982 350.70L1803 340.75" stroke="#000" stroke-width="2.5" fill="none"/>
<path d="M982 350.70L1803 340.75" stroke="#fff" stroke-width="2.5" stroke-dasharray="10 10" fill="none"/>
<path d="M982 366.50L1803 356.35" stroke="#000" stroke-width="2.5" fill="none"/>
<path d="M982 366.50L1803 356.35" stroke="#fff" stroke-width="2.5" stroke-dasharray="10 10" fill="none"/>
<path d="M982 402.10L1803 392.50" stroke="#000" stroke-width="2.5" fill="none"/>
<path d="M982 402.10L1803 392.50" stroke="#fff" stroke-width="2.5" stroke-dasharray="10 10" fill="none"/>
<path d="M982 417.75L1803 408.20" stroke="#000" stroke-width="2.5" fill="none"/>
<path d="M982 417.75L1803 408.20" stroke="#fff" stroke-width="2.5" stroke-dasharray="10 10" fill="none"/>
<path d="M982 438.60L1803 429.00" stroke="#000" stroke-width="2.5" fill="none"/>
<path d="M982 438.60L1803 429.00" stroke="#fff" stroke-width="2.5" stroke-dasharray="10 10" fill="none"/>
<path d="M982 454.35L1803 444.65" stroke="#000" stroke-width="2.5" fill="none"/>
<path d="M982 454.35L1803 444.65" stroke="#fff" stroke-width="2.5" stroke-dasharray="10 10" fill="none"/>
<path d="M982 500.90L1803 492.00" stroke="#000" stroke-width="2.5" fill="none"/>
<path d="M982 500.90L1803 492.00" stroke="#fff" stroke-width="2.5" stroke-dasharray="10 10" fill="none"/>
<path d="M982 516.70L1803 507.65" stroke="#000" stroke-width="2.5" fill="none"/>
<path d="M982 516.70L1803 507.65" stroke="#fff" stroke-width="2.5" stroke-dasharray="10 10" fill="none"/>
<path d="M982 537.80L1803 528.60" stroke="#000" stroke-width="2.5" fill="none"/>
<path d="M982 537.80L1803 528.60" stroke="#fff" stroke-width="2.5" stroke-dasharray="10 10" fill="none"/>
<path d="M982 553.50L1803 544.25" stroke="#000" stroke-width="2.5" fill="none"/>
<path d="M982 553.50L1803 544.25" stroke="#fff" stroke-width="2.5" stroke-dasharray="10 10" fill="none"/>
<path d="M982 613.10L1803 604.70" stroke="#000" stroke-width="2.5" fill="none"/>
<path d="M982 613.10L1803 604.70" stroke="#fff" stroke-width="2.5" stroke-dasharray="10 10" fill="none"/>
<path d="M982 628.90L1803 620.40" stroke="#000" stroke-width="2.5" fill="none"/>
<path d="M982 628.90L1803 620.40" stroke="#fff" stroke-width="2.5" stroke-dasharray="10 10" fill="none"/>
<path d="M982 650.30L1803 641.75" stroke="#000" stroke-width="2.5" fill="none"/>
<path d="M982 650.30L1803 641.75" stroke="#fff" stroke-width="2.5" stroke-dasharray="10 10" fill="none"/>
<path d="M982 665.90L1803 657.40" stroke="#000" stroke-width="2.5" fill="none"/>
<path d="M982 665.90L1803 657.40" stroke="#fff" stroke-width="2.5" stroke-dasharray="10 10" fill="none"/>
<path d="M982 740.65L1803 733.50" stroke="#000" stroke-width="2.5" fill="none"/>
<path d="M982 740.65L1803 733.50" stroke="#fff" stroke-width="2.5" stroke-dasharray="10 10" fill="none"/>
<path d="M982 756.30L1803 749.20" stroke="#000" stroke-width="2.5" fill="none"/>
<path d="M982 756.30L1803 749.20" stroke="#fff" stroke-width="2.5" stroke-dasharray="10 10" fill="none"/>
<path d="M982 777.95L1803 771.10" stroke="#000" stroke-width="2.5" fill="none"/>
<path d="M982 777.95L1803 771.10" stroke="#fff" stroke-width="2.5" stroke-dasharray="10 10" fill="none"/>
<path d="M982 793.60L1803 786.75" stroke="#000" stroke-width="2.5" fill="none"/>
<path d="M982 793.60L1803 786.75" stroke="#fff" stroke-width="2.5" stroke-dasharray="10 10" fill="none"/>
<rect x="981.8" y="100.0" width="821.2" height="713.0" fill="none" stroke="#000" stroke-width="1.6"/>
<path d="M982.2 813.0v7" stroke="#000" stroke-width="1.7"/>
<text x="982.2" y="843" font-size="20.83" text-anchor="middle">0</text>
<path d="M1082.4 813.0v7" stroke="#000" stroke-width="1.7"/>
<text x="1082.4" y="843" font-size="20.83" text-anchor="middle">250</text>
<path d="M1182.6 813.0v7" stroke="#000" stroke-width="1.7"/>
<text x="1182.6" y="843" font-size="20.83" text-anchor="middle">500</text>
<path d="M1282.9 813.0v7" stroke="#000" stroke-width="1.7"/>
<text x="1282.9" y="843" font-size="20.83" text-anchor="middle">750</text>
<path d="M1383.1 813.0v7" stroke="#000" stroke-width="1.7"/>
<text x="1383.1" y="843" font-size="20.83" text-anchor="middle">1000</text>
<path d="M1483.3 813.0v7" stroke="#000" stroke-width="1.7"/>
<text x="1483.3" y="843" font-size="20.83" text-anchor="middle">1250</text>
<path d="M1583.5 813.0v7" stroke="#000" stroke-width="1.7"/>
<text x="1583.5" y="843" font-size="20.83" text-anchor="middle">1500</text>
<path d="M1683.7 813.0v7" stroke="#000" stroke-width="1.7"/>
<text x="1683.7" y="843" font-size="20.83" text-anchor="middle">1750</text>
<path d="M1784.0 813.0v7" stroke="#000" stroke-width="1.7"/>
<text x="1784.0" y="843" font-size="20.83" text-anchor="middle">2000</text>
<path d="M981.8 813h-6.8" stroke="#000" stroke-width="1.7"/>
<path d="M981.8 726h-6.8" stroke="#000" stroke-width="1.7"/>
<path d="M981.8 639h-6.8" stroke="#000" stroke-width="1.7"/>
<path d="M981.8 552h-6.8" stroke="#000" stroke-width="1.7"/>
<path d="M981.8 464h-6.8" stroke="#000" stroke-width="1.7"/>
<path d="M981.8 377h-6.8" stroke="#000" stroke-width="1.7"/>
<path d="M981.8 290h-6.8" stroke="#000" stroke-width="1.7"/>
<path d="M981.8 203h-6.8" stroke="#000" stroke-width="1.7"/>
<path d="M981.8 116h-6.8" stroke="#000" stroke-width="1.7"/>
<text x="1392.5" y="87" font-size="25" text-anchor="middle">CHIP2</text>
<text x="1393.6" y="871.8" font-size="20.83" text-anchor="middle">pixel</text>
<g clip-path="url(#c2)"><g filter="url(#pl)">
<rect x="1825.0" y="80.0" width="860.0" height="753.0" fill="#030303"/>
<path d="M1840.0 488.4L2670.0 480.5L2670.0 538.0L1840.0 545.8Z" fill="#070707"/>
<path d="M1840.0 601.3L2670.0 594.0L2670.0 651.9L1840.0 659.1Z" fill="#070707"/>
<path d="M1840.0 734.4L2670.0 728.0L2670.0 782.3L1840.0 788.6Z" fill="#080808"/>
<path d="M1840.0 788.6L2670.0 782.3L2670.0 796.3L1840.0 802.6Z" fill="url(#fd2)"/>
<g filter="url(#blA)"><defs><path id="b2A" d="M1833 161.2L1853.7 161L1855.7 161L1858.7 161.1L1861.7 161.2L1863.7 161.5L1866.7 162.1L1863.7 162.8L1861.7 163.2L1858.7 163.3L1855.7 163.5L1853.7 163.6L1833 163.9ZM1864 162.2L1867 161.5L1869 161.1L1872 161L1875 160.8L1877 160.7L1892.9 160.5L1894.9 160.5L1897.9 160.6L1900.9 160.7L1902.9 161.1L1905.9 161.6L1902.9 162.3L1900.9 162.7L1897.9 162.8L1894.9 163L1892.9 163.1L1877 163.3L1875 163.3L1872 163.2L1869 163.1L1867 162.7ZM1908 161.6L1911 161L1912.9 160.7L1915.7 160.5L1918.5 160.4L1920.4 160.4L1922.2 160.4L1925.1 160.4L1927.9 160.5L1929.7 160.7L1932.7 161.3L1929.7 162L1927.9 162.2L1925.1 162.4L1922.2 162.5L1920.4 162.5L1918.5 162.5L1915.7 162.5L1912.9 162.4L1911 162.2ZM1938.2 161.2L1941.2 160.6L1943.2 160.2L1946.2 160.1L1949.2 160L1951.2 159.9L1952.3 159.9L1954.3 159.9L1957.3 160L1960.3 160L1962.3 160.3L1965.3 160.9L1962.3 161.6L1960.3 161.9L1957.3 162L1954.3 162.2L1952.3 162.2L1951.2 162.2L1949.2 162.2L1946.2 162.2L1943.2 162.1L1941.2 161.8ZM1957.7 161L1960.7 160.3L1962.2 160L1964.5 159.9L1966.8 159.8L1968.3 159.7L1971.4 159.7L1975.9 159.7L1980.5 159.8L1983.5 160.1L1986.5 160.6L1983.5 161.3L1980.5 161.7L1975.9 161.8L1971.4 162L1968.3 162L1966.8 162L1964.5 161.9L1962.2 161.9L1960.7 161.6ZM1999.3 160.5L2002.3 159.8L2003.5 159.7L2005.3 159.5L2007.2 159.4L2008.4 159.4L2009.6 159.4L2011.4 159.4L2013.3 159.5L2014.5 159.7L2017.5 160.3L2014.5 160.9L2013.3 161.1L2011.4 161.3L2009.6 161.3L2008.4 161.4L2007.2 161.4L2005.3 161.3L2003.5 161.2L2002.3 161.1ZM2018.8 160.2L2021.8 159.6L2023.5 159.3L2026.1 159.1L2028.7 159.1L2030.4 159L2032.1 159L2034.7 159L2037.2 159.1L2038.9 159.4L2041.9 160L2038.9 160.6L2037.2 160.9L2034.7 161L2032.1 161.1L2030.4 161.2L2028.7 161.2L2026.1 161.1L2023.5 161.1L2021.8 160.8ZM2040 160L2043 159.3L2045 158.9L2048 158.8L2051 158.6L2053 158.5L2075.4 158.2L2077.4 158.3L2080.4 158.4L2083.4 158.5L2085.4 158.8L2088.4 159.4L2085.4 160L2083.4 160.4L2080.4 160.6L2077.4 160.7L2075.4 160.8L2053 161.1L2051 161.1L2048 161L2045 160.9L2043 160.6ZM2087.3 159.4L2090.3 158.7L2092.3 158.3L2095.3 158.1L2098.3 157.9L2100.3 157.7L2328.9 154.8L2330.9 154.9L2333.9 155.1L2336.9 155.3L2338.9 155.6L2341.9 156.2L2338.9 156.9L2336.9 157.3L2333.9 157.5L2330.9 157.8L2328.9 158L2100.3 160.7L2098.3 160.6L2095.3 160.4L2092.3 160.3L2090.3 160ZM2340.8 156.2L2343.8 155.6L2345.8 155.2L2348.8 155L2351.8 154.8L2353.8 154.7L2360.4 154.6L2362.4 154.6L2365.4 154.8L2368.4 154.9L2370.4 155.2L2373.4 155.8L2370.4 156.5L2368.4 156.9L2365.4 157.1L2362.4 157.3L2360.4 157.4L2353.8 157.5L2351.8 157.4L2348.8 157.3L2345.8 157.2L2343.8 156.8ZM2364.8 155.9L2367.8 155.3L2369.8 154.9L2372.8 154.7L2375.8 154.4L2377.8 154.3L2531.8 152.3L2533.8 152.4L2536.8 152.6L2539.8 152.8L2541.8 153.1L2544.8 153.7L2541.8 154.4L2539.8 154.8L2536.8 155L2533.8 155.3L2531.8 155.4L2377.8 157.3L2375.8 157.2L2372.8 157L2369.8 156.9L2367.8 156.5ZM2542.9 153.7L2545.9 153.1L2547.9 152.7L2550.9 152.4L2553.9 152.1L2555.9 152L2639.7 150.9L2641.7 151L2644.7 151.2L2647.7 151.4L2649.7 151.8L2652.7 152.4L2649.7 153L2647.7 153.4L2644.7 153.7L2641.7 154L2639.7 154.1L2555.9 155.1L2553.9 155L2550.9 154.8L2547.9 154.7L2545.9 154.3ZM2647.7 152.4L2650.7 151.8L2652.7 151.4L2655.7 151.1L2658.7 150.8L2660.7 150.6L2677 150.4L2677 153.7L2660.7 153.9L2658.7 153.8L2655.7 153.5L2652.7 153.4L2650.7 153ZM1833 197.8L1853.7 197.6L1855.7 197.6L1858.7 197.7L1861.7 197.8L1863.7 198.2L1866.7 198.7L1863.7 199.4L1861.7 199.8L1858.7 199.9L1855.7 200.1L1853.7 200.2L1833 200.5ZM1864 198.8L1867 198.1L1869 197.7L1872 197.6L1875 197.4L1877 197.3L1892.9 197.1L1894.9 197.1L1897.9 197.3L1900.9 197.4L1902.9 197.7L1905.9 198.3L1902.9 198.9L1900.9 199.3L1897.9 199.5L1894.9 199.7L1892.9 199.8L1877 199.9L1875 199.9L1872 199.8L1869 199.7L1867 199.4ZM1908 198.2L1911 197.6L1912.9 197.3L1915.7 197.2L1918.5 197.1L1920.4 197L1922.2 197L1925.1 197L1927.9 197.1L1929.7 197.4L1932.7 198L1929.7 198.6L1927.9 198.9L1925.1 199L1922.2 199.1L1920.4 199.2L1918.5 199.2L1915.7 199.2L1912.9 199.1L1911 198.8ZM1938.2 197.9L1941.2 197.2L1943.2 196.9L1946.2 196.8L1949.2 196.6L1951.2 196.6L1952.3 196.6L1954.3 196.6L1957.3 196.6L1960.3 196.7L1962.3 197L1965.3 197.6L1962.3 198.2L1960.3 198.6L1957.3 198.7L1954.3 198.8L1952.3 198.9L1951.2 198.9L1949.2 198.9L1946.2 198.8L1943.2 198.8L1941.2 198.5ZM1957.7 197.7L1960.7 197L1962.2 196.7L1964.5 196.5L1966.8 196.4L1968.3 196.4L1971.4 196.4L1975.9 196.4L1980.5 196.4L1983.5 196.7L1986.5 197.3L1983.5 198L1980.5 198.3L1975.9 198.5L1971.4 198.6L1968.3 198.7L1966.8 198.7L1964.5 198.6L1962.2 198.5L1960.7 198.2ZM1999.3 197.2L2002.3 196.5L2003.5 196.3L2005.3 196.2L2007.2 196.1L2008.4 196.1L2009.6 196.1L2011.4 196.1L2013.3 196.2L2014.5 196.4L2017.5 196.9L2014.5 197.6L2013.3 197.7L2011.4 197.9L2009.6 198L2008.4 198L2007.2 198L2005.3 198L2003.5 197.9L2002.3 197.7ZM2018.8 196.9L2021.8 196.3L2023.5 196L2026.1 195.8L2028.7 195.7L2030.4 195.7L2032.1 195.7L2034.7 195.7L2037.2 195.8L2038.9 196.1L2041.9 196.6L2038.9 197.3L2037.2 197.6L2034.7 197.7L2032.1 197.8L2030.4 197.9L2028.7 197.9L2026.1 197.8L2023.5 197.7L2021.8 197.5ZM2040 196.7L2043 196L2045 195.6L2048 195.5L2051 195.3L2053 195.2L2075.4 194.9L2077.4 195L2080.4 195.1L2083.4 195.2L2085.4 195.5L2088.4 196.1L2085.4 196.7L2083.4 197.1L2080.4 197.3L2077.4 197.5L2075.4 197.6L2053 197.8L2051 197.8L2048 197.7L2045 197.6L2043 197.3ZM2087.3 196.1L2090.3 195.4L2092.3 195.1L2095.3 194.9L2098.3 194.6L2100.3 194.5L2328.9 191.6L2330.9 191.7L2333.9 191.9L2336.9 192.1L2338.9 192.5L2341.9 193.1L2338.9 193.7L2336.9 194.1L2333.9 194.4L2330.9 194.7L2328.9 194.8L2100.3 197.4L2098.3 197.3L2095.3 197.2L2092.3 197L2090.3 196.7ZM2340.8 193.1L2343.8 192.4L2345.8 192L2348.8 191.8L2351.8 191.6L2353.8 191.5L2360.4 191.4L2362.4 191.5L2365.4 191.6L2368.4 191.8L2370.4 192.1L2373.4 192.7L2370.4 193.3L2368.4 193.7L2365.4 193.9L2362.4 194.1L2360.4 194.3L2353.8 194.3L2351.8 194.3L2348.8 194.1L2345.8 194L2343.8 193.7ZM2364.8 192.8L2367.8 192.1L2369.8 191.7L2372.8 191.5L2375.8 191.3L2377.8 191.1L2531.8 189.2L2533.8 189.3L2536.8 189.5L2539.8 189.7L2541.8 190.1L2544.8 190.6L2541.8 191.3L2539.8 191.7L2536.8 191.9L2533.8 192.2L2531.8 192.3L2377.8 194.1L2375.8 194L2372.8 193.9L2369.8 193.7L2367.8 193.4ZM2542.9 190.7L2545.9 190L2547.9 189.6L2550.9 189.4L2553.9 189.1L2555.9 188.9L2639.7 187.9L2641.7 188L2644.7 188.2L2647.7 188.4L2649.7 188.8L2652.7 189.3L2649.7 190L2647.7 190.4L2644.7 190.7L2641.7 191L2639.7 191.1L2555.9 192.1L2553.9 192L2550.9 191.8L2547.9 191.6L2545.9 191.2ZM2647.7 189.4L2650.7 188.8L2652.7 188.3L2655.7 188.1L2658.7 187.8L2660.7 187.6L2677 187.4L2677 190.7L2660.7 190.9L2658.7 190.8L2655.7 190.5L2652.7 190.3L2650.7 190ZM1833 231.4L2085.5 228.8L2087.5 229L2090.5 229.4L2093.5 229.7L2095.5 230.1L2098.5 230.7L2095.5 231.4L2093.5 231.8L2090.5 232.2L2087.5 232.7L2085.5 232.9L1833 235.7ZM2090.2 230.8L2093.2 230.2L2094.8 229.7L2097.2 229.3L2099.6 228.9L2101.2 228.7L2174.1 227.9L2176.9 228.1L2181.1 228.5L2185.3 228.7L2188.1 229.1L2191.1 229.7L2188.1 230.4L2185.3 230.8L2181.1 231.2L2176.9 231.6L2174.1 231.9L2101.2 232.7L2099.6 232.5L2097.2 232.1L2094.8 231.8L2093.2 231.4ZM2190.8 229.7L2193.8 229.1L2194.8 228.8L2196.4 228.7L2198 228.6L2199.1 228.6L2200.1 228.6L2201.7 228.6L2203.3 228.7L2204.4 229L2207.4 229.5L2204.4 230.2L2203.3 230.5L2201.7 230.6L2200.1 230.7L2199.1 230.7L2198 230.7L2196.4 230.7L2194.8 230.5L2193.8 230.3ZM2220.1 229.4L2223.1 228.7L2225 228.4L2227.8 228.3L2230.6 228.2L2232.5 228.2L2234.3 228.2L2237.2 228.2L2240 228.3L2241.8 228.5L2244.8 229.1L2241.8 229.8L2240 230.1L2237.2 230.2L2234.3 230.3L2232.5 230.4L2230.6 230.4L2227.8 230.3L2225 230.3L2223.1 230ZM2237.2 229.2L2240.2 228.6L2242.2 228.2L2245.2 227.9L2248.2 227.5L2250.2 227.3L2300.1 226.8L2302.1 226.9L2305.1 227.2L2308.1 227.4L2310.1 227.8L2313.1 228.4L2310.1 229.1L2308.1 229.5L2305.1 229.8L2302.1 230.1L2300.1 230.3L2250.2 230.8L2248.2 230.7L2245.2 230.4L2242.2 230.2L2240.2 229.8ZM2304.5 228.5L2307.5 227.8L2309.5 227.4L2312.5 227.1L2315.5 226.7L2317.5 226.5L2361.7 226.1L2363.7 226.2L2366.7 226.5L2369.7 226.8L2371.7 227.1L2374.7 227.7L2371.7 228.4L2369.7 228.8L2366.7 229.1L2363.7 229.5L2361.7 229.7L2317.5 230.2L2315.5 230L2312.5 229.7L2309.5 229.5L2307.5 229.1ZM2369.5 227.8L2372.5 227.1L2374.5 226.7L2377.5 226.4L2380.5 226L2382.5 225.8L2442.2 225.2L2444.2 225.4L2447.2 225.7L2450.2 225.9L2452.2 226.3L2455.2 226.9L2452.2 227.5L2450.2 227.9L2447.2 228.2L2444.2 228.6L2442.2 228.8L2382.5 229.5L2380.5 229.3L2377.5 229L2374.5 228.8L2372.5 228.4ZM2457.3 226.8L2460.3 226.2L2462.3 225.8L2465.3 225.5L2468.3 225.1L2470.3 224.9L2556.6 224L2558.6 224.1L2561.6 224.4L2564.6 224.7L2566.6 225L2569.6 225.6L2566.6 226.3L2564.6 226.7L2561.6 227L2558.6 227.4L2556.6 227.5L2470.3 228.5L2468.3 228.3L2465.3 228L2462.3 227.8L2460.3 227.4ZM2560.8 225.7L2563.8 225.1L2565.4 224.7L2567.8 224.4L2570.2 224.1L2571.8 223.9L2596.6 223.7L2602.6 223.7L2611.6 223.9L2620.6 224.1L2626.6 224.4L2629.6 225L2626.6 225.6L2620.6 226.1L2611.6 226.4L2602.6 226.8L2596.6 227L2571.8 227.3L2570.2 227.2L2567.8 226.9L2565.4 226.7L2563.8 226.3ZM2635.8 224.9L2638.8 224.3L2641.6 223.9L2645.8 223.7L2650 223.4L2652.8 223.3L2677 223.1L2677 225.9L2652.8 226.2L2650 226.1L2645.8 225.9L2641.6 225.8L2638.8 225.5ZM1833 267.9L2085.5 265.3L2087.5 265.4L2090.5 265.8L2093.5 266.2L2095.5 266.6L2098.5 267.2L2095.5 267.8L2093.5 268.3L2090.5 268.7L2087.5 269.2L2085.5 269.4L1833 272.2ZM2090.2 267.3L2093.2 266.6L2094.8 266.2L2097.2 265.8L2099.6 265.4L2101.2 265.2L2174.1 264.4L2176.9 264.6L2181.1 264.9L2185.3 265.2L2188.1 265.6L2191.1 266.2L2188.1 266.9L2185.3 267.3L2181.1 267.7L2176.9 268.1L2174.1 268.3L2101.2 269.1L2099.6 269L2097.2 268.6L2094.8 268.3L2093.2 267.9ZM2190.8 266.2L2193.8 265.6L2194.8 265.3L2196.4 265.2L2198 265.1L2199.1 265L2200.1 265.1L2201.7 265.1L2203.3 265.2L2204.4 265.4L2207.4 266L2204.4 266.7L2203.3 266.9L2201.7 267.1L2200.1 267.2L2199.1 267.2L2198 267.2L2196.4 267.1L2194.8 267L2193.8 266.8ZM2220.1 265.9L2223.1 265.2L2225 264.9L2227.8 264.8L2230.6 264.7L2232.5 264.7L2234.3 264.7L2237.2 264.7L2240 264.8L2241.8 265L2244.8 265.6L2241.8 266.3L2240 266.6L2237.2 266.7L2234.3 266.8L2232.5 266.9L2230.6 266.9L2227.8 266.8L2225 266.7L2223.1 266.5ZM2237.2 265.7L2240.2 265.1L2242.2 264.7L2245.2 264.4L2248.2 264L2250.2 263.8L2300.1 263.3L2302.1 263.4L2305.1 263.7L2308.1 263.9L2310.1 264.3L2313.1 264.9L2310.1 265.6L2308.1 266L2305.1 266.3L2302.1 266.6L2300.1 266.8L2250.2 267.3L2248.2 267.2L2245.2 266.9L2242.2 266.7L2240.2 266.3ZM2304.5 265L2307.5 264.3L2309.5 263.9L2312.5 263.6L2315.5 263.2L2317.5 263L2361.7 262.6L2363.7 262.7L2366.7 263L2369.7 263.3L2371.7 263.7L2374.7 264.2L2371.7 264.9L2369.7 265.3L2366.7 265.6L2363.7 266L2361.7 266.2L2317.5 266.7L2315.5 266.5L2312.5 266.2L2309.5 266L2307.5 265.6ZM2369.5 264.3L2372.5 263.7L2374.5 263.2L2377.5 262.9L2380.5 262.5L2382.5 262.4L2442.2 261.7L2444.2 261.9L2447.2 262.2L2450.2 262.4L2452.2 262.8L2455.2 263.4L2452.2 264L2450.2 264.5L2447.2 264.8L2444.2 265.1L2442.2 265.3L2382.5 266L2380.5 265.8L2377.5 265.5L2374.5 265.3L2372.5 264.9ZM2457.3 263.4L2460.3 262.7L2462.3 262.3L2465.3 262L2468.3 261.6L2470.3 261.4L2556.6 260.5L2558.6 260.7L2561.6 261L2564.6 261.2L2566.6 261.6L2569.6 262.2L2566.6 262.8L2564.6 263.2L2561.6 263.5L2558.6 263.9L2556.6 264.1L2470.3 265L2468.3 264.9L2465.3 264.6L2462.3 264.3L2460.3 264ZM2560.8 262.3L2563.8 261.6L2565.4 261.2L2567.8 260.9L2570.2 260.6L2571.8 260.5L2596.6 260.2L2602.6 260.3L2611.6 260.5L2620.6 260.6L2626.6 260.9L2629.6 261.5L2626.6 262.2L2620.6 262.6L2611.6 263L2602.6 263.3L2596.6 263.5L2571.8 263.8L2570.2 263.7L2567.8 263.4L2565.4 263.2L2563.8 262.8ZM2635.8 261.5L2638.8 260.8L2641.6 260.4L2645.8 260.2L2650 260L2652.8 259.9L2677 259.6L2677 262.4L2652.8 262.7L2650 262.6L2645.8 262.5L2641.6 262.4L2638.8 262ZM1844.9 312.8L1847.9 312.1L1851.1 311.7L1855.9 311.5L1860.7 311.2L1863.9 311.1L1908 310.7L1911.2 310.7L1916 310.9L1920.8 311L1924 311.4L1927 311.9L1924 312.6L1920.8 313L1916 313.2L1911.2 313.5L1908 313.6L1863.9 314.1L1860.7 314L1855.9 313.9L1851.1 313.7L1847.9 313.4ZM1937.3 311.8L1940.3 311.2L1943.1 310.8L1947.3 310.6L1951.5 310.4L1954.3 310.3L2003.7 309.8L2005.7 309.8L2008.7 310L2011.7 310.1L2013.7 310.4L2016.7 311L2013.7 311.7L2011.7 312L2008.7 312.2L2005.7 312.4L2003.7 312.5L1954.3 313L1951.5 313L1947.3 312.9L1943.1 312.8L1940.3 312.4ZM2018.8 311L2021.8 310.3L2023.8 310L2026.8 309.9L2029.8 309.8L2031.8 309.7L2033.8 309.7L2035.8 309.7L2038.8 309.7L2041.8 309.8L2043.8 310.1L2046.8 310.7L2043.8 311.3L2041.8 311.7L2038.8 311.8L2035.8 311.9L2033.8 312L2031.8 312L2029.8 312L2026.8 311.9L2023.8 311.8L2021.8 311.6ZM2039.2 310.8L2042.2 310.1L2043.8 309.8L2046.2 309.7L2048.6 309.5L2050.2 309.5L2060.8 309.4L2063.6 309.4L2067.8 309.4L2072 309.5L2074.8 309.8L2077.8 310.4L2074.8 311L2072 311.4L2067.8 311.5L2063.6 311.6L2060.8 311.7L2050.2 311.8L2048.6 311.8L2046.2 311.7L2043.8 311.7L2042.2 311.4ZM2092.2 310.2L2095.2 309.6L2099.6 309.2L2106.2 308.9L2112.8 308.7L2117.2 308.6L2393.7 305.8L2395.3 305.8L2397.7 305.9L2400.1 306L2401.7 306.3L2404.7 306.9L2401.7 307.6L2400.1 307.9L2397.7 308.1L2395.3 308.2L2393.7 308.3L2117.2 311.3L2112.8 311.3L2106.2 311.2L2099.6 311.1L2095.2 310.8ZM2366.1 307.3L2369.1 306.7L2370.7 306.4L2373.1 306.3L2375.5 306.2L2377.1 306.2L2508.7 304.8L2520.7 304.7L2538.7 304.5L2556.7 304.5L2568.7 304.6L2571.7 305.2L2568.7 305.8L2556.7 306.2L2538.7 306.5L2520.7 306.7L2508.7 306.9L2377.1 308.3L2375.5 308.3L2373.1 308.3L2370.7 308.1L2369.1 307.9ZM2600.8 304.9L2603.8 304.2L2606.6 304L2610.8 303.8L2615 303.7L2617.8 303.7L2627.1 303.6L2628.7 303.6L2631.1 303.6L2633.5 303.8L2635.1 303.9L2638.1 304.5L2635.1 305.1L2633.5 305.3L2631.1 305.5L2628.7 305.6L2627.1 305.6L2617.8 305.7L2615 305.7L2610.8 305.7L2606.6 305.6L2603.8 305.5ZM2632.4 304.5L2635.4 303.9L2637.4 303.6L2640.4 303.5L2643.4 303.4L2645.4 303.3L2677 303L2677 305.1L2645.4 305.5L2643.4 305.5L2640.4 305.5L2637.4 305.4L2635.4 305.1ZM1844.9 349.9L1847.9 349.2L1851.1 348.8L1855.9 348.6L1860.7 348.3L1863.9 348.2L1908 347.7L1911.2 347.8L1916 348L1920.8 348.1L1924 348.4L1927 349L1924 349.6L1920.8 350L1916 350.3L1911.2 350.5L1908 350.7L1863.9 351.2L1860.7 351.1L1855.9 350.9L1851.1 350.8L1847.9 350.5ZM1937.3 348.9L1940.3 348.2L1943.1 347.8L1947.3 347.6L1951.5 347.4L1954.3 347.3L2003.7 346.8L2005.7 346.8L2008.7 347L2011.7 347.1L2013.7 347.4L2016.7 348L2013.7 348.7L2011.7 349L2008.7 349.2L2005.7 349.4L2003.7 349.5L1954.3 350.1L1951.5 350L1947.3 349.9L1943.1 349.8L1940.3 349.5ZM2018.8 348L2021.8 347.3L2023.8 347L2026.8 346.9L2029.8 346.8L2031.8 346.7L2033.8 346.7L2035.8 346.7L2038.8 346.7L2041.8 346.8L2043.8 347.1L2046.8 347.7L2043.8 348.3L2041.8 348.7L2038.8 348.8L2035.8 348.9L2033.8 349L2031.8 349L2029.8 349L2026.8 348.9L2023.8 348.9L2021.8 348.6ZM2039.2 347.8L2042.2 347.1L2043.8 346.8L2046.2 346.6L2048.6 346.5L2050.2 346.5L2060.8 346.3L2063.6 346.4L2067.8 346.4L2072 346.5L2074.8 346.7L2077.8 347.3L2074.8 348L2072 348.3L2067.8 348.5L2063.6 348.6L2060.8 348.7L2050.2 348.8L2048.6 348.8L2046.2 348.7L2043.8 348.7L2042.2 348.3ZM2092.2 347.2L2095.2 346.5L2099.6 346.1L2106.2 345.9L2112.8 345.7L2117.2 345.5L2393.7 342.6L2395.3 342.6L2397.7 342.7L2400.1 342.8L2401.7 343.1L2404.7 343.7L2401.7 344.4L2400.1 344.7L2397.7 344.9L2395.3 345L2393.7 345.1L2117.2 348.3L2112.8 348.2L2106.2 348.1L2099.6 348.1L2095.2 347.8ZM2366.1 344.1L2369.1 343.5L2370.7 343.2L2373.1 343.1L2375.5 343L2377.1 343L2508.7 341.5L2520.7 341.4L2538.7 341.3L2556.7 341.2L2568.7 341.3L2571.7 341.9L2568.7 342.5L2556.7 342.9L2538.7 343.2L2520.7 343.5L2508.7 343.6L2377.1 345.1L2375.5 345.1L2373.1 345.1L2370.7 344.9L2369.1 344.7ZM2600.8 341.6L2603.8 340.9L2606.6 340.7L2610.8 340.5L2615 340.4L2617.8 340.4L2627.1 340.3L2628.7 340.3L2631.1 340.3L2633.5 340.4L2635.1 340.6L2638.1 341.1L2635.1 341.8L2633.5 342L2631.1 342.2L2628.7 342.2L2627.1 342.3L2617.8 342.4L2615 342.4L2610.8 342.4L2606.6 342.3L2603.8 342.1ZM2632.4 341.2L2635.4 340.6L2637.4 340.3L2640.4 340.1L2643.4 340L2645.4 340L2677 339.7L2677 341.8L2645.4 342.1L2643.4 342.1L2640.4 342.1L2637.4 342L2635.4 341.8ZM1833 399.6L1885.2 399.1L1887.2 399.2L1890.2 399.6L1893.2 399.9L1895.2 400.2L1898.2 400.8L1895.2 401.5L1893.2 401.9L1890.2 402.3L1887.2 402.7L1885.2 402.9L1833 403.4ZM1889.6 400.9L1892.6 400.3L1894.6 399.8L1897.6 399.5L1900.6 399.1L1902.6 398.9L1935.7 398.5L1937.7 398.7L1940.7 399L1943.7 399.3L1945.7 399.7L1948.7 400.3L1945.7 400.9L1943.7 401.4L1940.7 401.7L1937.7 402.1L1935.7 402.3L1902.6 402.7L1900.6 402.5L1897.6 402.2L1894.6 401.9L1892.6 401.5ZM1940.1 400.4L1943.1 399.7L1945.1 399.3L1948.1 398.9L1951.1 398.5L1953.1 398.3L1986.9 398L1988.9 398.1L1991.9 398.5L1994.9 398.8L1996.9 399.1L1999.9 399.7L1996.9 400.4L1994.9 400.8L1991.9 401.2L1988.9 401.6L1986.9 401.8L1953.1 402.1L1951.1 402L1948.1 401.6L1945.1 401.3L1943.1 401ZM1995.5 399.8L1998.5 399.1L2000.5 398.7L2003.5 398.4L2006.5 398L2008.5 397.8L2020.5 397.7L2022.5 397.8L2025.5 398.2L2028.5 398.4L2030.5 398.8L2033.5 399.4L2030.5 400L2028.5 400.4L2025.5 400.8L2022.5 401.1L2020.5 401.3L2008.5 401.4L2006.5 401.3L2003.5 401L2000.5 400.7L1998.5 400.4ZM2036.8 399.3L2039.8 398.7L2041.3 398.3L2043.7 398.1L2046.1 397.9L2047.7 397.8L2049.3 397.9L2051.7 398L2054.1 398.2L2055.7 398.5L2058.7 399.1L2055.7 399.7L2054.1 400.1L2051.7 400.3L2049.3 400.5L2047.7 400.6L2046.1 400.5L2043.7 400.4L2041.3 400.3L2039.8 399.9ZM2053 399.2L2056 398.5L2058 398.1L2061 397.9L2064 397.6L2066 397.5L2070 397.4L2072 397.5L2075 397.7L2078 397.9L2080 398.2L2083 398.8L2080 399.5L2078 399.9L2075 400.1L2072 400.4L2070 400.5L2066 400.6L2064 400.5L2061 400.3L2058 400.1L2056 399.7ZM2088.9 398.8L2091.9 398.1L2093.9 397.7L2096.9 397.3L2099.9 396.9L2101.9 396.7L2289.3 394.7L2291.3 394.9L2294.3 395.2L2297.3 395.5L2299.3 395.9L2302.3 396.5L2299.3 397.1L2297.3 397.5L2294.3 397.9L2291.3 398.3L2289.3 398.5L2101.9 400.5L2099.9 400.4L2096.9 400L2093.9 399.7L2091.9 399.4ZM2294 396.6L2297 395.9L2299 395.5L2302 395.2L2305 394.9L2307 394.7L2308.9 394.7L2310.9 394.8L2313.9 395.1L2316.9 395.3L2318.9 395.7L2321.9 396.3L2318.9 396.9L2316.9 397.3L2313.9 397.6L2310.9 397.9L2308.9 398.1L2307 398.1L2305 398L2302 397.7L2299 397.5L2297 397.1ZM2313.6 396.3L2316.6 395.7L2318.6 395.3L2321.6 395L2324.6 394.6L2326.6 394.4L2388.4 393.8L2390.4 393.9L2393.4 394.2L2396.4 394.4L2398.4 394.8L2401.4 395.4L2398.4 396L2396.4 396.5L2393.4 396.8L2390.4 397.1L2388.4 397.3L2326.6 398L2324.6 397.8L2321.6 397.5L2318.6 397.3L2316.6 396.9ZM2393.5 395.5L2396.5 394.8L2398.5 394.4L2401.5 394.2L2404.5 393.8L2406.5 393.7L2564.9 392L2566.9 392.1L2569.9 392.3L2572.9 392.5L2574.9 392.9L2577.9 393.5L2574.9 394.1L2572.9 394.5L2569.9 394.8L2566.9 395.1L2564.9 395.3L2406.5 397L2404.5 396.9L2401.5 396.6L2398.5 396.4L2396.5 396.1ZM2572.7 393.5L2575.7 392.9L2577.7 392.5L2580.7 392.2L2583.7 391.9L2585.7 391.7L2607.1 391.5L2609.1 391.6L2612.1 391.9L2615.1 392.1L2617.1 392.4L2620.1 393L2617.1 393.7L2615.1 394.1L2612.1 394.4L2609.1 394.7L2607.1 394.8L2585.7 395.1L2583.7 395L2580.7 394.7L2577.7 394.5L2575.7 394.1ZM2613.5 393.1L2616.5 392.5L2618.5 392.1L2621.5 391.8L2624.5 391.5L2626.5 391.4L2637.4 391.3L2639.4 391.4L2642.4 391.6L2645.4 391.8L2647.4 392.1L2650.4 392.7L2647.4 393.4L2645.4 393.8L2642.4 394L2639.4 394.3L2637.4 394.4L2626.5 394.5L2624.5 394.4L2621.5 394.2L2618.5 394L2616.5 393.7ZM2641.8 392.8L2644.8 392.1L2646.8 391.7L2649.8 391.5L2652.8 391.2L2654.8 391L2677 390.8L2677 394.1L2654.8 394.3L2652.8 394.2L2649.8 393.9L2646.8 393.7L2644.8 393.4ZM1833 436.1L1885.2 435.6L1887.2 435.7L1890.2 436.1L1893.2 436.4L1895.2 436.8L1898.2 437.4L1895.2 438L1893.2 438.4L1890.2 438.8L1887.2 439.2L1885.2 439.4L1833 439.9ZM1889.6 437.4L1892.6 436.8L1894.6 436.4L1897.6 436L1900.6 435.6L1902.6 435.4L1935.7 435.1L1937.7 435.2L1940.7 435.6L1943.7 435.9L1945.7 436.3L1948.7 436.8L1945.7 437.5L1943.7 437.9L1940.7 438.3L1937.7 438.7L1935.7 438.9L1902.6 439.2L1900.6 439.1L1897.6 438.7L1894.6 438.4L1892.6 438ZM1940.1 436.9L1943.1 436.3L1945.1 435.9L1948.1 435.5L1951.1 435.1L1953.1 434.9L1986.9 434.6L1988.9 434.7L1991.9 435.1L1994.9 435.4L1996.9 435.7L1999.9 436.3L1996.9 437L1994.9 437.4L1991.9 437.7L1988.9 438.2L1986.9 438.4L1953.1 438.7L1951.1 438.5L1948.1 438.2L1945.1 437.9L1943.1 437.5ZM1995.5 436.4L1998.5 435.7L2000.5 435.3L2003.5 435L2006.5 434.6L2008.5 434.4L2020.5 434.3L2022.5 434.5L2025.5 434.8L2028.5 435L2030.5 435.4L2033.5 436L2030.5 436.6L2028.5 437L2025.5 437.4L2022.5 437.7L2020.5 437.9L2008.5 438L2006.5 437.9L2003.5 437.6L2000.5 437.3L1998.5 437ZM2036.8 435.9L2039.8 435.3L2041.3 434.9L2043.7 434.7L2046.1 434.5L2047.7 434.4L2049.3 434.5L2051.7 434.7L2054.1 434.8L2055.7 435.1L2058.7 435.7L2055.7 436.4L2054.1 436.8L2051.7 436.9L2049.3 437.1L2047.7 437.2L2046.1 437.2L2043.7 437L2041.3 436.9L2039.8 436.5ZM2053 435.8L2056 435.1L2058 434.7L2061 434.5L2064 434.2L2066 434.1L2070 434.1L2072 434.2L2075 434.4L2078 434.5L2080 434.9L2083 435.5L2080 436.1L2078 436.5L2075 436.7L2072 437L2070 437.2L2066 437.2L2064 437.1L2061 436.9L2058 436.7L2056 436.4ZM2088.9 435.4L2091.9 434.8L2093.9 434.3L2096.9 434L2099.9 433.6L2101.9 433.4L2289.3 431.5L2291.3 431.7L2294.3 432L2297.3 432.3L2299.3 432.7L2302.3 433.2L2299.3 433.9L2297.3 434.3L2294.3 434.6L2291.3 435L2289.3 435.2L2101.9 437.2L2099.9 437L2096.9 436.7L2093.9 436.4L2091.9 436ZM2294 433.3L2297 432.7L2299 432.3L2302 432L2305 431.7L2307 431.5L2308.9 431.5L2310.9 431.6L2313.9 431.9L2316.9 432.1L2318.9 432.5L2321.9 433L2318.9 433.7L2316.9 434.1L2313.9 434.4L2310.9 434.7L2308.9 434.9L2307 434.9L2305 434.8L2302 434.5L2299 434.3L2297 433.9ZM2313.6 433.1L2316.6 432.5L2318.6 432.1L2321.6 431.8L2324.6 431.4L2326.6 431.2L2388.4 430.6L2390.4 430.7L2393.4 431L2396.4 431.3L2398.4 431.6L2401.4 432.2L2398.4 432.9L2396.4 433.3L2393.4 433.6L2390.4 434L2388.4 434.1L2326.6 434.8L2324.6 434.6L2321.6 434.3L2318.6 434.1L2316.6 433.7ZM2393.5 432.3L2396.5 431.7L2398.5 431.3L2401.5 431L2404.5 430.7L2406.5 430.5L2564.9 428.9L2566.9 429L2569.9 429.3L2572.9 429.5L2574.9 429.8L2577.9 430.4L2574.9 431.1L2572.9 431.5L2569.9 431.8L2566.9 432.1L2564.9 432.2L2406.5 433.9L2404.5 433.7L2401.5 433.5L2398.5 433.3L2396.5 432.9ZM2572.7 430.5L2575.7 429.8L2577.7 429.4L2580.7 429.2L2583.7 428.9L2585.7 428.7L2607.1 428.5L2609.1 428.6L2612.1 428.9L2615.1 429.1L2617.1 429.4L2620.1 430L2617.1 430.7L2615.1 431.1L2612.1 431.3L2609.1 431.6L2607.1 431.8L2585.7 432L2583.7 431.9L2580.7 431.6L2577.7 431.4L2575.7 431.1ZM2613.5 430.1L2616.5 429.4L2618.5 429L2621.5 428.8L2624.5 428.5L2626.5 428.4L2637.4 428.3L2639.4 428.4L2642.4 428.6L2645.4 428.8L2647.4 429.1L2650.4 429.7L2647.4 430.3L2645.4 430.7L2642.4 431L2639.4 431.3L2637.4 431.4L2626.5 431.5L2624.5 431.4L2621.5 431.2L2618.5 431L2616.5 430.7ZM2641.8 429.8L2644.8 429.1L2646.8 428.7L2649.8 428.5L2652.8 428.2L2654.8 428L2677 427.8L2677 431.1L2654.8 431.3L2652.8 431.2L2649.8 430.9L2646.8 430.7L2644.8 430.4Z"/></defs>
<use href="#b2A" fill="none" stroke="#090909" stroke-width="6.2" stroke-linejoin="round" transform="translate(0,-2.1)"/>
<use href="#b2A" fill="none" stroke="#131313" stroke-width="4.4" stroke-linejoin="round" transform="translate(0,-1.2)"/>
<path d="M2030 399.4L2031 399.1L2032.6 398.8L2034.2 398.5L2035.3 398.4L2036.3 398.5L2037.9 398.7L2039.5 399L2040.6 399.3L2039.5 399.6L2037.9 399.9L2036.3 400.1L2035.3 400.2L2034.2 400.2L2032.6 400L2031 399.7ZM2080 398.9L2081.3 398.6L2083.2 398.2L2085.1 397.9L2086.4 397.8L2087.6 397.9L2089.5 398.1L2091.4 398.4L2092.7 398.7L2091.4 399L2089.5 399.4L2087.6 399.7L2086.4 399.8L2085.1 399.7L2083.2 399.5L2081.3 399.1ZM2030 436L2031 435.7L2032.6 435.4L2034.2 435.2L2035.3 435.1L2036.3 435.1L2037.9 435.4L2039.5 435.6L2040.6 435.9L2039.5 436.2L2037.9 436.5L2036.3 436.8L2035.3 436.9L2034.2 436.8L2032.6 436.6L2031 436.3ZM2080 435.5L2081.3 435.2L2083.2 434.8L2085.1 434.6L2086.4 434.5L2087.6 434.5L2089.5 434.8L2091.4 435.1L2092.7 435.4L2091.4 435.7L2089.5 436.1L2087.6 436.3L2086.4 436.4L2085.1 436.3L2083.2 436.1L2081.3 435.8ZM2157.4 741.2L2157.8 740.9L2158.4 740.6L2158.9 740.3L2159.3 740.2L2159.7 740.3L2160.3 740.6L2160.8 740.9L2161.2 741.1L2160.8 741.4L2160.3 741.7L2159.7 742L2159.3 742L2158.9 742L2158.4 741.7L2157.8 741.4ZM2409.2 739.2L2411.2 738.8L2414.2 738.4L2417.2 738.1L2419.2 738L2421.5 738L2423.5 738.1L2426.5 738.3L2429.5 738.7L2431.5 739L2429.5 739.4L2426.5 739.8L2423.5 740.1L2421.5 740.2L2419.2 740.2L2417.2 740.1L2414.2 739.9L2411.2 739.5ZM2460.2 738.8L2461.7 738.5L2463.8 738.2L2466 737.9L2467.4 737.8L2468.8 737.9L2471 738.1L2473.1 738.4L2474.6 738.7L2473.1 739L2471 739.3L2468.8 739.5L2467.4 739.6L2466 739.6L2463.8 739.4L2461.7 739.1ZM2415.6 776.4L2417.5 776L2420.4 775.6L2423.3 775.3L2425.2 775.2L2427.1 775.3L2430 775.6L2432.8 775.9L2434.7 776.3L2432.8 776.6L2430 777L2427.1 777.3L2425.2 777.5L2423.3 777.4L2420.4 777.1L2417.5 776.7ZM2466.6 776L2467.7 775.7L2469.4 775.4L2471.1 775.2L2472.2 775.1L2473.3 775.2L2475 775.4L2476.7 775.7L2477.8 775.9L2476.7 776.2L2475 776.5L2473.3 776.8L2472.2 776.9L2471.1 776.8L2469.4 776.6L2467.7 776.3Z" fill="#4a4a4a" stroke="#161616" stroke-width="2.4" stroke-linejoin="round" paint-order="stroke"/>
<use href="#b2A" fill="#fff"/></g>
<g filter="url(#blB)"><defs><path id="b2B" d="M1833 499.3L2677 491L2677 494.5L1833 503ZM1833 536.1L2677 528.4L2677 532L1833 539.8ZM1833 612.4L1866.3 612.1L1868.7 612.2L1872.3 612.4L1875.9 612.6L1878.3 612.9L1881.3 613.5L1878.3 614.1L1875.9 614.5L1872.3 614.7L1868.7 615L1866.3 615.1L1833 615.4ZM1871.3 613.6L1874.3 612.9L1876.7 612.6L1880.3 612.3L1883.9 612L1886.3 611.9L1915.6 611.6L1918 611.7L1921.6 612L1925.2 612.2L1927.6 612.4L1930.6 613L1927.6 613.7L1925.2 614L1921.6 614.3L1918 614.6L1915.6 614.7L1886.3 615L1883.9 614.9L1880.3 614.6L1876.7 614.4L1874.3 614.2ZM1920.6 613.1L1923.6 612.5L1926 612.1L1929.6 611.9L1933.2 611.6L1935.6 611.5L1965.4 611.2L1967.8 611.3L1971.4 611.5L1975 611.7L1977.4 612L1980.4 612.6L1977.4 613.2L1975 613.6L1971.4 613.8L1967.8 614.1L1965.4 614.3L1935.6 614.5L1933.2 614.4L1929.6 614.2L1926 614L1923.6 613.7ZM1970.4 612.7L1973.4 612L1975.8 611.7L1979.4 611.5L1983 611.2L1985.4 611L2015.8 610.7L2018.2 610.9L2021.8 611.1L2025.4 611.3L2027.8 611.6L2030.8 612.1L2027.8 612.8L2025.4 613.1L2021.8 613.4L2018.2 613.7L2015.8 613.8L1985.4 614.1L1983 614L1979.4 613.7L1975.8 613.6L1973.4 613.3ZM2020.8 612.2L2023.8 611.6L2026.2 611.3L2029.8 611L2033.4 610.7L2035.8 610.6L2066.8 610.3L2069.2 610.4L2072.8 610.6L2076.4 610.8L2078.8 611.1L2081.8 611.7L2078.8 612.3L2076.4 612.7L2072.8 612.9L2069.2 613.2L2066.8 613.4L2035.8 613.6L2033.4 613.5L2029.8 613.3L2026.2 613.1L2023.8 612.8ZM2071.8 611.8L2074.8 611.1L2077.2 610.8L2080.8 610.6L2084.4 610.3L2086.8 610.1L2118.3 609.8L2120.7 609.9L2124.3 610.2L2127.9 610.4L2130.3 610.6L2133.3 611.2L2130.3 611.9L2127.9 612.2L2124.3 612.5L2120.7 612.8L2118.3 612.9L2086.8 613.2L2084.4 613.1L2080.8 612.8L2077.2 612.7L2074.8 612.4ZM2123.3 611.3L2126.3 610.7L2128.7 610.3L2132.3 610.1L2135.9 609.8L2138.3 609.7L2170.3 609.4L2172.8 609.5L2176.3 609.7L2179.9 609.9L2182.3 610.2L2185.3 610.8L2182.3 611.4L2179.9 611.7L2176.3 612L2172.8 612.3L2170.3 612.4L2138.3 612.7L2135.9 612.6L2132.3 612.4L2128.7 612.2L2126.3 611.9ZM2175.3 610.9L2178.3 610.2L2180.8 609.9L2184.3 609.6L2187.9 609.3L2190.3 609.2L2222.9 608.9L2225.3 609L2228.9 609.2L2232.5 609.4L2234.9 609.7L2237.9 610.3L2234.9 610.9L2232.5 611.3L2228.9 611.5L2225.3 611.8L2222.9 612L2190.3 612.3L2187.9 612.2L2184.3 611.9L2180.8 611.7L2178.3 611.5ZM2227.9 610.4L2230.9 609.7L2233.3 609.4L2236.9 609.2L2240.5 608.9L2242.9 608.7L2276.1 608.4L2278.5 608.5L2282.1 608.8L2285.7 608.9L2288.1 609.2L2291.1 609.8L2288.1 610.5L2285.7 610.8L2282.1 611.1L2278.5 611.3L2276.1 611.5L2242.9 611.8L2240.5 611.7L2236.9 611.5L2233.3 611.3L2230.9 611ZM2281.1 609.9L2284.1 609.3L2286.5 608.9L2290.1 608.7L2293.7 608.4L2296.1 608.3L2329.8 608L2332.2 608.1L2335.8 608.3L2339.4 608.5L2341.8 608.8L2344.8 609.4L2341.8 610L2339.4 610.3L2335.8 610.6L2332.2 610.9L2329.8 611L2296.1 611.3L2293.7 611.2L2290.1 611L2286.5 610.8L2284.1 610.5ZM2334.8 609.4L2337.8 608.8L2340.2 608.5L2343.8 608.2L2347.4 607.9L2349.8 607.8L2384 607.5L2386.4 607.6L2390 607.8L2393.6 608L2396 608.3L2399 608.9L2396 609.5L2393.6 609.8L2390 610.1L2386.4 610.4L2384 610.5L2349.8 610.8L2347.4 610.7L2343.8 610.5L2340.2 610.3L2337.8 610ZM2389 609L2392 608.3L2394.4 608L2398 607.7L2401.6 607.4L2404 607.3L2438.8 607L2441.2 607.1L2444.8 607.3L2448.4 607.5L2450.8 607.8L2453.8 608.4L2450.8 609L2448.4 609.4L2444.8 609.6L2441.2 609.9L2438.8 610L2404 610.4L2401.6 610.2L2398 610L2394.4 609.8L2392 609.5ZM2443.8 608.5L2446.8 607.8L2449.2 607.5L2452.8 607.2L2456.4 607L2458.8 606.8L2494.2 606.5L2496.6 606.6L2500.2 606.8L2503.8 607L2506.2 607.3L2509.2 607.9L2506.2 608.5L2503.8 608.9L2500.2 609.1L2496.6 609.4L2494.2 609.6L2458.8 609.9L2456.4 609.8L2452.8 609.5L2449.2 609.4L2446.8 609.1ZM2499.2 608L2502.2 607.3L2504.6 607L2508.2 606.8L2511.8 606.5L2514.2 606.3L2550.1 606L2552.5 606.1L2556.1 606.3L2559.7 606.5L2562.1 606.8L2565.1 607.4L2562.1 608L2559.7 608.4L2556.1 608.6L2552.5 608.9L2550.1 609.1L2514.2 609.4L2511.8 609.3L2508.2 609L2504.6 608.9L2502.2 608.6ZM2555.1 607.5L2558.1 606.8L2560.5 606.5L2564.1 606.3L2567.7 606L2570.1 605.8L2606.5 605.5L2608.9 605.6L2612.5 605.8L2616.1 606L2618.5 606.3L2621.5 606.9L2618.5 607.5L2616.1 607.9L2612.5 608.1L2608.9 608.4L2606.5 608.6L2570.1 608.9L2567.7 608.8L2564.1 608.5L2560.5 608.4L2558.1 608.1ZM2611.5 607L2614.5 606.3L2616.9 606L2620.5 605.8L2624.1 605.5L2626.5 605.3L2677 604.9L2677 607.9L2626.5 608.4L2624.1 608.3L2620.5 608L2616.9 607.9L2614.5 607.6ZM1833 649.1L1869.3 648.8L1871.7 648.9L1875.3 649.1L1878.9 649.3L1881.3 649.6L1884.3 650.2L1881.3 650.8L1878.9 651.2L1875.3 651.4L1871.7 651.7L1869.3 651.8L1833 652.1ZM1874.3 650.3L1877.3 649.6L1879.7 649.3L1883.3 649L1886.9 648.8L1889.3 648.6L1918.6 648.4L1921 648.5L1924.6 648.7L1928.2 648.9L1930.6 649.2L1933.6 649.8L1930.6 650.4L1928.2 650.8L1924.6 651L1921 651.3L1918.6 651.4L1889.3 651.7L1886.9 651.6L1883.3 651.3L1879.7 651.1L1877.3 650.9ZM1923.6 649.9L1926.6 649.2L1929 648.9L1932.6 648.6L1936.2 648.3L1938.6 648.2L1968.4 648L1970.8 648.1L1974.4 648.3L1978 648.5L1980.4 648.8L1983.4 649.4L1980.4 650L1978 650.3L1974.4 650.6L1970.8 650.9L1968.4 651L1938.6 651.3L1936.2 651.2L1932.6 650.9L1929 650.7L1926.6 650.5ZM1973.4 649.5L1976.4 648.8L1978.8 648.5L1982.4 648.2L1986 647.9L1988.4 647.8L2018.8 647.5L2021.2 647.7L2024.8 647.9L2028.4 648.1L2030.8 648.4L2033.8 649L2030.8 649.6L2028.4 649.9L2024.8 650.2L2021.2 650.5L2018.8 650.6L1988.4 650.9L1986 650.8L1982.4 650.5L1978.8 650.3L1976.4 650ZM2023.8 649L2026.8 648.4L2029.2 648.1L2032.8 647.8L2036.4 647.5L2038.8 647.4L2069.8 647.1L2072.2 647.2L2075.8 647.5L2079.4 647.7L2081.8 647.9L2084.8 648.5L2081.8 649.2L2079.4 649.5L2075.8 649.8L2072.2 650L2069.8 650.2L2038.8 650.4L2036.4 650.3L2032.8 650.1L2029.2 649.9L2026.8 649.6ZM2074.8 648.6L2077.8 648L2080.2 647.6L2083.8 647.4L2087.4 647.1L2089.8 647L2121.3 646.7L2123.7 646.8L2127.3 647L2130.9 647.2L2133.3 647.5L2136.3 648.1L2133.3 648.8L2130.9 649.1L2127.3 649.3L2123.7 649.6L2121.3 649.8L2089.8 650L2087.4 649.9L2083.8 649.7L2080.2 649.5L2077.8 649.2ZM2126.3 648.2L2129.3 647.6L2131.7 647.2L2135.3 647L2138.9 646.7L2141.3 646.5L2173.3 646.3L2175.8 646.4L2179.3 646.6L2182.9 646.8L2185.3 647.1L2188.3 647.7L2185.3 648.3L2182.9 648.7L2179.3 648.9L2175.8 649.2L2173.3 649.3L2141.3 649.6L2138.9 649.5L2135.3 649.3L2131.7 649.1L2129.3 648.8ZM2178.3 647.8L2181.3 647.1L2183.8 646.8L2187.3 646.6L2190.9 646.3L2193.3 646.1L2225.9 645.9L2228.3 646L2231.9 646.2L2235.5 646.4L2237.9 646.7L2240.9 647.3L2237.9 647.9L2235.5 648.2L2231.9 648.5L2228.3 648.8L2225.9 648.9L2193.3 649.2L2190.9 649.1L2187.3 648.8L2183.8 648.7L2181.3 648.4ZM2230.9 647.3L2233.9 646.7L2236.3 646.4L2239.9 646.1L2243.5 645.8L2245.9 645.7L2279.1 645.4L2281.5 645.5L2285.1 645.8L2288.7 645.9L2291.1 646.2L2294.1 646.8L2291.1 647.5L2288.7 647.8L2285.1 648L2281.5 648.3L2279.1 648.5L2245.9 648.8L2243.5 648.6L2239.9 648.4L2236.3 648.2L2233.9 647.9ZM2284.1 646.9L2287.1 646.3L2289.5 645.9L2293.1 645.7L2296.7 645.4L2299.1 645.3L2332.8 645L2335.2 645.1L2338.8 645.3L2342.4 645.5L2344.8 645.8L2347.8 646.4L2344.8 647L2342.4 647.4L2338.8 647.6L2335.2 647.9L2332.8 648L2299.1 648.3L2296.7 648.2L2293.1 648L2289.5 647.8L2287.1 647.5ZM2337.8 646.5L2340.8 645.8L2343.2 645.5L2346.8 645.3L2350.4 645L2352.8 644.8L2387 644.5L2389.4 644.6L2393 644.9L2396.6 645.1L2399 645.4L2402 645.9L2399 646.6L2396.6 646.9L2393 647.2L2389.4 647.5L2387 647.6L2352.8 647.9L2350.4 647.8L2346.8 647.5L2343.2 647.4L2340.8 647.1ZM2392 646L2395 645.4L2397.4 645.1L2401 644.8L2404.6 644.5L2407 644.4L2441.8 644.1L2444.2 644.2L2447.8 644.4L2451.4 644.6L2453.8 644.9L2456.8 645.5L2453.8 646.1L2451.4 646.5L2447.8 646.7L2444.2 647L2441.8 647.2L2407 647.4L2404.6 647.3L2401 647.1L2397.4 646.9L2395 646.6ZM2446.8 645.6L2449.8 644.9L2452.2 644.6L2455.8 644.4L2459.4 644.1L2461.8 643.9L2497.2 643.6L2499.6 643.7L2503.2 644L2506.8 644.2L2509.2 644.5L2512.2 645L2509.2 645.7L2506.8 646L2503.2 646.3L2499.6 646.6L2497.2 646.7L2461.8 647L2459.4 646.9L2455.8 646.7L2452.2 646.5L2449.8 646.2ZM2502.2 645.1L2505.2 644.5L2507.6 644.2L2511.2 643.9L2514.8 643.6L2517.2 643.5L2553.1 643.2L2555.5 643.3L2559.1 643.5L2562.7 643.7L2565.1 644L2568.1 644.6L2565.1 645.2L2562.7 645.6L2559.1 645.8L2555.5 646.1L2553.1 646.2L2517.2 646.5L2514.8 646.4L2511.2 646.2L2507.6 646L2505.2 645.7ZM2558.1 644.7L2561.1 644L2563.5 643.7L2567.1 643.5L2570.7 643.2L2573.1 643L2609.5 642.7L2611.9 642.8L2615.5 643.1L2619.1 643.2L2621.5 643.5L2624.5 644.1L2621.5 644.8L2619.1 645.1L2615.5 645.3L2611.9 645.6L2609.5 645.8L2573.1 646.1L2570.7 646L2567.1 645.7L2563.5 645.6L2561.1 645.3ZM2614.5 644.2L2617.5 643.6L2619.9 643.2L2623.5 643L2627.1 642.7L2629.5 642.6L2677 642.2L2677 645.2L2629.5 645.6L2627.1 645.5L2623.5 645.3L2619.9 645.1L2617.5 644.8Z"/></defs>
<use href="#b2B" fill="none" stroke="#0a0a0a" stroke-width="6.6" stroke-linejoin="round" transform="translate(0,-2.2)"/>
<use href="#b2B" fill="none" stroke="#151515" stroke-width="4.4" stroke-linejoin="round" transform="translate(0,-1.2)"/>
<use href="#b2B" fill="#fff"/></g>
<g filter="url(#blC)"><defs><path id="b2C" d="M1850 743.6L1853 742.9L1853.8 742.8L1855 742.6L1856.2 742.4L1857 742.2L2028.3 741L2029.9 741.1L2032.3 741.3L2034.7 741.4L2036.3 741.5L2039.3 742.1L2036.3 742.7L2034.7 742.8L2032.3 743L2029.9 743.3L2028.3 743.4L1857 744.8L1856.2 744.7L1855 744.4L1853.8 744.3L1853 744.2ZM2001.4 742.4L2004.4 741.7L2006 741.6L2008.4 741.5L2010.8 741.3L2012.4 741.2L2124.9 740.4L2130.9 740.4L2139.9 740.5L2148.9 740.5L2154.9 740.6L2157.9 741.2L2154.9 741.8L2148.9 741.9L2139.9 742.1L2130.9 742.3L2124.9 742.4L2012.4 743.3L2010.8 743.3L2008.4 743.2L2006 743L2004.4 743ZM2162.4 741.1L2165.4 740.5L2167.4 740.4L2170.4 740.3L2173.4 740.1L2175.4 740L2184.1 739.9L2186.1 740L2189.1 740.1L2192.1 740.2L2194.1 740.3L2197.1 740.9L2194.1 741.5L2192.1 741.6L2189.1 741.7L2186.1 741.9L2184.1 742L2175.4 742L2173.4 742L2170.4 741.9L2167.4 741.8L2165.4 741.7ZM2192.7 740.9L2195.7 740.2L2197.7 740.2L2200.7 740L2203.7 739.9L2205.7 739.8L2219.1 739.7L2221.1 739.8L2224.1 739.9L2227.1 739.9L2229.1 740L2232.1 740.6L2229.1 741.2L2227.1 741.3L2224.1 741.4L2221.1 741.6L2219.1 741.6L2205.7 741.7L2203.7 741.7L2200.7 741.6L2197.7 741.5L2195.7 741.5ZM2229.3 740.6L2232.3 740L2234.3 739.9L2237.3 739.8L2240.3 739.6L2242.3 739.6L2257.4 739.4L2259.4 739.5L2262.4 739.6L2265.4 739.6L2267.4 739.7L2270.4 740.3L2267.4 740.9L2265.4 741L2262.4 741.1L2259.4 741.2L2257.4 741.3L2242.3 741.4L2240.3 741.4L2237.3 741.3L2234.3 741.3L2232.3 741.2ZM2269.2 740.3L2272.2 739.6L2274.2 739.6L2277.2 739.5L2280.2 739.4L2282.2 739.3L2297.2 739.2L2299.2 739.2L2302.2 739.3L2305.2 739.3L2307.2 739.4L2310.2 740L2307.2 740.6L2305.2 740.7L2302.2 740.8L2299.2 740.9L2297.2 741L2282.2 741.1L2280.2 741L2277.2 741L2274.2 740.9L2272.2 740.9ZM2312.2 740L2315.2 739.3L2317.2 739.2L2320.2 739.2L2323.2 739.1L2325.2 739.1L2337.1 739L2339.1 739L2342.1 739L2345.1 739L2347.1 739.1L2350.1 739.7L2347.1 740.3L2345.1 740.4L2342.1 740.4L2339.1 740.5L2337.1 740.6L2325.2 740.6L2323.2 740.6L2320.2 740.6L2317.2 740.6L2315.2 740.6ZM2356.8 739.6L2359.8 739L2361.8 738.9L2364.8 738.8L2367.8 738.8L2369.8 738.8L2378.5 738.7L2380.5 738.7L2383.5 738.7L2386.5 738.7L2388.5 738.7L2391.5 739.3L2388.5 740L2386.5 740L2383.5 740.1L2380.5 740.1L2378.5 740.2L2369.8 740.2L2367.8 740.2L2364.8 740.2L2361.8 740.2L2359.8 740.2ZM1845.2 780.7L1848.2 780.1L1849 780L1850.2 779.8L1851.4 779.5L1852.2 779.4L2028.3 778.2L2029.9 778.2L2032.3 778.4L2034.7 778.6L2036.3 778.7L2039.3 779.3L2036.3 779.9L2034.7 780L2032.3 780.2L2029.9 780.4L2028.3 780.5L1852.2 782L1851.4 781.9L1850.2 781.6L1849 781.4L1848.2 781.3ZM2001.4 779.6L2004.4 778.9L2006 778.8L2008.4 778.7L2010.8 778.5L2012.4 778.4L2106.8 777.7L2110.8 777.7L2116.8 777.9L2122.8 777.9L2126.8 778L2129.8 778.6L2126.8 779.2L2122.8 779.3L2116.8 779.5L2110.8 779.7L2106.8 779.8L2012.4 780.6L2010.8 780.5L2008.4 780.3L2006 780.2L2004.4 780.2ZM2125.7 778.6L2128.7 778L2130.7 777.9L2133.7 777.7L2136.7 777.6L2138.7 777.5L2150.6 777.4L2152.6 777.5L2155.6 777.6L2158.6 777.7L2160.6 777.7L2163.6 778.3L2160.6 779L2158.6 779.1L2155.6 779.2L2152.6 779.4L2150.6 779.4L2138.7 779.5L2136.7 779.5L2133.7 779.4L2130.7 779.3L2128.7 779.2ZM2160.8 778.3L2163.8 777.7L2165.8 777.6L2168.8 777.5L2171.8 777.3L2173.8 777.3L2185.7 777.2L2187.7 777.2L2190.7 777.3L2193.7 777.4L2195.7 777.5L2198.7 778.1L2195.7 778.7L2193.7 778.8L2190.7 778.9L2187.7 779.1L2185.7 779.1L2173.8 779.2L2171.8 779.2L2168.8 779.1L2165.8 779L2163.8 778.9ZM2195.8 778.1L2198.8 777.4L2200.8 777.3L2203.8 777.2L2206.8 777.1L2208.8 777L2222.3 776.9L2224.3 777L2227.3 777L2230.3 777.1L2232.3 777.2L2235.3 777.8L2232.3 778.4L2230.3 778.5L2227.3 778.6L2224.3 778.8L2222.3 778.8L2208.8 778.9L2206.8 778.9L2203.8 778.8L2200.8 778.7L2198.8 778.7ZM2234.1 777.8L2237.1 777.1L2239.1 777.1L2242.1 776.9L2245.1 776.8L2247.1 776.8L2260.6 776.7L2262.6 776.7L2265.6 776.8L2268.6 776.8L2270.6 776.9L2273.6 777.5L2270.6 778.1L2268.6 778.2L2265.6 778.3L2262.6 778.4L2260.6 778.5L2247.1 778.6L2245.1 778.6L2242.1 778.5L2239.1 778.4L2237.1 778.4ZM2275.5 777.5L2278.5 776.8L2280.5 776.7L2283.5 776.7L2286.5 776.5L2288.5 776.5L2300.4 776.4L2302.4 776.4L2305.4 776.5L2308.4 776.5L2310.4 776.6L2313.4 777.2L2310.4 777.8L2308.4 777.9L2305.4 778L2302.4 778.1L2300.4 778.2L2288.5 778.2L2286.5 778.2L2283.5 778.2L2280.5 778.1L2278.5 778.1ZM2318.6 777.1L2321.6 776.5L2323.6 776.4L2326.6 776.4L2329.6 776.3L2331.6 776.3L2341.9 776.2L2343.9 776.2L2346.9 776.2L2349.9 776.2L2351.9 776.3L2354.9 776.9L2351.9 777.5L2349.9 777.6L2346.9 777.6L2343.9 777.7L2341.9 777.8L2331.6 777.8L2329.6 777.8L2326.6 777.8L2323.6 777.8L2321.6 777.7ZM2363.2 776.8L2366.2 776.2L2368.2 776.1L2371.2 776L2374.2 776L2376.2 776L2383.3 775.9L2385.3 775.9L2388.3 775.9L2391.3 775.9L2393.3 776L2396.3 776.5L2393.3 777.2L2391.3 777.2L2388.3 777.3L2385.3 777.4L2383.3 777.4L2376.2 777.4L2374.2 777.4L2371.2 777.4L2368.2 777.4L2366.2 777.4Z"/></defs>
<use href="#b2C" fill="none" stroke="#070707" stroke-width="8.4" stroke-linejoin="round" transform="translate(0,-3.2)"/>
<use href="#b2C" fill="none" stroke="#101010" stroke-width="5.4" stroke-linejoin="round" transform="translate(0,-1.9)"/>
<use href="#b2C" fill="none" stroke="#1a1a1a" stroke-width="3.0" stroke-linejoin="round" transform="translate(0,-1.0)"/>
<use href="#b2C" fill="#fff"/></g>
</g></g>
<path d="M1845 152.60L2665 143.10" stroke="#000" stroke-width="2.5" fill="none"/>
<path d="M1845 152.60L2665 143.10" stroke="#fff" stroke-width="2.5" stroke-dasharray="10 10" fill="none"/>
<path d="M1845 168.25L2665 158.75" stroke="#000" stroke-width="2.5" fill="none"/>
<path d="M1845 168.25L2665 158.75" stroke="#fff" stroke-width="2.5" stroke-dasharray="10 10" fill="none"/>
<path d="M1845 189.20L2665 179.40" stroke="#000" stroke-width="2.5" fill="none"/>
<path d="M1845 189.20L2665 179.40" stroke="#fff" stroke-width="2.5" stroke-dasharray="10 10" fill="none"/>
<path d="M1845 205.00L2665 195.20" stroke="#000" stroke-width="2.5" fill="none"/>
<path d="M1845 205.00L2665 195.20" stroke="#fff" stroke-width="2.5" stroke-dasharray="10 10" fill="none"/>
<path d="M1845 224.50L2665 215.05" stroke="#000" stroke-width="2.5" fill="none"/>
<path d="M1845 224.50L2665 215.05" stroke="#fff" stroke-width="2.5" stroke-dasharray="10 10" fill="none"/>
<path d="M1845 240.15L2665 230.70" stroke="#000" stroke-width="2.5" fill="none"/>
<path d="M1845 240.15L2665 230.70" stroke="#fff" stroke-width="2.5" stroke-dasharray="10 10" fill="none"/>
<path d="M1845 260.70L2665 251.25" stroke="#000" stroke-width="2.5" fill="none"/>
<path d="M1845 260.70L2665 251.25" stroke="#fff" stroke-width="2.5" stroke-dasharray="10 10" fill="none"/>
<path d="M1845 276.50L2665 266.90" stroke="#000" stroke-width="2.5" fill="none"/>
<path d="M1845 276.50L2665 266.90" stroke="#fff" stroke-width="2.5" stroke-dasharray="10 10" fill="none"/>
<path d="M1845 303.60L2665 294.55" stroke="#000" stroke-width="2.5" fill="none"/>
<path d="M1845 303.60L2665 294.55" stroke="#fff" stroke-width="2.5" stroke-dasharray="10 10" fill="none"/>
<path d="M1845 319.35L2665 310.20" stroke="#000" stroke-width="2.5" fill="none"/>
<path d="M1845 319.35L2665 310.20" stroke="#fff" stroke-width="2.5" stroke-dasharray="10 10" fill="none"/>
<path d="M1845 339.95L2665 331.05" stroke="#000" stroke-width="2.5" fill="none"/>
<path d="M1845 339.95L2665 331.05" stroke="#fff" stroke-width="2.5" stroke-dasharray="10 10" fill="none"/>
<path d="M1845 355.75L2665 346.70" stroke="#000" stroke-width="2.5" fill="none"/>
<path d="M1845 355.75L2665 346.70" stroke="#fff" stroke-width="2.5" stroke-dasharray="10 10" fill="none"/>
<path d="M1845 391.80L2665 383.45" stroke="#000" stroke-width="2.5" fill="none"/>
<path d="M1845 391.80L2665 383.45" stroke="#fff" stroke-width="2.5" stroke-dasharray="10 10" fill="none"/>
<path d="M1845 407.40L2665 399.10" stroke="#000" stroke-width="2.5" fill="none"/>
<path d="M1845 407.40L2665 399.10" stroke="#fff" stroke-width="2.5" stroke-dasharray="10 10" fill="none"/>
<path d="M1845 428.65L2665 420.05" stroke="#000" stroke-width="2.5" fill="none"/>
<path d="M1845 428.65L2665 420.05" stroke="#fff" stroke-width="2.5" stroke-dasharray="10 10" fill="none"/>
<path d="M1845 444.00L2665 435.60" stroke="#000" stroke-width="2.5" fill="none"/>
<path d="M1845 444.00L2665 435.60" stroke="#fff" stroke-width="2.5" stroke-dasharray="10 10" fill="none"/>
<path d="M1845 491.40L2665 483.50" stroke="#000" stroke-width="2.5" fill="none"/>
<path d="M1845 491.40L2665 483.50" stroke="#fff" stroke-width="2.5" stroke-dasharray="10 10" fill="none"/>
<path d="M1845 507.05L2665 499.15" stroke="#000" stroke-width="2.5" fill="none"/>
<path d="M1845 507.05L2665 499.15" stroke="#fff" stroke-width="2.5" stroke-dasharray="10 10" fill="none"/>
<path d="M1845 528.15L2665 520.40" stroke="#000" stroke-width="2.5" fill="none"/>
<path d="M1845 528.15L2665 520.40" stroke="#fff" stroke-width="2.5" stroke-dasharray="10 10" fill="none"/>
<path d="M1845 543.80L2665 536.05" stroke="#000" stroke-width="2.5" fill="none"/>
<path d="M1845 543.80L2665 536.05" stroke="#fff" stroke-width="2.5" stroke-dasharray="10 10" fill="none"/>
<path d="M1845 604.30L2665 597.00" stroke="#000" stroke-width="2.5" fill="none"/>
<path d="M1845 604.30L2665 597.00" stroke="#fff" stroke-width="2.5" stroke-dasharray="10 10" fill="none"/>
<path d="M1845 619.90L2665 612.65" stroke="#000" stroke-width="2.5" fill="none"/>
<path d="M1845 619.90L2665 612.65" stroke="#fff" stroke-width="2.5" stroke-dasharray="10 10" fill="none"/>
<path d="M1845 641.30L2665 634.30" stroke="#000" stroke-width="2.5" fill="none"/>
<path d="M1845 641.30L2665 634.30" stroke="#fff" stroke-width="2.5" stroke-dasharray="10 10" fill="none"/>
<path d="M1845 657.10L2665 649.85" stroke="#000" stroke-width="2.5" fill="none"/>
<path d="M1845 657.10L2665 649.85" stroke="#fff" stroke-width="2.5" stroke-dasharray="10 10" fill="none"/>
<path d="M1845 733.40L2665 726.95" stroke="#000" stroke-width="2.5" fill="none"/>
<path d="M1845 733.40L2665 726.95" stroke="#fff" stroke-width="2.5" stroke-dasharray="10 10" fill="none"/>
<path d="M1845 749.05L2665 742.75" stroke="#000" stroke-width="2.5" fill="none"/>
<path d="M1845 749.05L2665 742.75" stroke="#fff" stroke-width="2.5" stroke-dasharray="10 10" fill="none"/>
<path d="M1845 770.85L2665 764.55" stroke="#000" stroke-width="2.5" fill="none"/>
<path d="M1845 770.85L2665 764.55" stroke="#fff" stroke-width="2.5" stroke-dasharray="10 10" fill="none"/>
<path d="M1845 786.60L2665 780.30" stroke="#000" stroke-width="2.5" fill="none"/>
<path d="M1845 786.60L2665 780.30" stroke="#fff" stroke-width="2.5" stroke-dasharray="10 10" fill="none"/>
<rect x="1844.8" y="100.0" width="820.2" height="713.0" fill="none" stroke="#000" stroke-width="1.6"/>
<path d="M1845.2 813.0v7" stroke="#000" stroke-width="1.7"/>
<text x="1845.2" y="843" font-size="20.83" text-anchor="middle">0</text>
<path d="M1945.3 813.0v7" stroke="#000" stroke-width="1.7"/>
<text x="1945.3" y="843" font-size="20.83" text-anchor="middle">250</text>
<path d="M2045.4 813.0v7" stroke="#000" stroke-width="1.7"/>
<text x="2045.4" y="843" font-size="20.83" text-anchor="middle">500</text>
<path d="M2145.5 813.0v7" stroke="#000" stroke-width="1.7"/>
<text x="2145.5" y="843" font-size="20.83" text-anchor="middle">750</text>
<path d="M2245.6 813.0v7" stroke="#000" stroke-width="1.7"/>
<text x="2245.6" y="843" font-size="20.83" text-anchor="middle">1000</text>
<path d="M2345.7 813.0v7" stroke="#000" stroke-width="1.7"/>
<text x="2345.7" y="843" font-size="20.83" text-anchor="middle">1250</text>
<path d="M2445.8 813.0v7" stroke="#000" stroke-width="1.7"/>
<text x="2445.8" y="843" font-size="20.83" text-anchor="middle">1500</text>
<path d="M2545.9 813.0v7" stroke="#000" stroke-width="1.7"/>
<text x="2545.9" y="843" font-size="20.83" text-anchor="middle">1750</text>
<path d="M2646.0 813.0v7" stroke="#000" stroke-width="1.7"/>
<text x="2646.0" y="843" font-size="20.83" text-anchor="middle">2000</text>
<path d="M1844.8 813h-6.8" stroke="#000" stroke-width="1.7"/>
<path d="M1844.8 726h-6.8" stroke="#000" stroke-width="1.7"/>
<path d="M1844.8 639h-6.8" stroke="#000" stroke-width="1.7"/>
<path d="M1844.8 552h-6.8" stroke="#000" stroke-width="1.7"/>
<path d="M1844.8 464h-6.8" stroke="#000" stroke-width="1.7"/>
<path d="M1844.8 377h-6.8" stroke="#000" stroke-width="1.7"/>
<path d="M1844.8 290h-6.8" stroke="#000" stroke-width="1.7"/>
<path d="M1844.8 203h-6.8" stroke="#000" stroke-width="1.7"/>
<path d="M1844.8 116h-6.8" stroke="#000" stroke-width="1.7"/>
<text x="2255.0" y="87" font-size="25" text-anchor="middle">CHIP3</text>
<text x="2256.1" y="871.8" font-size="20.83" text-anchor="middle">pixel</text>
<text x="1350" y="34.4" font-size="20.83" text-anchor="middle" xml:space="preserve">bet_Pic_L3426_2023-10-12_06180  (extract_height=45)</text>
<text transform="translate(39.9,458.3) rotate(-90)" font-size="20.83" text-anchor="middle">pixel</text>
</svg></body></html>
